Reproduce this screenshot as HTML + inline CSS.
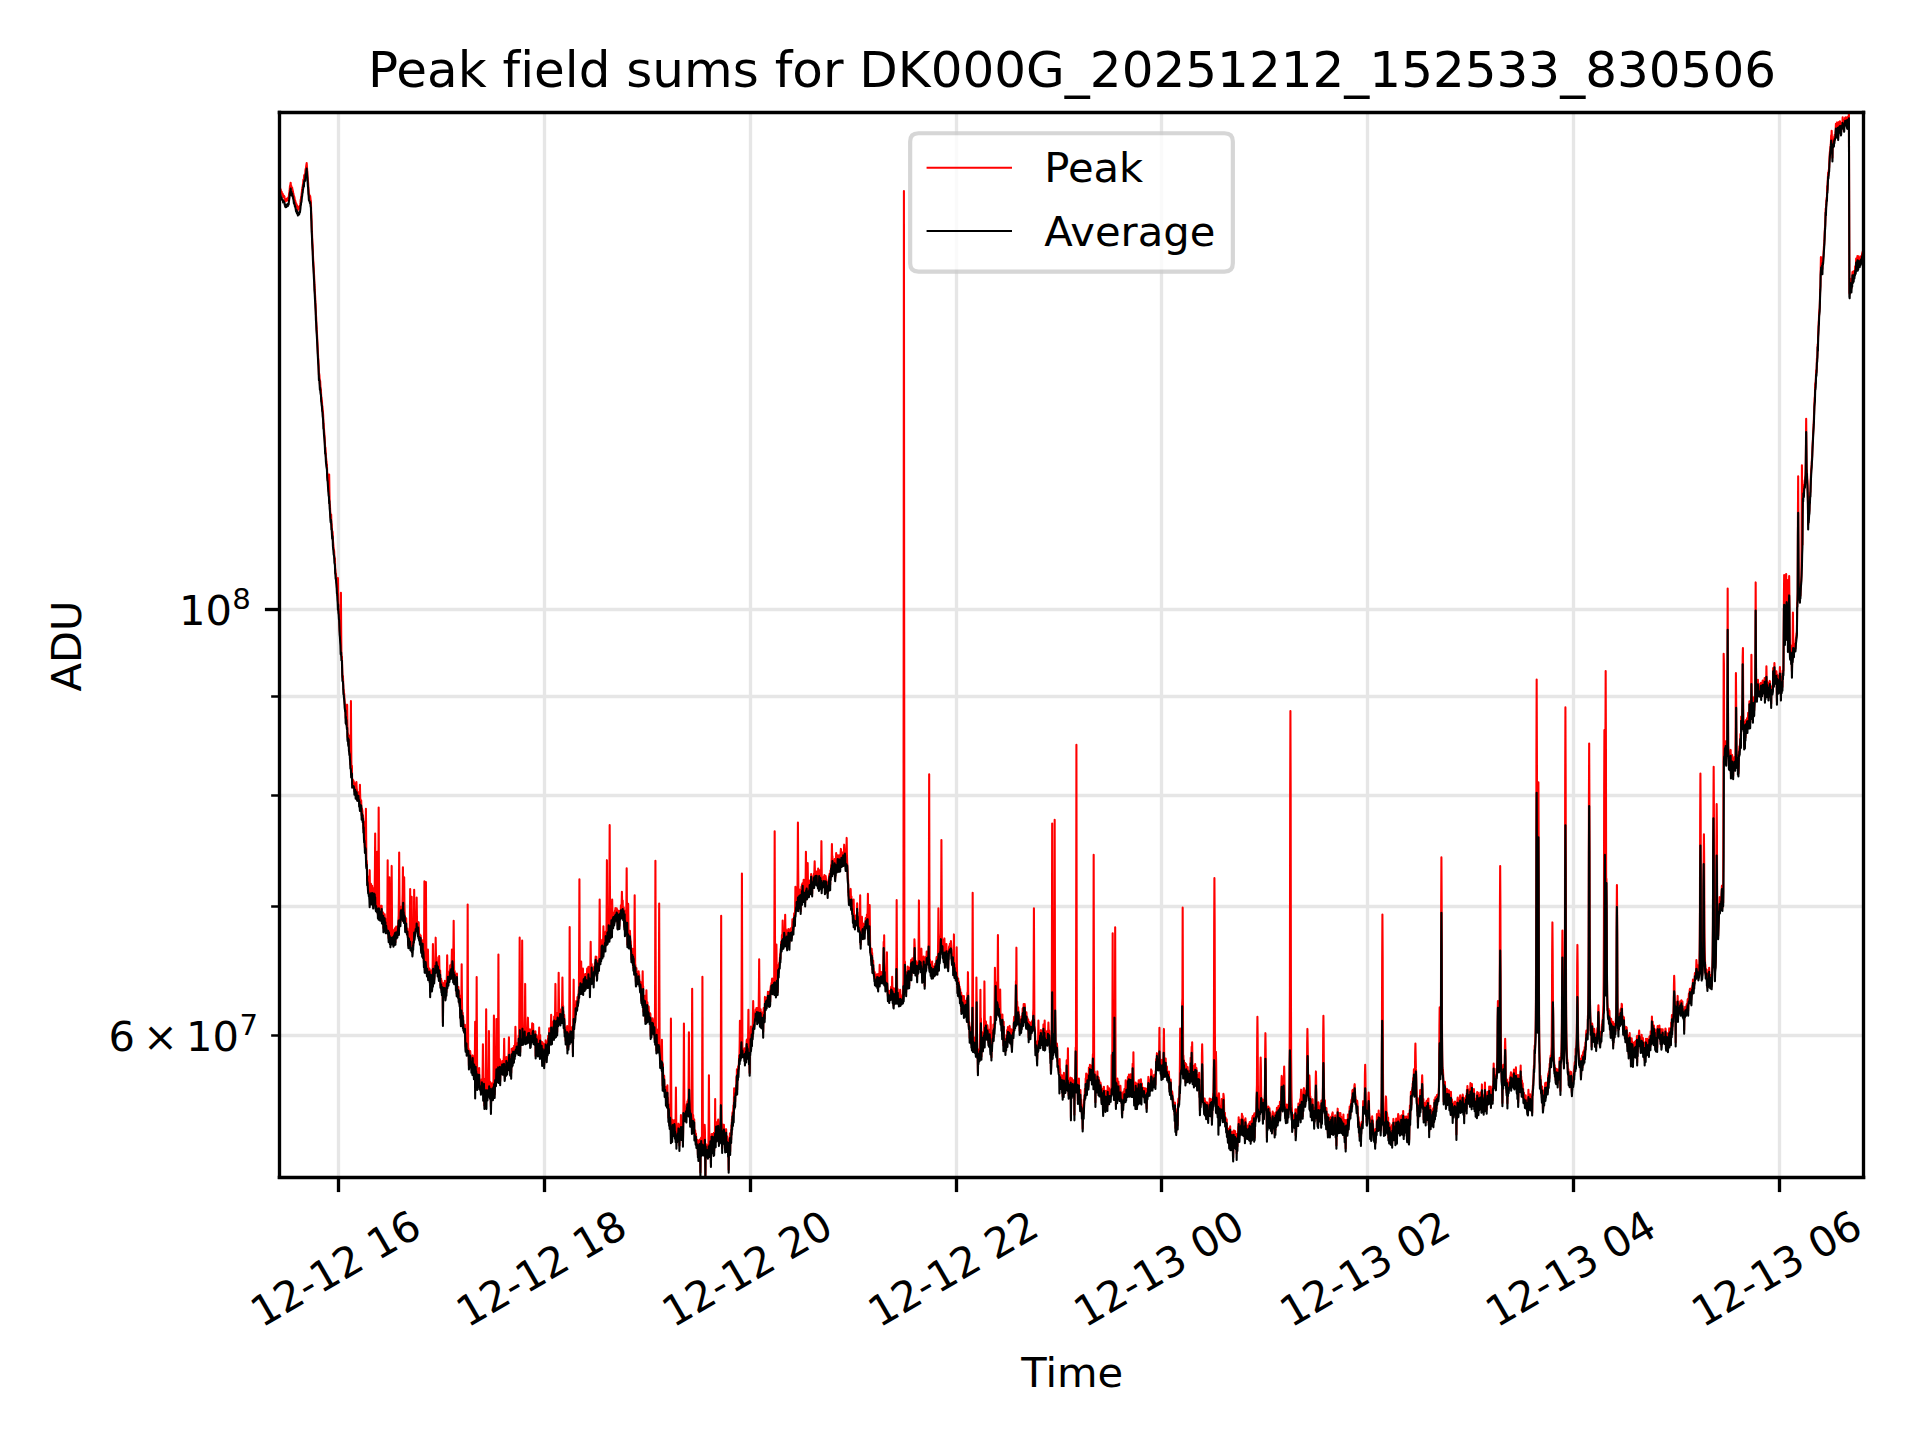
<!DOCTYPE html>
<html lang="en"><head><meta charset="utf-8"><title>Peak field sums</title>
<style>html,body{margin:0;padding:0;background:#fff;}body{width:1920px;height:1440px;overflow:hidden;font-family:'DejaVu Sans','Liberation Sans',sans-serif;}svg{display:block;}svg text{font-variant-ligatures:none;}</style>
</head><body>
<svg  width="1920" height="1440" viewBox="0 0 460.8 345.6" version="1.1">
 
 <defs>
  <style type="text/css">*{stroke-linejoin: round; stroke-linecap: butt}</style>
 </defs>
 <g id="figure_1">
  <g id="patch_1">
   <path d="M 0 345.6 
L 460.8 345.6 
L 460.8 0 
L 0 0 
z
" style="fill: #ffffff"/>
  </g>
  <g id="axes_1">
   <g id="patch_2">
    <path d="M 67.056 282.576 
L 447.264 282.576 
L 447.264 26.976 
L 67.056 26.976 
z
" style="fill: #ffffff"/>
   </g>
   <g id="matplotlib.axis_1">
    <g id="xtick_1">
     <g id="line2d_1">
      <path d="M 81.24 282.576 L 81.24 26.976" clip-path="url(#pd9eb30c69a)" style="fill: none; stroke: #e6e6e6; stroke-width: 0.8; stroke-linecap: square"/>
     </g>
     <g id="line2d_2">
      <defs>
       <path id="m61a1bba731" d="M 0 0 
L 0 3.5 
" style="stroke: #000000; stroke-width: 0.8"/>
      </defs>
      <g>
       <use href="#m61a1bba731" x="81.24" y="282.6" style="stroke: #000000; stroke-width: 0.8"/>
      </g>
     </g>
     <g id="text_1">
      <text style="font-size: 10px; font-family: 'DejaVu Sans', 'Liberation Sans', sans-serif" transform="translate(62.7910 318.7089) rotate(-30)">12-12 16</text>
     </g>
    </g>
    <g id="xtick_2">
     <g id="line2d_3">
      <path d="M 130.68 282.576 L 130.68 26.976" clip-path="url(#pd9eb30c69a)" style="fill: none; stroke: #e6e6e6; stroke-width: 0.8; stroke-linecap: square"/>
     </g>
     <g id="line2d_4">
      <g>
       <use href="#m61a1bba731" x="130.68" y="282.6" style="stroke: #000000; stroke-width: 0.8"/>
      </g>
     </g>
     <g id="text_2">
      <text style="font-size: 10px; font-family: 'DejaVu Sans', 'Liberation Sans', sans-serif" transform="translate(112.1967 318.7089) rotate(-30)">12-12 18</text>
     </g>
    </g>
    <g id="xtick_3">
     <g id="line2d_5">
      <path d="M 180.12 282.576 L 180.12 26.976" clip-path="url(#pd9eb30c69a)" style="fill: none; stroke: #e6e6e6; stroke-width: 0.8; stroke-linecap: square"/>
     </g>
     <g id="line2d_6">
      <g>
       <use href="#m61a1bba731" x="180.12" y="282.6" style="stroke: #000000; stroke-width: 0.8"/>
      </g>
     </g>
     <g id="text_3">
      <text style="font-size: 10px; font-family: 'DejaVu Sans', 'Liberation Sans', sans-serif" transform="translate(161.6025 318.7089) rotate(-30)">12-12 20</text>
     </g>
    </g>
    <g id="xtick_4">
     <g id="line2d_7">
      <path d="M 229.56 282.576 L 229.56 26.976" clip-path="url(#pd9eb30c69a)" style="fill: none; stroke: #e6e6e6; stroke-width: 0.8; stroke-linecap: square"/>
     </g>
     <g id="line2d_8">
      <g>
       <use href="#m61a1bba731" x="229.56" y="282.6" style="stroke: #000000; stroke-width: 0.8"/>
      </g>
     </g>
     <g id="text_4">
      <text style="font-size: 10px; font-family: 'DejaVu Sans', 'Liberation Sans', sans-serif" transform="translate(211.0082 318.7089) rotate(-30)">12-12 22</text>
     </g>
    </g>
    <g id="xtick_5">
     <g id="line2d_9">
      <path d="M 278.76 282.576 L 278.76 26.976" clip-path="url(#pd9eb30c69a)" style="fill: none; stroke: #e6e6e6; stroke-width: 0.8; stroke-linecap: square"/>
     </g>
     <g id="line2d_10">
      <g>
       <use href="#m61a1bba731" x="278.76" y="282.6" style="stroke: #000000; stroke-width: 0.8"/>
      </g>
     </g>
     <g id="text_5">
      <text style="font-size: 10px; font-family: 'DejaVu Sans', 'Liberation Sans', sans-serif" transform="translate(260.4139 318.7089) rotate(-30)">12-13 00</text>
     </g>
    </g>
    <g id="xtick_6">
     <g id="line2d_11">
      <path d="M 328.2 282.576 L 328.2 26.976" clip-path="url(#pd9eb30c69a)" style="fill: none; stroke: #e6e6e6; stroke-width: 0.8; stroke-linecap: square"/>
     </g>
     <g id="line2d_12">
      <g>
       <use href="#m61a1bba731" x="328.2" y="282.6" style="stroke: #000000; stroke-width: 0.8"/>
      </g>
     </g>
     <g id="text_6">
      <text style="font-size: 10px; font-family: 'DejaVu Sans', 'Liberation Sans', sans-serif" transform="translate(309.8196 318.7089) rotate(-30)">12-13 02</text>
     </g>
    </g>
    <g id="xtick_7">
     <g id="line2d_13">
      <path d="M 377.64 282.576 L 377.64 26.976" clip-path="url(#pd9eb30c69a)" style="fill: none; stroke: #e6e6e6; stroke-width: 0.8; stroke-linecap: square"/>
     </g>
     <g id="line2d_14">
      <g>
       <use href="#m61a1bba731" x="377.64" y="282.6" style="stroke: #000000; stroke-width: 0.8"/>
      </g>
     </g>
     <g id="text_7">
      <text style="font-size: 10px; font-family: 'DejaVu Sans', 'Liberation Sans', sans-serif" transform="translate(359.2253 318.7089) rotate(-30)">12-13 04</text>
     </g>
    </g>
    <g id="xtick_8">
     <g id="line2d_15">
      <path d="M 427.08 282.576 L 427.08 26.976" clip-path="url(#pd9eb30c69a)" style="fill: none; stroke: #e6e6e6; stroke-width: 0.8; stroke-linecap: square"/>
     </g>
     <g id="line2d_16">
      <g>
       <use href="#m61a1bba731" x="427.08" y="282.6" style="stroke: #000000; stroke-width: 0.8"/>
      </g>
     </g>
     <g id="text_8">
      <text style="font-size: 10px; font-family: 'DejaVu Sans', 'Liberation Sans', sans-serif" transform="translate(408.6310 318.7089) rotate(-30)">12-13 06</text>
     </g>
    </g>
    <g id="text_9">
     <text style="font-size: 10px; font-family: 'DejaVu Sans', 'Liberation Sans', sans-serif; text-anchor: middle" x="257.3280" y="332.8284" transform="rotate(-0 257.3280 332.8284)">Time</text>
    </g>
   </g>
   <g id="matplotlib.axis_2">
    <g id="ytick_1">
     <g id="line2d_17">
      <path d="M 67.056 146.28 L 447.264 146.28" clip-path="url(#pd9eb30c69a)" style="fill: none; stroke: #e6e6e6; stroke-width: 0.8; stroke-linecap: square"/>
     </g>
     <g id="line2d_18">
      <defs>
       <path id="m8c4eb105f7" d="M 0 0 
L -3.5 0 
" style="stroke: #000000; stroke-width: 0.8"/>
      </defs>
      <g>
       <use href="#m8c4eb105f7" x="67.08" y="146.28" style="stroke: #000000; stroke-width: 0.8"/>
      </g>
     </g>
     <g id="text_10">
      
      <g transform="translate(42.9360 150.9792)">
       <text>
        <tspan x="0" y="-0.976562" style="font-size: 10px; font-family: 'DejaVu Sans', 'Liberation Sans', sans-serif">1</tspan>
        <tspan x="6.362305" y="-0.976562" style="font-size: 10px; font-family: 'DejaVu Sans', 'Liberation Sans', sans-serif">0</tspan>
        <tspan x="12.820312" y="-4.804688" style="font-size: 7px; font-family: 'DejaVu Sans', 'Liberation Sans', sans-serif">8</tspan>
       </text>
      </g>
     </g>
    </g>
    <g id="ytick_2">
     <g id="line2d_19">
      <path d="M 67.056 248.52 L 447.264 248.52" clip-path="url(#pd9eb30c69a)" style="fill: none; stroke: #e6e6e6; stroke-width: 0.8; stroke-linecap: square"/>
     </g>
     <g id="line2d_20">
      <defs>
       <path id="me1d3a21ee4" d="M 0 0 
L -2 0 
" style="stroke: #000000; stroke-width: 0.6"/>
      </defs>
      <g>
       <use href="#me1d3a21ee4" x="67.08" y="248.52" style="stroke: #000000; stroke-width: 0.6"/>
      </g>
     </g>
     <g id="text_11">
      
      <g transform="translate(26.0320 252.2112)">
       <text>
        <tspan x="0" y="-0.064063" style="font-size: 10px; font-family: 'DejaVu Sans', 'Liberation Sans', sans-serif">6</tspan>
        <tspan x="8.310547" y="-0.064063" style="font-size: 10px; font-family: 'DejaVu Sans', 'Liberation Sans', sans-serif">×</tspan>
        <tspan x="18.637695" y="-0.064063" style="font-size: 10px; font-family: 'DejaVu Sans', 'Liberation Sans', sans-serif">1</tspan>
        <tspan x="25" y="-0.064063" style="font-size: 10px; font-family: 'DejaVu Sans', 'Liberation Sans', sans-serif">0</tspan>
        <tspan x="31.458008" y="-3.892188" style="font-size: 7px; font-family: 'DejaVu Sans', 'Liberation Sans', sans-serif">7</tspan>
       </text>
      </g>
     </g>
    </g>
    <g id="ytick_3">
     <g id="line2d_21">
      <path d="M 67.056 217.56 L 447.264 217.56" clip-path="url(#pd9eb30c69a)" style="fill: none; stroke: #e6e6e6; stroke-width: 0.8; stroke-linecap: square"/>
     </g>
     <g id="line2d_22">
      <g>
       <use href="#me1d3a21ee4" x="67.08" y="217.56" style="stroke: #000000; stroke-width: 0.6"/>
      </g>
     </g>
    </g>
    <g id="ytick_4">
     <g id="line2d_23">
      <path d="M 67.056 190.92 L 447.264 190.92" clip-path="url(#pd9eb30c69a)" style="fill: none; stroke: #e6e6e6; stroke-width: 0.8; stroke-linecap: square"/>
     </g>
     <g id="line2d_24">
      <g>
       <use href="#me1d3a21ee4" x="67.08" y="190.92" style="stroke: #000000; stroke-width: 0.6"/>
      </g>
     </g>
    </g>
    <g id="ytick_5">
     <g id="line2d_25">
      <path d="M 67.056 167.16 L 447.264 167.16" clip-path="url(#pd9eb30c69a)" style="fill: none; stroke: #e6e6e6; stroke-width: 0.8; stroke-linecap: square"/>
     </g>
     <g id="line2d_26">
      <g>
       <use href="#me1d3a21ee4" x="67.08" y="167.16" style="stroke: #000000; stroke-width: 0.6"/>
      </g>
     </g>
    </g>
    <g id="text_12">
     <text style="font-size: 10px; font-family: 'DejaVu Sans', 'Liberation Sans', sans-serif; text-anchor: middle" x="19.5443" y="155.0400" transform="rotate(-90 19.5443 155.0400)">ADU</text>
    </g>
   </g>
   <g id="line2d_27">
    <path d="M67.06 45.04L67.12 45.24L67.18 45.3L67.24 45.16L67.3 45.5L67.36 45.48L67.42 45.9L67.48 46.38L67.54 45.99L67.6 46.04L67.66 46.5L67.72 46.58L67.78 46.68L67.84 46.51L67.9 46.89L67.96 47.27L68.02 46.88L68.08 47.21L68.14 46.97L68.2 47.2L68.26 47.14L68.32 47.83L68.38 47.67L68.44 48.19L68.5 48.3L68.56 48.33L68.62 47.81L68.68 48.11L68.74 48.2L68.8 48.19L68.86 47.68L68.92 47.83L68.98 47.61L69.04 47.67L69.1 48.04L69.16 47.44L69.22 47.59L69.28 47.72L69.34 46.93L69.4 46.5L69.46 46.16L69.52 45.65L69.58 44.78L69.64 44.48L69.7 44.34L69.76 43.85L69.82 44.71L69.88 44.71L69.94 44.68L70 45.39L70.06 45.37L70.12 45.05L70.18 45.56L70.24 45.85L70.3 45.84L70.36 46.35L70.42 46.49L70.48 46.93L70.54 47.34L70.6 47.13L70.66 47.53L70.72 47.76L70.78 48.2L70.84 48.12L70.9 48.44L70.96 48.53L71.02 49.19L71.08 49.37L71.14 48.96L71.2 49.28L71.26 49.83L71.32 49.33L71.38 49.93L71.44 50.05L71.5 50.38L71.56 50.17L71.62 49.75L71.68 49.77L71.74 49.64L71.8 50.08L71.86 49.5L71.92 49.53L71.98 49.51L72.04 49.19L72.1 48.63L72.16 47.9L72.22 47.83L72.28 47.21L72.34 47.05L72.4 46.49L72.46 45.96L72.52 45.6L72.58 44.93L72.64 44.91L72.7 44.23L72.76 43.93L72.82 43.09L72.88 43.2L72.94 43.44L73 42.1L73.06 42.2L73.12 41.87L73.18 41.88L73.24 42.06L73.3 40.92L73.36 40.53L73.42 40.39L73.48 39.95L73.54 39.53L73.6 39.14L73.66 39.99L73.72 40.88L73.78 41.25L73.84 42.42L73.9 43.34L73.96 43.95L74.02 45.11L74.08 45.74L74.14 46.73L74.2 46.61L74.26 46.94L74.32 46.95L74.38 47.42L74.44 47.06L74.5 47.59L74.56 48.2L74.62 48.44L74.68 50.87L74.74 51.81L74.8 54.08L74.86 55.2L74.92 57.03L74.98 58.16L75.04 58.97L75.1 60.97L75.16 62.28L75.22 63.02L75.28 64.15L75.34 65.43L75.4 66.4L75.46 68.21L75.52 68.78L75.58 70.25L75.64 71.19L75.7 72.51L75.76 73.38L75.82 75.42L75.88 76.2L75.94 77.84L76 78.7L76.06 79.67L76.12 80.97L76.18 82.11L76.24 83.44L76.3 84.61L76.36 85.84L76.42 86.42L76.48 88L76.54 89.94L76.6 89.65L76.66 90.14L76.72 91.19L76.78 92.23L76.84 91.43L76.9 92.77L76.96 93.37L77.02 93.53L77.08 95.08L77.14 95.32L77.2 95.9L77.26 96.22L77.32 97.38L77.38 97.52L77.44 98.46L77.5 98.81L77.56 99.66L77.62 101.59L77.68 101.6L77.74 102.76L77.8 103.58L77.86 104.24L77.92 104.98L77.98 106.35L78.04 107.77L78.1 107.42L78.16 108.35L78.22 109.6L78.28 110.15L78.34 110.76L78.4 111.17L78.46 111.51L78.52 113.3L78.58 113.87L78.64 114.34L78.7 115.4L78.76 116.08L78.82 117L78.88 117.92L78.94 116.5L79 113.91L79.06 118L79.12 120.92L79.18 121.16L79.24 122.35L79.3 123.67L79.36 124.22L79.42 123.59L79.48 123.51L79.54 125.93L79.6 125.78L79.66 127.02L79.72 128.2L79.78 127.49L79.84 127.96L79.9 129.64L79.96 130.31L80.02 131L80.08 131.89L80.14 131.91L80.2 132.4L80.26 133.87L80.32 134.08L80.38 133.97L80.44 136.32L80.5 136.81L80.56 137.76L80.62 137.61L80.68 138.68L80.74 139.26L80.8 139.64L80.86 141.09L80.92 141.34L80.98 142.82L81.04 141.47L81.1 138.71L81.16 142.91L81.22 145.89L81.28 146.49L81.34 146.96L81.4 147.79L81.46 149.39L81.52 151.35L81.58 151.89L81.64 153.14L81.7 153.53L81.76 149.45L81.82 142.26L81.88 151.26L81.94 157.42L82 157.5L82.06 157.59L82.12 159.92L82.18 162.1L82.24 162.55L82.3 162.26L82.36 163.6L82.42 165.56L82.48 165.52L82.54 166.3L82.6 166.46L82.66 167.63L82.72 168.62L82.78 169.09L82.84 169.13L82.9 169.43L82.96 172.33L83.02 170.92L83.08 173.01L83.14 171.58L83.2 172.96L83.26 171.98L83.32 169.12L83.38 173.23L83.44 176.87L83.5 175.98L83.56 177.82L83.62 178.04L83.68 176.47L83.74 178.84L83.8 179.49L83.86 179.53L83.92 179.93L83.98 181.09L84.04 181.39L84.1 183.47L84.16 176.66L84.22 168.28L84.28 177.86L84.34 184.45L84.4 184.56L84.46 183.76L84.52 188.22L84.58 186.96L84.64 187.73L84.7 187.77L84.76 187.2L84.82 187.88L84.88 187.49L84.94 188.09L85 188.06L85.06 189.92L85.12 188.02L85.18 188.68L85.24 188.06L85.3 188.5L85.36 190.72L85.42 190.2L85.48 189.18L85.54 187.69L85.6 189.14L85.66 189.6L85.72 191.35L85.78 190.46L85.84 190.19L85.9 190.77L85.96 191.51L86.02 190.14L86.08 191.33L86.14 191.17L86.2 192.32L86.26 191.61L86.32 190.82L86.38 188.36L86.44 191.16L86.5 192.05L86.56 193.09L86.62 193.3L86.68 192.04L86.74 193.95L86.8 195.68L86.86 193.99L86.92 194.41L86.98 194.71L87.04 196.64L87.1 195.65L87.16 196.44L87.22 198.86L87.28 197.15L87.34 199.64L87.4 200.93L87.46 201.07L87.52 201.81L87.58 203.47L87.64 202.32L87.7 202.66L87.76 199.66L87.82 194.1L87.88 201.2L87.94 206.99L88 206.5L88.06 207.2L88.12 211.28L88.18 210.27L88.24 210.83L88.3 212.66L88.36 213.73L88.42 213.29L88.48 213.51L88.54 213.55L88.6 214.27L88.66 212.28L88.72 208.84L88.78 212.84L88.84 215.67L88.9 214L88.96 214.76L89.02 212.09L89.08 213.81L89.14 216L89.2 215.89L89.26 215.12L89.32 212.59L89.38 214.01L89.44 214.6L89.5 215.2L89.56 217.39L89.62 215.17L89.68 213.83L89.74 213.12L89.8 214.78L89.86 214.57L89.92 213.73L89.98 208.61L90.04 200.06L90.1 209.33L90.16 217.48L90.22 217.62L90.28 216.66L90.34 217.87L90.4 217.48L90.46 212.17L90.52 204.45L90.58 212.71L90.64 217.36L90.7 219.51L90.76 218.79L90.82 207.9L90.88 193.82L90.94 207.97L91 218.19L91.06 219.21L91.12 219.19L91.18 218.79L91.24 220.23L91.3 218.98L91.36 218.02L91.42 217.41L91.48 220.29L91.54 219.58L91.6 217.39L91.66 220.4L91.72 220.17L91.78 220.9L91.84 219.4L91.9 219.78L91.96 218.99L92.02 222.7L92.08 220.37L92.14 222.32L92.2 219.93L92.26 219.65L92.32 219.44L92.38 220.71L92.44 222.22L92.5 220.57L92.56 223.03L92.62 222.56L92.68 221.5L92.74 222.04L92.8 221.94L92.86 222.73L92.92 222.76L92.98 216.02L93.04 206.47L93.1 216.4L93.16 222.74L93.22 224.33L93.28 225.19L93.34 222.62L93.4 218.63L93.46 210.53L93.52 218.74L93.58 225.96L93.64 223.94L93.7 226.47L93.76 224.28L93.82 224.9L93.88 224.09L93.94 217.63L94 207.82L94.06 217.7L94.12 225.78L94.18 224.85L94.24 223.8L94.3 225.1L94.36 224.33L94.42 226.5L94.48 223.81L94.54 224.58L94.6 223.16L94.66 225.89L94.72 223.43L94.78 222.81L94.84 224.75L94.9 226.12L94.96 222.87L95.02 223.17L95.08 222.37L95.14 222.55L95.2 223.64L95.26 223.18L95.32 222.41L95.38 224.14L95.44 222.83L95.5 223.19L95.56 221.88L95.62 220.75L95.68 219.75L95.74 214.47L95.8 204.62L95.86 213.75L95.92 220.71L95.98 220.5L96.04 218.89L96.1 221.31L96.16 217.93L96.22 217.62L96.28 217.71L96.34 217.84L96.4 219.46L96.46 219.5L96.52 217.92L96.58 216.79L96.64 214.4L96.7 208.16L96.76 214.28L96.82 219.46L96.88 217.87L96.94 215.68L97 210.53L97.06 216.4L97.12 219.11L97.18 220.11L97.24 222.3L97.3 222.34L97.36 221.68L97.42 221.1L97.48 220.4L97.54 222.56L97.6 223.19L97.66 223.56L97.72 223.44L97.78 222.87L97.84 223.56L97.9 224.52L97.96 224.68L98.02 226.91L98.08 226.2L98.14 224.16L98.2 225.15L98.26 225.01L98.32 225.07L98.38 220.61L98.44 213.39L98.5 221.06L98.56 225.04L98.62 227.03L98.68 227.07L98.74 222.21L98.8 215.25L98.86 222.69L98.92 227.62L98.98 227.71L99.04 227.3L99.1 226.33L99.16 227.02L99.22 225.4L99.28 225.35L99.34 220.76L99.4 213.56L99.46 219.8L99.52 224.15L99.58 223.33L99.64 223.2L99.7 223.28L99.76 221.64L99.82 222.67L99.88 221.57L99.94 219.68L100 215.42L100.06 219.65L100.12 222.92L100.18 221.92L100.24 222.44L100.3 223.07L100.36 221.9L100.42 222.89L100.48 221.32L100.54 223.37L100.6 224.83L100.66 224.15L100.72 224.38L100.78 225.47L100.84 225.74L100.9 225.6L100.96 224.53L101.02 226.94L101.08 227.2L101.14 227.52L101.2 227.16L101.26 225.89L101.32 228.04L101.38 228.12L101.44 225.66L101.5 228.36L101.56 226.75L101.62 227.03L101.68 228.89L101.74 231.04L101.8 222.01L101.86 211.54L101.92 222.49L101.98 232.66L102.04 230.35L102.1 230.73L102.16 222.8L102.22 211.71L102.28 223.16L102.34 232.11L102.4 232.26L102.46 232.96L102.52 230.77L102.58 231.37L102.64 230.89L102.7 227.91L102.76 231.25L102.82 233.49L102.88 233.39L102.94 233.64L103 232.85L103.06 232.46L103.12 235.03L103.18 234.38L103.24 237.9L103.3 232.84L103.36 234.29L103.42 234.71L103.48 234.1L103.54 232.96L103.6 235.73L103.66 237.09L103.72 236.73L103.78 234.98L103.84 231.95L103.9 226.56L103.96 231.23L104.02 234.5L104.08 234.84L104.14 234.55L104.2 235.05L104.26 234.42L104.32 232.72L104.38 232.73L104.44 232.45L104.5 229.09L104.56 225.04L104.62 228.37L104.68 232.53L104.74 230.09L104.8 229.74L104.86 231.27L104.92 232.39L104.98 231.55L105.04 233.23L105.1 230.88L105.16 232.46L105.22 232.78L105.28 233.97L105.34 231.81L105.4 229.43L105.46 232.37L105.52 233.89L105.58 234L105.64 232.93L105.7 236.38L105.76 235.5L105.82 235.66L105.88 234.91L105.94 237.53L106 235.36L106.06 237.87L106.12 236.21L106.18 235.91L106.24 237.38L106.3 245.47L106.36 238.33L106.42 237.63L106.48 235.99L106.54 236.77L106.6 236.89L106.66 237.16L106.72 236.18L106.78 235.42L106.84 237.84L106.9 239.34L106.96 238.95L107.02 236.64L107.08 236.45L107.14 238.12L107.2 235.47L107.26 233.52L107.32 229.26L107.38 233.1L107.44 234.91L107.5 233.13L107.56 233.57L107.62 235.43L107.68 233.95L107.74 234.62L107.8 234.41L107.86 233.62L107.92 233.44L107.98 234.45L108.04 231.67L108.1 232.05L108.16 231.73L108.22 233.85L108.28 232.88L108.34 231.4L108.4 230.71L108.46 227.91L108.52 230.29L108.58 230.03L108.64 230.52L108.7 231.04L108.76 234.89L108.82 227.48L108.88 220.99L108.94 227.96L109 235.4L109.06 233.17L109.12 233.07L109.18 233.78L109.24 234.48L109.3 234.68L109.36 233.83L109.42 236.19L109.48 236.47L109.54 235.67L109.6 238.47L109.66 233.65L109.72 236.7L109.78 236.87L109.84 237.98L109.9 238.03L109.96 236.96L110.02 236.9L110.08 239.69L110.14 237.87L110.2 239.97L110.26 240.16L110.32 240.89L110.38 238.9L110.44 243.29L110.5 242.74L110.56 244.34L110.62 244.66L110.68 242.85L110.74 238.41L110.8 231.45L110.86 239.01L110.92 243.75L110.98 245.03L111.04 243.09L111.1 245.97L111.16 244L111.22 246.73L111.28 246.57L111.34 246.33L111.4 247.2L111.46 246.93L111.52 246.94L111.58 245.94L111.64 248.58L111.7 250.88L111.76 251.21L111.82 251.32L111.88 250.95L111.94 249.81L112 251.7L112.06 250.83L112.12 251.21L112.18 236.47L112.24 217.11L112.3 236.89L112.36 251.76L112.42 251.6L112.48 251.92L112.54 255.74L112.6 252.51L112.66 252.76L112.72 253.95L112.78 254.24L112.84 252.25L112.9 252.99L112.96 255.03L113.02 254.79L113.08 254.35L113.14 256.41L113.2 254.24L113.26 255.08L113.32 253.81L113.38 257.03L113.44 253.3L113.5 254.07L113.56 254.7L113.62 256.72L113.68 257.03L113.74 258.16L113.8 254.13L113.86 256.93L113.92 256.04L113.98 252.04L114.04 245.25L114.1 252.42L114.16 254.82L114.22 257.72L114.28 256.37L114.34 247.83L114.4 234.49L114.46 248.13L114.52 260.46L114.58 258.69L114.64 256.79L114.7 258.35L114.76 257.8L114.82 257.64L114.88 259.73L114.94 258.38L115 256.31L115.06 260.75L115.12 258.94L115.18 260.3L115.24 260.26L115.3 261.04L115.36 259.88L115.42 261.93L115.48 260.99L115.54 260.45L115.6 261.18L115.66 259.04L115.72 260.87L115.78 259.88L115.84 256.65L115.9 250.65L115.96 256.83L116.02 261.62L116.08 258.84L116.14 259.15L116.2 261.14L116.26 265.32L116.32 260.91L116.38 261.79L116.44 260.12L116.5 262.2L116.56 260.56L116.62 253.34L116.68 242.21L116.74 253.46L116.8 260.65L116.86 261.66L116.92 261.22L116.98 263.33L117.04 261L117.1 261.3L117.16 262.38L117.22 261.14L117.28 256L117.34 247.44L117.4 256.08L117.46 260.86L117.52 262.09L117.58 261.75L117.64 262.5L117.7 259.77L117.76 261.85L117.82 265.64L117.88 263.68L117.94 262.48L118 261.31L118.06 262.96L118.12 261.5L118.18 259.98L118.24 260.28L118.3 263.32L118.36 261.51L118.42 261.65L118.48 253.42L118.54 243.73L118.6 252.9L118.66 259.21L118.72 262.65L118.78 259.5L118.84 257.9L118.9 258.03L118.96 259.13L119.02 259.41L119.08 252.43L119.14 244.57L119.2 252.07L119.26 257.05L119.32 257.41L119.38 258.97L119.44 257.69L119.5 258.02L119.56 244.67L119.62 229.09L119.68 244.44L119.74 257.03L119.8 256.96L119.86 256.38L119.92 258.31L119.98 254.25L120.04 259.51L120.1 256.77L120.16 256.71L120.22 255.77L120.28 255.96L120.34 255.53L120.4 255.86L120.46 256L120.52 254.66L120.58 255.92L120.64 257.29L120.7 254.89L120.76 255.01L120.82 256.64L120.88 254.22L120.94 253.22L121 249.3L121.06 253.14L121.12 258.05L121.18 258.32L121.24 254.95L121.3 256.67L121.36 255.53L121.42 254.98L121.48 257.33L121.54 253.71L121.6 256.72L121.66 254.85L121.72 257.09L121.78 255.54L121.84 254.05L121.9 255.54L121.96 256.06L122.02 253.32L122.08 252.61L122.14 248.96L122.2 252.42L122.26 256.01L122.32 255.9L122.38 254.99L122.44 256.82L122.5 255.91L122.56 253.96L122.62 253.58L122.68 257.49L122.74 255.61L122.8 251.7L122.86 255.25L122.92 252.35L122.98 251.91L123.04 254.98L123.1 253.09L123.16 251.49L123.22 252.63L123.28 253.91L123.34 254.18L123.4 250.99L123.46 252.81L123.52 253.1L123.58 251.47L123.64 249.97L123.7 246.43L123.76 249.63L123.82 250.94L123.88 251.21L123.94 251.43L124 250.49L124.06 250.55L124.12 251.79L124.18 250.42L124.24 250.7L124.3 251.16L124.36 250.63L124.42 252.06L124.48 248.58L124.54 249.88L124.6 248.66L124.66 238.49L124.72 225.04L124.78 238.38L124.84 252.53L124.9 249.4L124.96 249.59L125.02 249.47L125.08 248.32L125.14 248.99L125.2 248.92L125.26 238.69L125.32 225.71L125.38 238.69L125.44 249.25L125.5 247.23L125.56 249.9L125.62 248.05L125.68 247.19L125.74 248.96L125.8 247.27L125.86 247.58L125.92 246.66L125.98 243.31L126.04 236.14L126.1 243.25L126.16 248.11L126.22 249.94L126.28 248.21L126.34 248.06L126.4 248.84L126.46 249.37L126.52 247.8L126.58 248.16L126.64 246.78L126.7 244.24L126.76 246.72L126.82 248.82L126.88 247.65L126.94 248.83L127 247.2L127.06 248.53L127.12 248.67L127.18 247.03L127.24 250.77L127.3 249.03L127.36 250.35L127.42 249.44L127.48 247.37L127.54 248.09L127.6 249.49L127.66 247.64L127.72 245.59L127.78 247.79L127.84 246.53L127.9 248.91L127.96 245.76L128.02 248.93L128.08 248.02L128.14 248.62L128.2 247.85L128.26 249.7L128.32 247.93L128.38 247.74L128.44 248.63L128.5 247.51L128.56 253.42L128.62 251.73L128.68 248.62L128.74 250.9L128.8 248.45L128.86 250.61L128.92 250.06L128.98 250.21L129.04 251.38L129.1 252.57L129.16 250.7L129.22 250.49L129.28 248.9L129.34 249.25L129.4 246.6L129.46 249.4L129.52 250.71L129.58 253.04L129.64 248.42L129.7 250.94L129.76 252.48L129.82 250.96L129.88 250.59L129.94 251.23L130 250.02L130.06 251.22L130.12 255.01L130.18 253.37L130.24 250.19L130.3 251.32L130.36 250.87L130.42 253.83L130.48 251.04L130.54 250.56L130.6 255.52L130.66 253.73L130.72 252.61L130.78 251.46L130.84 250.89L130.9 252.11L130.96 249.65L131.02 252.79L131.08 251.43L131.14 252.17L131.2 253.65L131.26 253.06L131.32 250.11L131.38 251.46L131.44 252.11L131.5 250.25L131.56 248.57L131.62 249.68L131.68 248.56L131.74 252.13L131.8 246.81L131.86 247.95L131.92 249.05L131.98 249.21L132.04 249.39L132.1 249.43L132.16 248.34L132.22 246.71L132.28 243.56L132.34 246.29L132.4 247.23L132.46 248.84L132.52 246.83L132.58 245.79L132.64 246.27L132.7 247.94L132.76 246.59L132.82 245.12L132.88 247.74L132.94 248.53L133 243.97L133.06 246.06L133.12 248L133.18 246.32L133.24 241.48L133.3 236.14L133.36 241.32L133.42 248.06L133.48 244.34L133.54 245.67L133.6 243.93L133.66 243.72L133.72 247.74L133.78 244.03L133.84 243.05L133.9 243.26L133.96 245.34L134.02 239.71L134.08 233.47L134.14 239.55L134.2 243.56L134.26 243.11L134.32 243.31L134.38 244.85L134.44 242.32L134.5 245.11L134.56 242.35L134.62 242.55L134.68 242.89L134.74 242.83L134.8 243.4L134.86 242.44L134.92 239.77L134.98 234.62L135.04 239.98L135.1 242.84L135.16 241.45L135.22 243.86L135.28 245.37L135.34 245.19L135.4 243.56L135.46 244.76L135.52 247.84L135.58 246.46L135.64 246.59L135.7 247.62L135.76 249.75L135.82 248.98L135.88 247.15L135.94 247.45L136 247.96L136.06 247.05L136.12 246.24L136.18 251.59L136.24 246.5L136.3 247.99L136.36 248.11L136.42 251.21L136.48 247.04L136.54 247.74L136.6 247.82L136.66 237.1L136.72 222.51L136.78 237.18L136.84 247.6L136.9 246.54L136.96 246.64L137.02 249.33L137.08 248.66L137.14 246.82L137.2 246.65L137.26 248.05L137.32 248.11L137.38 246.44L137.44 246.6L137.5 252.71L137.56 245.48L137.62 241.81L137.68 235.12L137.74 241.38L137.8 246.11L137.86 244.53L137.92 243.46L137.98 244.85L138.04 243.24L138.1 243.72L138.16 241.16L138.22 241.92L138.28 240.23L138.34 241.47L138.4 241.59L138.46 241.67L138.52 241.61L138.58 239.3L138.64 240.48L138.7 240.63L138.76 240.2L138.82 239.78L138.88 238.06L138.94 237.25L139 226.11L139.06 211.03L139.12 225.84L139.18 236.86L139.24 236.86L139.3 235.32L139.36 236.14L139.42 234.49L139.48 230.78L139.54 234.22L139.6 236.64L139.66 235.82L139.72 235.55L139.78 236.66L139.84 234.84L139.9 232.43L139.96 234.68L140.02 235.74L140.08 234.28L140.14 234.44L140.2 234.21L140.26 234.49L140.32 236.72L140.38 235.74L140.44 233.8L140.5 235.9L140.56 236.59L140.62 234.71L140.68 233.7L140.74 234.81L140.8 235.11L140.86 234.17L140.92 232.43L140.98 234.07L141.04 236.3L141.1 235.89L141.16 235.62L141.22 232.05L141.28 234.24L141.34 235.1L141.4 234.1L141.46 234.8L141.52 234.04L141.58 237.29L141.64 235.71L141.7 230.9L141.76 226.01L141.82 230.82L141.88 235.28L141.94 234.62L142 231.36L142.06 233.03L142.12 233.73L142.18 232.7L142.24 233.47L142.3 234.12L142.36 233.5L142.42 232.56L142.48 235.53L142.54 233.27L142.6 231.99L142.66 233.29L142.72 233.13L142.78 231.11L142.84 231.98L142.9 230.56L142.96 229.6L143.02 230.86L143.08 231.37L143.14 229.62L143.2 231.22L143.26 234.62L143.32 233.73L143.38 230.59L143.44 232.63L143.5 230.72L143.56 231.49L143.62 232.22L143.68 231.15L143.74 231.11L143.8 230.21L143.86 224.23L143.92 215.89L143.98 223.66L144.04 229.74L144.1 230.03L144.16 229.42L144.22 229.67L144.28 230.1L144.34 227.74L144.4 226.01L144.46 226.45L144.52 225.57L144.58 229.31L144.64 226.3L144.7 228.57L144.76 225.3L144.82 222.3L144.88 225.02L144.94 226.43L145 225.78L145.06 226.23L145.12 226.4L145.18 225.62L145.24 225.71L145.3 227.13L145.36 223.55L145.42 225.87L145.48 224.37L145.54 225.54L145.6 217.09L145.66 206.44L145.72 216.81L145.78 222.99L145.84 224.88L145.9 223.97L145.96 224.76L146.02 223.94L146.08 221.39L146.14 222.93L146.2 223.77L146.26 212.46L146.32 198.04L146.38 212.1L146.44 221.46L146.5 224.2L146.56 224.48L146.62 222.23L146.68 221.49L146.74 220.26L146.8 222.44L146.86 219.28L146.92 215.89L146.98 218.8L147.04 221.01L147.1 219L147.16 221.77L147.22 219L147.28 220.14L147.34 220.09L147.4 221.05L147.46 220.95L147.52 220.67L147.58 218.56L147.64 219.08L147.7 217.91L147.76 219L147.82 218.74L147.88 218.57L147.94 219.38L148 218L148.06 218.77L148.12 218.3L148.18 221.34L148.24 219.77L148.3 222.28L148.36 218.82L148.42 219.2L148.48 219.83L148.54 218.59L148.6 219.19L148.66 222.25L148.72 219.5L148.78 218.75L148.84 218.59L148.9 219.84L148.96 219.81L149.02 217.28L149.08 217.51L149.14 219.17L149.2 216.63L149.26 214.03L149.32 217.05L149.38 218.95L149.44 216.13L149.5 218.92L149.56 219.7L149.62 218.53L149.68 217.73L149.74 219.36L149.8 221.26L149.86 222.47L149.92 218.52L149.98 223.5L150.04 219.78L150.1 221.99L150.16 222.82L150.22 222.77L150.28 221.72L150.34 216.41L150.4 208.4L150.46 216.89L150.52 220.34L150.58 226.73L150.64 224.22L150.7 221.05L150.76 216.9L150.82 221.59L150.88 226.43L150.94 227L151 225.29L151.06 224.46L151.12 225.36L151.18 223.39L151.24 224.76L151.3 226.48L151.36 225.9L151.42 227.2L151.48 227.71L151.54 230.2L151.6 229.73L151.66 228.73L151.72 229.2L151.78 227.72L151.84 228.69L151.9 230.88L151.96 228.31L152.02 232.27L152.08 229.37L152.14 230.74L152.2 233.14L152.26 224.27L152.32 214.88L152.38 224.87L152.44 231.32L152.5 231.58L152.56 234.31L152.62 235.57L152.68 235.36L152.74 232.32L152.8 233.63L152.86 233.45L152.92 234.39L152.98 234.12L153.04 234.24L153.1 234.47L153.16 233.59L153.22 234.41L153.28 233.1L153.34 235.32L153.4 233.91L153.46 235.82L153.52 235.51L153.58 236.62L153.64 237.3L153.7 235.65L153.76 235.99L153.82 236.24L153.88 238.62L153.94 240.16L154 239.28L154.06 238.33L154.12 240.2L154.18 236.54L154.24 233.1L154.3 237.01L154.36 236.71L154.42 242.8L154.48 241.12L154.54 239.12L154.6 240.74L154.66 240.25L154.72 240.23L154.78 239L154.84 240.17L154.9 245.01L154.96 241.92L155.02 242.74L155.08 240.25L155.14 237.66L155.2 240.57L155.26 242.25L155.32 240.49L155.38 240.61L155.44 244.16L155.5 242.18L155.56 243.88L155.62 243.15L155.68 241.55L155.74 243.06L155.8 243.02L155.86 243.45L155.92 244.76L155.98 244.64L156.04 243.19L156.1 243.49L156.16 248.66L156.22 244.84L156.28 245.79L156.34 248.35L156.4 245.5L156.46 245.39L156.52 245.07L156.58 244.79L156.64 244.4L156.7 244.82L156.76 245.23L156.82 245.11L156.88 247.31L156.94 246.41L157 246.45L157.06 245.39L157.12 249.33L157.18 248.3L157.24 229.47L157.3 206.61L157.36 229.87L157.42 247.73L157.48 249.62L157.54 252.09L157.6 247.01L157.66 250.6L157.72 251.56L157.78 249.54L157.84 250.15L157.9 250.91L157.96 250.44L158.02 251.49L158.08 250L158.14 235.97L158.2 216.83L158.26 236.5L158.32 252.46L158.38 252.3L158.44 254.9L158.5 254.79L158.56 254.71L158.62 253.87L158.68 251.14L158.74 254.48L158.8 252.79L158.86 249.54L158.92 253.75L158.98 256.99L159.04 260.51L159.1 255.38L159.16 258.88L159.22 258.96L159.28 258.08L159.34 261.27L159.4 258.18L159.46 260.55L159.52 262.02L159.58 260.84L159.64 260.9L159.7 262.05L159.76 260.89L159.82 263.77L159.88 261.01L159.94 264.29L160 261.81L160.06 265.15L160.12 264.28L160.18 260.45L160.24 265.1L160.3 263.39L160.36 264.93L160.42 268.26L160.48 265.11L160.54 265.67L160.6 269.58L160.66 267.95L160.72 269.49L160.78 268.67L160.84 267.69L160.9 268.71L160.96 258.26L161.02 244.48L161.08 258.86L161.14 269.56L161.2 269.94L161.26 269.46L161.32 271.71L161.38 270.56L161.44 268.78L161.5 270.2L161.56 271.52L161.62 270.4L161.68 271L161.74 269.61L161.8 270.53L161.86 268.89L161.92 269.28L161.98 272.49L162.04 270.33L162.1 272.09L162.16 267.11L162.22 261.02L162.28 267.3L162.34 274.16L162.4 272.98L162.46 271.49L162.52 273.41L162.58 272.37L162.64 271.45L162.7 272.72L162.76 272.37L162.82 269.68L162.88 271.64L162.94 272.31L163 271.69L163.06 274.91L163.12 270.8L163.18 271.74L163.24 270.77L163.3 269.87L163.36 270.1L163.42 267.6L163.48 269.76L163.54 272.39L163.6 269.63L163.66 269.04L163.72 271.85L163.78 269.54L163.84 269.39L163.9 274.28L163.96 270.4L164.02 266.11L164.08 258.92L164.14 245.66L164.2 258.44L164.26 267.38L164.32 267.17L164.38 267.86L164.44 266.06L164.5 267.06L164.56 267.44L164.62 265.53L164.68 266.85L164.74 267.7L164.8 265.03L164.86 264.89L164.92 265.56L164.98 264.29L165.04 265.01L165.1 266.36L165.16 263.84L165.22 264.93L165.28 257.81L165.34 247.75L165.4 258.17L165.46 263.69L165.52 265.02L165.58 265.82L165.64 269.62L165.7 266.58L165.76 266.49L165.82 266.22L165.88 267.55L165.94 268.7L166 268.73L166.06 254.67L166.12 237.29L166.18 255.27L166.24 269.96L166.3 270.45L166.36 267.61L166.42 270.19L166.48 270.7L166.54 270.6L166.6 268.65L166.66 271.51L166.72 271.72L166.78 271.78L166.84 271.29L166.9 272.67L166.96 273.78L167.02 272.06L167.08 272.86L167.14 274.62L167.2 274.83L167.26 274.18L167.32 273.98L167.38 273.61L167.44 274.01L167.5 277.18L167.56 273.98L167.62 277.38L167.68 276.53L167.74 275.13L167.8 276.88L167.86 273.73L167.92 273.52L167.98 274.19L168.04 275.54L168.1 281.38L168.16 275.45L168.22 275.69L168.28 272.99L168.34 276.75L168.4 273.17L168.46 274.68L168.52 257.5L168.58 234.45L168.64 257.44L168.7 273.63L168.76 275.44L168.82 275.75L168.88 275.36L168.94 274.38L169 274.66L169.06 273.34L169.12 269.96L169.18 271.33L169.24 276.09L169.3 282.47L169.36 274.53L169.42 275.25L169.48 276.94L169.54 275.79L169.6 276.89L169.66 275.31L169.72 276.63L169.78 276.93L169.84 274.82L169.9 277.19L169.96 275.65L170.02 275.79L170.08 267.96L170.14 258.08L170.2 268.14L170.26 273.75L170.32 276.63L170.38 275.82L170.44 276.42L170.5 272.9L170.56 275.5L170.62 279.27L170.68 274.75L170.74 275.45L170.8 272.18L170.86 275.74L170.92 273.95L170.98 276.01L171.04 272.18L171.1 274.86L171.16 273.88L171.22 275.01L171.28 276.72L171.34 271.85L171.4 276.21L171.46 272.14L171.52 271.81L171.58 272.46L171.64 263.78L171.7 273.99L171.76 271.73L171.82 270.3L171.88 269.27L171.94 272.58L172 273.15L172.06 272.11L172.12 272.81L172.18 270.19L172.24 270.94L172.3 269.22L172.36 268.7L172.42 271.56L172.48 270.08L172.54 274.32L172.6 270.88L172.66 270.19L172.72 270.84L172.78 273.04L172.84 271.46L172.9 269.74L172.96 268.2L173.02 248.43L173.08 219.77L173.14 248.53L173.2 272.11L173.26 271.79L173.32 275.55L173.38 270.97L173.44 269.88L173.5 269.96L173.56 271.38L173.62 273.67L173.68 272.75L173.74 269.97L173.8 273.16L173.86 273.76L173.92 273.15L173.98 273.45L174.04 275.88L174.1 271.34L174.16 274.88L174.22 271.83L174.28 271L174.34 275.56L174.4 273.62L174.46 274.04L174.52 272.72L174.58 273.03L174.64 273.75L174.7 275.3L174.76 276.28L174.82 273.64L174.88 280.71L174.94 274.53L175 274.39L175.06 275.75L175.12 274.61L175.18 272.02L175.24 276.38L175.3 272.46L175.36 272.78L175.42 272.45L175.48 273.53L175.54 270.09L175.6 271.78L175.66 268.65L175.72 270.36L175.78 267.15L175.84 266.87L175.9 268.54L175.96 266.78L176.02 265.3L176.08 267.09L176.14 263.9L176.2 261.19L176.26 263.06L176.32 262.17L176.38 264.62L176.44 264.34L176.5 261.56L176.56 261.26L176.62 261.76L176.68 261.17L176.74 258.46L176.8 261.12L176.86 256.64L176.92 261.52L176.98 258.09L177.04 258.28L177.1 257.99L177.16 255.92L177.22 256.72L177.28 256.35L177.34 254.97L177.4 253.29L177.46 253.39L177.52 250.59L177.58 244.99L177.64 249.45L177.7 253.8L177.76 253.14L177.82 252.66L177.88 250.56L177.94 249.05L178 232.5L178.06 209.64L178.12 232.83L178.18 251.21L178.24 252.25L178.3 252.13L178.36 252.34L178.42 252.47L178.48 252.75L178.54 252.63L178.6 252.69L178.66 253.64L178.72 251.6L178.78 254.75L178.84 252.33L178.9 253.36L178.96 251.7L179.02 251.78L179.08 253.87L179.14 251.22L179.2 249.73L179.26 249.47L179.32 250.21L179.38 253.01L179.44 251.04L179.5 251.9L179.56 247.44L179.62 242.35L179.68 248.16L179.74 254.48L179.8 251.97L179.86 254.01L179.92 257.53L179.98 251.47L180.04 251.91L180.1 251.62L180.16 248.35L180.22 246.36L180.28 246.83L180.34 248.83L180.4 246.94L180.46 250.33L180.52 247.87L180.58 248.08L180.64 248.77L180.7 244.22L180.76 240.26L180.82 243.62L180.88 245.81L180.94 245.42L181 245.33L181.06 246.21L181.12 244.86L181.18 243.61L181.24 243.17L181.3 243.17L181.36 242.29L181.42 242.35L181.48 243L181.54 241.92L181.6 242.64L181.66 242.19L181.72 244.04L181.78 243.72L181.84 242.96L181.9 241.87L181.96 244.38L182.02 242.62L182.08 241.95L182.14 237.24L182.2 230.23L182.26 237.54L182.32 242.46L182.38 245.24L182.44 242.21L182.5 243.88L182.56 242.23L182.62 245.79L182.68 243.65L182.74 242.91L182.8 244.98L182.86 245.55L182.92 243.63L182.98 244.63L183.04 243.58L183.1 245.23L183.16 247.69L183.22 244.04L183.28 241.95L183.34 243.2L183.4 242.32L183.46 243.24L183.52 244.46L183.58 239.26L183.64 241.7L183.7 241.19L183.76 241.71L183.82 239.82L183.88 240.51L183.94 239.44L184 240.3L184.06 240.49L184.12 239.86L184.18 239.65L184.24 239.76L184.3 238.05L184.36 240.01L184.42 240.24L184.48 239.43L184.54 239.88L184.6 240.31L184.66 238.06L184.72 238.11L184.78 240.31L184.84 240.4L184.9 237.56L184.96 237.02L185.02 236.55L185.08 237.38L185.14 235.91L185.2 237.53L185.26 235.12L185.32 234.85L185.38 237.32L185.44 235.14L185.5 236.4L185.56 236.98L185.62 236.71L185.68 235.18L185.74 235.11L185.8 235.06L185.86 219.88L185.92 199.52L185.98 220.04L186.04 235.52L186.1 237.06L186.16 237.17L186.22 237.98L186.28 232.4L186.34 226.69L186.4 232.16L186.46 234.57L186.52 236.13L186.58 235.23L186.64 238.15L186.7 234.95L186.76 231.64L186.82 233.3L186.88 233.45L186.94 231.98L187 231.1L187.06 231.1L187.12 230.92L187.18 230.02L187.24 229L187.3 230.13L187.36 227.75L187.42 227.51L187.48 226.05L187.54 226.2L187.6 227.25L187.66 224.48L187.72 225.68L187.78 224.26L187.84 220.95L187.9 223.88L187.96 223.65L188.02 226.68L188.08 226.62L188.14 225.47L188.2 223.1L188.26 223.14L188.32 224.49L188.38 222.52L188.44 219.53L188.5 222.82L188.56 223.9L188.62 224.96L188.68 225.21L188.74 225.66L188.8 223.25L188.86 226.64L188.92 226.76L188.98 224.83L189.04 224.6L189.1 226.44L189.16 225.02L189.22 222.95L189.28 225L189.34 225.12L189.4 224.73L189.46 226.2L189.52 224.89L189.58 223.77L189.64 224.42L189.7 223.14L189.76 222.84L189.82 224.42L189.88 223.15L189.94 222.7L190 225.11L190.06 223.98L190.12 222.2L190.18 220.61L190.24 221.72L190.3 222.74L190.36 221.46L190.42 223.06L190.48 220.51L190.54 220.4L190.6 219.21L190.66 220.17L190.72 220.76L190.78 220.85L190.84 217.04L190.9 212.85L190.96 216.32L191.02 217.57L191.08 216.9L191.14 217.7L191.2 215.57L191.26 215.86L191.32 216.41L191.38 215.24L191.44 208.12L191.5 197.39L191.56 207.88L191.62 214.39L191.68 216.81L191.74 216.31L191.8 215.3L191.86 213.49L191.92 216L191.98 216.84L192.04 213.72L192.1 214.34L192.16 218.69L192.22 214.05L192.28 216.71L192.34 212.85L192.4 214.91L192.46 212.26L192.52 216.27L192.58 213.55L192.64 211.92L192.7 212.78L192.76 213.58L192.82 212.94L192.88 211.16L192.94 212.83L193 213.86L193.06 215.37L193.12 213.44L193.18 214.39L193.24 216.57L193.3 213.6L193.36 209.87L193.42 204.41L193.48 209.91L193.54 215.08L193.6 212.29L193.66 213.5L193.72 213.69L193.78 211.16L193.84 207.11L193.9 211.2L193.96 214.28L194.02 214.36L194.08 213.07L194.14 214.39L194.2 212.5L194.26 213.59L194.32 211.32L194.38 213.74L194.44 213.1L194.5 212.08L194.56 213.64L194.62 213.06L194.68 209.76L194.74 212.02L194.8 210.27L194.86 212.85L194.92 214.45L194.98 210.9L195.04 211.54L195.1 210.74L195.16 211.55L195.22 211.81L195.28 212.13L195.34 209.66L195.4 211.94L195.46 208.61L195.52 206.71L195.58 208.94L195.64 210.75L195.7 209.43L195.76 209.63L195.82 209.54L195.88 209.85L195.94 211.72L196 209.17L196.06 211L196.12 211.45L196.18 211.27L196.24 211.53L196.3 212.55L196.36 208.45L196.42 211.46L196.48 211.78L196.54 210.44L196.6 208.8L196.66 210.6L196.72 211.09L196.78 211.3L196.84 210.63L196.9 210.09L196.96 211.02L197.02 211.16L197.08 207.72L197.14 201.88L197.2 207.88L197.26 212.62L197.32 211.87L197.38 211.66L197.44 211.06L197.5 210.91L197.56 211.58L197.62 212.1L197.68 211.68L197.74 210.35L197.8 211.55L197.86 210L197.92 211.95L197.98 213.4L198.04 212.43L198.1 211.55L198.16 210.23L198.22 210.85L198.28 211.05L198.34 213.4L198.4 211.83L198.46 212.63L198.52 212.28L198.58 212.83L198.64 214.35L198.7 212.5L198.76 212.35L198.82 211.44L198.88 212.77L198.94 210.57L199 210.11L199.06 209.98L199.12 209.65L199.18 211.22L199.24 212.32L199.3 208.92L199.36 210.5L199.42 209.09L199.48 207.57L199.54 207.92L199.6 205.98L199.66 202.56L199.72 205.7L199.78 205.51L199.84 208.23L199.9 208.26L199.96 207.11L200.02 208.02L200.08 208.7L200.14 208.37L200.2 208.62L200.26 208.64L200.32 206.15L200.38 209.96L200.44 210.77L200.5 208.72L200.56 209.5L200.62 206.85L200.68 204.75L200.74 206.58L200.8 206.34L200.86 208.71L200.92 206.42L200.98 207.3L201.04 205.26L201.1 206.73L201.16 206.72L201.22 206.17L201.28 205.34L201.34 208.3L201.4 205.48L201.46 205.49L201.52 205.27L201.58 206.98L201.64 208.21L201.7 206.67L201.76 204.48L201.82 203.74L201.88 205.28L201.94 204.51L202 206.74L202.06 207.1L202.12 205.23L202.18 206.48L202.24 206.54L202.3 206.79L202.36 204.53L202.42 207.11L202.48 204.62L202.54 204.39L202.6 202.72L202.66 203.87L202.72 203.8L202.78 204.09L202.84 205.1L202.9 207.1L202.96 207.3L203.02 206.72L203.08 208.2L203.14 204.62L203.2 201.1L203.26 205.14L203.32 206.96L203.38 207.84L203.44 209.68L203.5 210.89L203.56 211.31L203.62 214.17L203.68 214.18L203.74 216.56L203.8 215.65L203.86 215.36L203.92 215.53L203.98 215.52L204.04 213.93L204.1 215.05L204.16 213.34L204.22 215.24L204.28 217.06L204.34 215.14L204.4 217.1L204.46 217.12L204.52 217.99L204.58 217.65L204.64 217.72L204.7 220L204.76 220.13L204.82 218.12L204.88 215.89L204.94 218.8L205 219.84L205.06 221.36L205.12 220.11L205.18 221.86L205.24 221.08L205.3 219.75L205.36 220.38L205.42 220.3L205.48 220.89L205.54 220.5L205.6 220.22L205.66 220.73L205.72 216.79L205.78 221.22L205.84 219L205.9 221.65L205.96 222.77L206.02 221.06L206.08 221.3L206.14 221.58L206.2 222.35L206.26 221.98L206.32 222.4L206.38 219.97L206.44 214.86L206.5 220.39L206.56 226.66L206.62 223.35L206.68 222.77L206.74 223.18L206.8 223.56L206.86 220.05L206.92 223.39L206.98 222.63L207.04 222.32L207.1 224.46L207.16 221.65L207.22 222.08L207.28 223.87L207.34 223.32L207.4 222.92L207.46 221.9L207.52 223.97L207.58 222.42L207.64 221.96L207.7 221.68L207.76 220.35L207.82 220.37L207.88 221.39L207.94 221.22L208 220.81L208.06 219.48L208.12 219.87L208.18 220.31L208.24 218.35L208.3 214.52L208.36 219.43L208.42 225.39L208.48 224.3L208.54 223.55L208.6 223.68L208.66 221.62L208.72 217.22L208.78 222.73L208.84 228L208.9 227.49L208.96 228.01L209.02 228.77L209.08 229.71L209.14 230.6L209.2 227.73L209.26 229.66L209.32 228.74L209.38 232.66L209.44 232.73L209.5 231.42L209.56 230.5L209.62 232.3L209.68 232.47L209.74 233.3L209.8 233.67L209.86 234.83L209.92 233.29L209.98 234.3L210.04 234.37L210.1 234.68L210.16 234.54L210.22 234.57L210.28 235.38L210.34 233.95L210.4 235.64L210.46 234.74L210.52 233.8L210.58 236.37L210.64 234.04L210.7 235.53L210.76 236.62L210.82 233.77L210.88 234.39L210.94 235.11L211 233.75L211.06 233.96L211.12 231.56L211.18 233.68L211.24 234.46L211.3 234.08L211.36 234.45L211.42 233.56L211.48 233.27L211.54 234.64L211.6 234.76L211.66 234.17L211.72 233.63L211.78 235.16L211.84 235.1L211.9 233.67L211.96 233.16L212.02 230.73L212.08 226.06L212.14 230.63L212.2 224.47L212.26 230.76L212.32 232.56L212.38 234.25L212.44 234.63L212.5 236.77L212.56 235.56L212.62 234.92L212.68 235.2L212.74 236.49L212.8 233.1L212.86 228.53L212.92 233.43L212.98 236.64L213.04 238.01L213.1 239.09L213.16 238.18L213.22 237.87L213.28 239L213.34 237.82L213.4 240.12L213.46 239.18L213.52 237.84L213.58 238.68L213.64 238.81L213.7 239.28L213.76 238.95L213.82 237.59L213.88 236.84L213.94 237.89L214 236.79L214.06 237.29L214.12 234.43L214.18 237.08L214.24 239.96L214.3 240.23L214.36 239.1L214.42 240.46L214.48 241.28L214.54 237.21L214.6 240.07L214.66 238.31L214.72 239.02L214.78 240.16L214.84 237.5L214.9 237.9L214.96 237.98L215.02 237.78L215.08 235.82L215.14 229.15L215.2 216.04L215.26 229.24L215.32 238.9L215.38 239.89L215.44 237.37L215.5 238.65L215.56 239.04L215.62 238.9L215.68 238.72L215.74 240.15L215.8 239.39L215.86 239.27L215.92 239.62L215.98 238.94L216.04 237.56L216.1 238.83L216.16 239.79L216.22 239.22L216.28 239.35L216.34 239.53L216.4 240.31L216.46 240.11L216.52 239.38L216.58 239.47L216.64 238.74L216.7 239.79L216.76 237.42L216.82 235.22L216.88 151.94L216.94 45.84L217 151.56L217.06 237.16L217.12 234.11L217.18 230.79L217.24 233.38L217.3 234.1L217.36 236.88L217.42 236L217.48 238.11L217.54 234.74L217.6 233.24L217.66 235.1L217.72 234.88L217.78 234.5L217.84 231.95L217.9 235.26L217.96 235.3L218.02 232.15L218.08 235.46L218.14 233.53L218.2 236.55L218.26 233.61L218.32 233.03L218.38 234.06L218.44 233.22L218.5 232.18L218.56 233.37L218.62 231.27L218.68 230.38L218.74 234.09L218.8 231.89L218.86 231.54L218.92 231.89L218.98 230.01L219.04 230.37L219.1 231.12L219.16 230.92L219.22 231.62L219.28 232.73L219.34 230.67L219.4 229.12L219.46 225.42L219.52 226.77L219.58 229.01L219.64 230.97L219.7 232.87L219.76 231.96L219.82 232.51L219.88 230.69L219.94 232.4L220 231.66L220.06 233.45L220.12 234.33L220.18 231.22L220.24 232.63L220.3 232.07L220.36 231.19L220.42 232.29L220.48 224.84L220.54 216.1L220.6 224.45L220.66 228.75L220.72 229.3L220.78 229.93L220.84 231.9L220.9 230.97L220.96 229.33L221.02 232.46L221.08 229.72L221.14 227.68L221.2 230.38L221.26 231.83L221.32 234.63L221.38 233.01L221.44 231.65L221.5 235.01L221.56 233.28L221.62 233.18L221.68 229.56L221.74 234.07L221.8 233.87L221.86 233.04L221.92 236.61L221.98 233.89L222.04 232.06L222.1 232.1L222.16 229.78L222.22 229.64L222.28 232.3L222.34 230.8L222.4 228.35L222.46 230.48L222.52 229.84L222.58 229.23L222.64 230.88L222.7 230.08L222.76 228.86L222.82 228.12L222.88 226.21L222.94 211L223 185.83L223.06 211.38L223.12 232.4L223.18 230.22L223.24 231.26L223.3 232.41L223.36 232.46L223.42 231.24L223.48 231.45L223.54 233.39L223.6 234.18L223.66 232L223.72 230.76L223.78 233.62L223.84 232.9L223.9 233.7L223.96 231.9L224.02 232.67L224.08 232.64L224.14 232.16L224.2 233.5L224.26 233.18L224.32 232.43L224.38 232.59L224.44 231.31L224.5 232.52L224.56 232.73L224.62 232.19L224.68 232.67L224.74 230.24L224.8 229.67L224.86 231.47L224.92 231.03L224.98 233.16L225.04 231.14L225.1 229.34L225.16 225.11L225.22 218L225.28 224.64L225.34 232.3L225.4 229.11L225.46 229.43L225.52 230.09L225.58 228.96L225.64 227.12L225.7 227.78L225.76 225.22L225.82 223.94L225.88 215.35L225.94 201.63L226 215.36L226.06 226.31L226.12 226.51L226.18 225.48L226.24 229.12L226.3 228.54L226.36 228.58L226.42 229.03L226.48 230.26L226.54 229.09L226.6 227.62L226.66 225.22L226.72 227.66L226.78 231.62L226.84 227.77L226.9 228.96L226.96 229.56L227.02 229.92L227.08 230.02L227.14 226.58L227.2 229.38L227.26 228.21L227.32 231.58L227.38 229.38L227.44 228.88L227.5 229.93L227.56 232.36L227.62 229.6L227.68 229.34L227.74 227.8L227.8 227.11L227.86 227.18L227.92 227.43L227.98 226.52L228.04 227.47L228.1 227.46L228.16 226.57L228.22 225.87L228.28 226.77L228.34 227.84L228.4 229.09L228.46 230.57L228.52 230.81L228.58 229.3L228.64 230.33L228.7 229.06L228.76 231.35L228.82 231.94L228.88 231.16L228.94 224.26L229 232.36L229.06 233.77L229.12 231.6L229.18 233.06L229.24 233.08L229.3 232.8L229.36 234.42L229.42 232.36L229.48 233.87L229.54 231.35L229.6 227.34L229.66 231.92L229.72 234.15L229.78 237.02L229.84 235.1L229.9 238.26L229.96 234.78L230.02 237.15L230.08 235.49L230.14 235.85L230.2 236.82L230.26 238.85L230.32 236.81L230.38 239.8L230.44 237.3L230.5 238.83L230.56 240.26L230.62 240.39L230.68 238.2L230.74 242.7L230.8 241.51L230.86 240.74L230.92 240.67L230.98 238.98L231.04 240.17L231.1 241.74L231.16 240.3L231.22 239.38L231.28 241.13L231.34 239.06L231.4 240.61L231.46 241.2L231.52 242.02L231.58 241.52L231.64 241.05L231.7 240.79L231.76 240.17L231.82 240.28L231.88 242.44L231.94 242.89L232 243.25L232.06 244.11L232.12 240.87L232.18 238.24L232.24 239.81L232.3 233.32L232.36 237.47L232.42 242.44L232.48 245.61L232.54 246.37L232.6 245.3L232.66 246.02L232.72 249.11L232.78 247.45L232.84 247.07L232.9 248.41L232.96 247.97L233.02 246.64L233.08 247.64L233.14 250.69L233.2 247.84L233.26 249.82L233.32 245.16L233.38 233.59L233.44 214.25L233.5 233.86L233.56 248.67L233.62 248.65L233.68 249.32L233.74 250.16L233.8 249.95L233.86 249.94L233.92 251.48L233.98 249.1L234.04 249.44L234.1 251.63L234.16 252.08L234.22 252.25L234.28 244.22L234.34 234.6L234.4 239.74L234.46 246.8L234.52 251.12L234.58 252.39L234.64 252.64L234.7 257.37L234.76 251.94L234.82 254.4L234.88 252.01L234.94 251.92L235 254L235.06 254.04L235.12 253.43L235.18 251.5L235.24 246.02L235.3 237.56L235.36 245.74L235.42 244.41L235.48 248.53L235.54 253.54L235.6 248.9L235.66 247.69L235.72 248.76L235.78 250.03L235.84 249.49L235.9 251.54L235.96 249.42L236.02 248.24L236.08 249.41L236.14 247.82L236.2 243.11L236.26 235.54L236.32 242.15L236.38 248.03L236.44 245.39L236.5 245.48L236.56 246.4L236.62 245.16L236.68 246.33L236.74 246.5L236.8 248.69L236.86 246.67L236.92 246.6L236.98 246.06L237.04 246.74L237.1 248.39L237.16 248.26L237.22 250.18L237.28 247.12L237.34 250.01L237.4 249.74L237.46 249.71L237.52 247.12L237.58 248.74L237.64 251.15L237.7 247.82L237.76 244.05L237.82 248.3L237.88 250.93L237.94 253.73L238 248.42L238.06 250.74L238.12 250.34L238.18 247.88L238.24 248.4L238.3 248.68L238.36 248.43L238.42 245.88L238.48 249.01L238.54 246.52L238.6 246.21L238.66 246.69L238.72 239.85L238.78 232.24L238.84 238.98L238.9 239.77L238.96 235.74L239.02 239.45L239.08 244.07L239.14 239.92L239.2 241.14L239.26 240.51L239.32 239.93L239.38 239.98L239.44 233.11L239.5 224.41L239.56 233.89L239.62 241.32L239.68 242.47L239.74 241.28L239.8 243.3L239.86 242.88L239.92 242.73L239.98 240.95L240.04 237.47L240.1 241.67L240.16 245.13L240.22 244.44L240.28 244.66L240.34 245.89L240.4 244.18L240.46 244.96L240.52 248.54L240.58 243.48L240.64 246.5L240.7 247.96L240.76 245.94L240.82 250.92L240.88 245.25L240.94 250.63L241 250.73L241.06 250.76L241.12 249.73L241.18 250.62L241.24 249.58L241.3 252.41L241.36 249.28L241.42 249.82L241.48 251.51L241.54 248.41L241.6 248.86L241.66 249.77L241.72 247.21L241.78 250.22L241.84 249.09L241.9 246.48L241.96 247.96L242.02 246.88L242.08 246.98L242.14 247.6L242.2 246.72L242.26 248.87L242.32 246.22L242.38 249.55L242.44 248.31L242.5 249.16L242.56 247.74L242.62 247.88L242.68 247.02L242.74 249.82L242.8 250.46L242.86 251.5L242.92 249.66L242.98 247.55L243.04 247.21L243.1 247.51L243.16 247.05L243.22 247.75L243.28 246.1L243.34 244.74L243.4 244.05L243.46 246.3L243.52 244.57L243.58 244.28L243.64 245.53L243.7 243.96L243.76 240.36L243.82 235.43L243.88 237.09L243.94 227.44L244 236.99L244.06 243.41L244.12 240.37L244.18 244.3L244.24 244.1L244.3 243.97L244.36 241.75L244.42 244.38L244.48 242.71L244.54 244.36L244.6 245.2L244.66 244.54L244.72 247.35L244.78 245.48L244.84 245.81L244.9 245.76L244.96 245.21L245.02 246.78L245.08 246.94L245.14 243.95L245.2 245.74L245.26 245.54L245.32 245.58L245.38 244.66L245.44 242.09L245.5 241.95L245.56 245.02L245.62 242.92L245.68 240.99L245.74 242.56L245.8 242.06L245.86 241.19L245.92 240.98L245.98 241.53L246.04 244.72L246.1 244.55L246.16 244.3L246.22 244.69L246.28 245.1L246.34 242.97L246.4 244.57L246.46 244.28L246.52 244.11L246.58 245.5L246.64 246.03L246.7 246.03L246.76 244.63L246.82 245.59L246.88 249.02L246.94 245.49L247 245.26L247.06 247.7L247.12 247.05L247.18 248.05L247.24 245.83L247.3 248.49L247.36 246.39L247.42 245.39L247.48 245.81L247.54 246.54L247.6 246.55L247.66 246.91L247.72 245.07L247.78 246.82L247.84 244.81L247.9 246.16L247.96 243.05L248.02 242.19L248.08 232.91L248.14 218L248.2 233.92L248.26 246.23L248.32 246.41L248.38 246.95L248.44 249.2L248.5 251.48L248.56 249.89L248.62 252.47L248.68 249.92L248.74 250.52L248.8 251.64L248.86 253.54L248.92 254.19L248.98 251.37L249.04 250.1L249.1 251.56L249.16 248.56L249.22 244.91L249.28 248.13L249.34 249.2L249.4 249.21L249.46 248.08L249.52 249.04L249.58 248.93L249.64 247.88L249.7 250.55L249.76 248.66L249.82 247.22L249.88 250.18L249.94 247.7L250 249.27L250.06 247.82L250.12 247.48L250.18 248.66L250.24 247.89L250.3 248.6L250.36 251.33L250.42 245.87L250.48 248.16L250.54 249.3L250.6 247.41L250.66 247.25L250.72 244.91L250.78 247.31L250.84 250.53L250.9 248.28L250.96 248.14L251.02 249.35L251.08 247.51L251.14 249.93L251.2 249.3L251.26 248.34L251.32 248.46L251.38 249.87L251.44 249.13L251.5 247.4L251.56 247.41L251.62 245.42L251.68 247.37L251.74 247.79L251.8 247.34L251.86 248.97L251.92 250.27L251.98 251.9L252.04 251.35L252.1 254L252.16 252.14L252.22 256.99L252.28 255.84L252.34 252.89L252.4 251.38L252.46 228.12L252.52 197.64L252.58 227.32L252.64 253.26L252.7 248.57L252.76 251.91L252.82 249.72L252.88 250.94L252.94 247.35L253 250.58L253.06 226.65L253.12 196.73L253.18 226.89L253.24 241.77L253.3 246.81L253.36 251.49L253.42 252.24L253.48 252.59L253.54 253.11L253.6 251.48L253.66 250.47L253.72 251.17L253.78 254.67L253.84 254.56L253.9 255.09L253.96 255.09L254.02 256.35L254.08 256.84L254.14 256.17L254.2 257.02L254.26 256.9L254.32 254.19L254.38 257.33L254.44 256.58L254.5 258.29L254.56 260.44L254.62 260.11L254.68 258.66L254.74 259.74L254.8 259.16L254.86 258.08L254.92 261.16L254.98 260.56L255.04 263.08L255.1 258.48L255.16 259.56L255.22 261.35L255.28 262.64L255.34 257.49L255.4 258.7L255.46 260.52L255.52 259.41L255.58 259.85L255.64 260.39L255.7 261.33L255.76 260.53L255.82 259.68L255.88 259.88L255.94 257.7L256 254.5L256.06 257.08L256.12 260.9L256.18 260.04L256.24 256.64L256.3 251.59L256.36 256.64L256.42 260.28L256.48 262.93L256.54 260.37L256.6 261.42L256.66 261.73L256.72 261.62L256.78 258.8L256.84 259.84L256.9 260.21L256.96 258.64L257.02 268.21L257.08 261.26L257.14 259.1L257.2 262.82L257.26 258.8L257.32 259.49L257.38 259.86L257.44 259.12L257.5 260.63L257.56 259.9L257.62 262.42L257.68 261.18L257.74 260.18L257.8 260L257.86 267.55L257.92 259.69L257.98 258.99L258.04 261.37L258.1 255.78L258.16 251.39L258.22 256.18L258.28 223.86L258.34 178.74L258.4 223.86L258.46 260.87L258.52 261.21L258.58 259.36L258.64 261.27L258.7 264.23L258.76 260.09L258.82 261.05L258.88 260.36L258.94 258.85L259 263.39L259.06 261.97L259.12 262.53L259.18 264.53L259.24 265.68L259.3 261.6L259.36 265.01L259.42 264.62L259.48 263.86L259.54 264.86L259.6 265.19L259.66 267.43L259.72 266.96L259.78 266.91L259.84 270.88L259.9 268L259.96 266.66L260.02 266.29L260.08 267.21L260.14 265.41L260.2 264.04L260.26 262.86L260.32 262.86L260.38 261.31L260.44 263.16L260.5 262.83L260.56 258.87L260.62 260.28L260.68 257.67L260.74 259.55L260.8 259.24L260.86 261.6L260.92 258.18L260.98 258.39L261.04 257.88L261.1 259.65L261.16 260.37L261.22 260.8L261.28 259.04L261.34 256.21L261.4 257.51L261.46 256.39L261.52 257.85L261.58 255.57L261.64 257.33L261.7 258.17L261.76 257.13L261.82 258.14L261.88 256.27L261.94 255.79L262 257.2L262.06 259.47L262.12 258.86L262.18 257.8L262.24 254.94L262.3 252.96L262.36 255.76L262.42 234.75L262.48 205.17L262.54 234.91L262.6 257.88L262.66 257.43L262.72 257.16L262.78 258.97L262.84 258.77L262.9 264.54L262.96 258.07L263.02 260.25L263.08 258.76L263.14 258.73L263.2 261.17L263.26 261.59L263.32 259.17L263.38 257.14L263.44 259.13L263.5 260.61L263.56 259.7L263.62 261.5L263.68 258.62L263.74 260.61L263.8 259.2L263.86 261.47L263.92 259.67L263.98 262.04L264.04 260.61L264.1 259.78L264.16 260.14L264.22 260.52L264.28 260.7L264.34 263.59L264.4 264.01L264.46 261.89L264.52 261.33L264.58 262.87L264.64 262.16L264.7 265.15L264.76 266.59L264.82 264.13L264.88 263.13L264.94 260.85L265 262.84L265.06 261.81L265.12 264.03L265.18 262.92L265.24 262.71L265.3 265.84L265.36 265.84L265.42 261.78L265.48 262.39L265.54 263.16L265.6 262.22L265.66 263.28L265.72 264.2L265.78 265.46L265.84 260.68L265.9 263.49L265.96 263.35L266.02 262.95L266.08 262.38L266.14 262.29L266.2 261.18L266.26 261.75L266.32 262.15L266.38 261.89L266.44 262.75L266.5 262.07L266.56 263.15L266.62 262.2L266.68 262.14L266.74 261.37L266.8 253.2L266.86 260.92L266.92 260.35L266.98 245.02L267.04 223.97L267.1 244.82L267.16 256.41L267.22 260.86L267.28 258.63L267.34 263.06L267.4 253.1L267.46 243.45L267.52 252.89L267.58 243.82L267.64 222.55L267.7 243.61L267.76 259.11L267.82 265.51L267.88 261.5L267.94 259.39L268 260.7L268.06 260.9L268.12 263.53L268.18 258.86L268.24 260.97L268.3 261.71L268.36 261.26L268.42 259.58L268.48 261.64L268.54 261.26L268.6 262.38L268.66 263.61L268.72 263.4L268.78 262.96L268.84 262.74L268.9 260.61L268.96 262L269.02 263.78L269.08 263.13L269.14 263.9L269.2 262.31L269.26 266.21L269.32 267.3L269.38 264.14L269.44 264.43L269.5 262.92L269.56 265.4L269.62 261.96L269.68 262.69L269.74 263.28L269.8 263.15L269.86 261.36L269.92 263.18L269.98 262.04L270.04 263.36L270.1 261.36L270.16 259.26L270.22 261.08L270.28 263.16L270.34 260.91L270.4 262.59L270.46 261.08L270.52 261.87L270.58 260.86L270.64 261.98L270.7 258.49L270.76 261.24L270.82 258.35L270.88 262.17L270.94 257.89L271 259.38L271.06 258.38L271.12 262.54L271.18 258.83L271.24 260.59L271.3 259.58L271.36 257.83L271.42 260.31L271.48 261.19L271.54 260.85L271.6 262.62L271.66 260.86L271.72 261.37L271.78 258.72L271.84 255.29L271.9 258.53L271.96 258.02L272.02 252.57L272.08 258.29L272.14 261.47L272.2 264.42L272.26 261.4L272.32 261.89L272.38 262.69L272.44 260.95L272.5 265.26L272.56 259.79L272.62 263.12L272.68 262.78L272.74 260.93L272.8 261.66L272.86 264.79L272.92 264.34L272.98 261.15L273.04 260.07L273.1 263.04L273.16 264.16L273.22 261.68L273.28 259.27L273.34 264.29L273.4 260.77L273.46 262.69L273.52 261.35L273.58 261.39L273.64 261.06L273.7 259.09L273.76 261.02L273.82 259.05L273.88 260.22L273.94 263.28L274 261.16L274.06 260.03L274.12 261.92L274.18 260.97L274.24 261.93L274.3 261.45L274.36 261.09L274.42 261.12L274.48 262.46L274.54 261.15L274.6 261.84L274.66 261.73L274.72 263.72L274.78 262.71L274.84 261.2L274.9 262.31L274.96 261.6L275.02 263.36L275.08 262.37L275.14 264.25L275.2 266.01L275.26 261.27L275.32 261.58L275.38 262.35L275.44 262.47L275.5 261.15L275.56 259.89L275.62 258.46L275.68 260.91L275.74 261.96L275.8 262.08L275.86 259.43L275.92 261.92L275.98 259.87L276.04 260.96L276.1 260.91L276.16 258.99L276.22 259.47L276.28 256.66L276.34 258.61L276.4 256.97L276.46 260.37L276.52 259.65L276.58 260.17L276.64 259.91L276.7 258.46L276.76 259.34L276.82 259.02L276.88 259.84L276.94 259.25L277 257.93L277.06 259.17L277.12 258.84L277.18 258.14L277.24 259.96L277.3 260.35L277.36 257.08L277.42 257.07L277.48 254.16L277.54 256.03L277.6 254.71L277.66 252.76L277.72 254.53L277.78 255.02L277.84 253.79L277.9 254.05L277.96 253.82L278.02 255.85L278.08 253.52L278.14 254.81L278.2 251.79L278.26 246.67L278.32 252.07L278.38 255.63L278.44 254.67L278.5 255.99L278.56 256.56L278.62 255.4L278.68 256.8L278.74 258.15L278.8 258.08L278.86 254.36L278.92 255.57L278.98 254.99L279.04 257.98L279.1 257.46L279.16 257.67L279.22 254.67L279.28 251.25L279.34 246.94L279.4 252.69L279.46 255.9L279.52 255.99L279.58 256.98L279.64 256.2L279.7 255.46L279.76 254.05L279.82 256.66L279.88 256.7L279.94 256.31L280 256.46L280.06 255.94L280.12 258.2L280.18 257.59L280.24 258.3L280.3 257.23L280.36 257.65L280.42 259.02L280.48 257.67L280.54 257.16L280.6 259.21L280.66 261.26L280.72 260.13L280.78 261.95L280.84 259.66L280.9 259.59L280.96 259.1L281.02 260.22L281.08 262.75L281.14 261.71L281.2 262.48L281.26 262.86L281.32 261.96L281.38 262.53L281.44 263.44L281.5 264.5L281.56 263.74L281.62 265.64L281.68 265.46L281.74 264.91L281.8 266.19L281.86 265.16L281.92 267.58L281.98 264.63L282.04 266.97L282.1 270.71L282.16 266.62L282.22 266.88L282.28 271.77L282.34 270.09L282.4 267.18L282.46 268.35L282.52 266.89L282.58 266.1L282.64 270.09L282.7 265.97L282.76 264.5L282.82 263.67L282.88 265.02L282.94 263.56L283 264.01L283.06 262.66L283.12 259.84L283.18 255.26L283.24 246.87L283.3 253.66L283.36 256.89L283.42 256.6L283.48 255.81L283.54 256.56L283.6 254.84L283.66 249.5L283.72 240.84L283.78 239.6L283.84 217.84L283.9 239.6L283.96 257.31L284.02 253.35L284.08 255.99L284.14 254.49L284.2 255.82L284.26 257.41L284.32 256.28L284.38 256.97L284.44 255.14L284.5 259.69L284.56 257.94L284.62 258.4L284.68 255.36L284.74 256.29L284.8 258.91L284.86 257.67L284.92 257.52L284.98 258.35L285.04 256.11L285.1 258.52L285.16 257.76L285.22 257.97L285.28 257.1L285.34 258.02L285.4 257.02L285.46 258.86L285.52 258.7L285.58 258.09L285.64 258.18L285.7 258.19L285.76 253.88L285.82 258.48L285.88 257.18L285.94 254.84L286 251.25L286.06 254.58L286.12 250.14L286.18 254.56L286.24 259.15L286.3 256.31L286.36 256.12L286.42 258.73L286.48 256.16L286.54 259.35L286.6 256.59L286.66 255.71L286.72 258.42L286.78 259.79L286.84 255.38L286.9 259.87L286.96 257.63L287.02 259.66L287.08 257.27L287.14 256.3L287.2 258.46L287.26 259.39L287.32 260.76L287.38 260.71L287.44 258.88L287.5 258.01L287.56 258.19L287.62 258.69L287.68 258.63L287.74 260.68L287.8 257.48L287.86 262.61L287.92 262.76L287.98 266.57L288.04 264.96L288.1 263.34L288.16 265.08L288.22 262.84L288.28 262.83L288.34 261.77L288.4 260.13L288.46 253.48L288.52 250.65L288.58 253.66L288.64 260.25L288.7 263.31L288.76 263.49L288.82 263.81L288.88 263.95L288.94 265.27L289 266.61L289.06 264.11L289.12 263.63L289.18 266.44L289.24 264.25L289.3 267.03L289.36 264.98L289.42 266.47L289.48 267.8L289.54 266.38L289.6 266L289.66 264.53L289.72 264.69L289.78 266.11L289.84 267.57L289.9 267.32L289.96 267.81L290.02 266.09L290.08 265.97L290.14 267.06L290.2 265.11L290.26 265.65L290.32 263.66L290.38 266.7L290.44 264.44L290.5 265.93L290.56 263.78L290.62 267.24L290.68 264.42L290.74 266.97L290.8 263.88L290.86 268.97L290.92 267.4L290.98 264.29L291.04 264.86L291.1 264.71L291.16 262.46L291.22 262.6L291.28 258.46L291.34 247.5L291.4 221.82L291.46 210.76L291.52 221.74L291.58 248.18L291.64 258.28L291.7 261.31L291.76 255.09L291.82 252.41L291.88 255.01L291.94 261.24L292 263.29L292.06 264.7L292.12 264.88L292.18 265.64L292.24 266.05L292.3 265.06L292.36 264.85L292.42 264.72L292.48 263.18L292.54 262.37L292.6 263.47L292.66 266.07L292.72 265.42L292.78 267.18L292.84 267.19L292.9 267.92L292.96 265.57L293.02 266.62L293.08 265.54L293.14 266.32L293.2 263.76L293.26 267.32L293.32 267.34L293.38 267.11L293.44 265.85L293.5 267.66L293.56 266.03L293.62 262.52L293.68 262.94L293.74 263.79L293.8 267.15L293.86 267.05L293.92 267.63L293.98 267.06L294.04 269.58L294.1 268.12L294.16 268.29L294.22 268.76L294.28 271.04L294.34 269.94L294.4 268.64L294.46 272.1L294.52 270.57L294.58 271.27L294.64 272.31L294.7 272.8L294.76 273.54L294.82 271.42L294.88 272.01L294.94 270.89L295 274.48L295.06 273.27L295.12 274.86L295.18 272.36L295.24 270.33L295.3 275.37L295.36 273.08L295.42 273.67L295.48 272.7L295.54 273.68L295.6 273.8L295.66 271.61L295.72 274.74L295.78 272.32L295.84 272.78L295.9 275.95L295.96 277.86L296.02 273.25L296.08 271.31L296.14 274.12L296.2 274.74L296.26 273.29L296.32 271.39L296.38 272.81L296.44 271.48L296.5 273.64L296.56 274.81L296.62 274.53L296.68 272.1L296.74 274L296.8 276.75L296.86 272.37L296.92 272.27L296.98 275.07L297.04 272.4L297.1 273.03L297.16 270.42L297.22 270.48L297.28 268.15L297.34 270.7L297.4 272.41L297.46 271.81L297.52 272.03L297.58 271.38L297.64 270L297.7 268.73L297.76 270.07L297.82 270.76L297.88 269.05L297.94 271.24L298 269.04L298.06 267.29L298.12 268.34L298.18 267.99L298.24 267.87L298.3 271.44L298.36 269.62L298.42 270.57L298.48 271.51L298.54 271.8L298.6 268.89L298.66 271.59L298.72 270.82L298.78 273.35L298.84 270.79L298.9 268.41L298.96 269.27L299.02 270.36L299.08 270.95L299.14 270.26L299.2 270.22L299.26 271.86L299.32 272.05L299.38 271.45L299.44 272.32L299.5 270.14L299.56 270.52L299.62 271.28L299.68 269.75L299.74 270.25L299.8 272.91L299.86 270.18L299.92 269.28L299.98 271.35L300.04 272.78L300.1 269.85L300.16 273.84L300.22 269.34L300.28 270.01L300.34 269L300.4 270.46L300.46 272.39L300.52 268.3L300.58 272.23L300.64 267.83L300.7 269.64L300.76 270.97L300.82 270.71L300.88 269.6L300.94 267.53L301 272.88L301.06 267.2L301.12 273.06L301.18 269.25L301.24 269.31L301.3 267.63L301.36 267.82L301.42 267.06L301.48 267.1L301.54 265.74L301.6 262.35L301.66 260.41L301.72 249.09L301.78 244.04L301.84 248.8L301.9 260.4L301.96 264.71L302.02 265.9L302.08 266.56L302.14 268.44L302.2 265.92L302.26 266.78L302.32 265.44L302.38 265.33L302.44 262.83L302.5 256.57L302.56 253.83L302.62 256.45L302.68 262.62L302.74 263.48L302.8 264.68L302.86 265.64L302.92 264.43L302.98 265.14L303.04 263.9L303.1 269.1L303.16 266.22L303.22 266.58L303.28 265.19L303.34 267.62L303.4 263.96L303.46 265.25L303.52 264.07L303.58 261.82L303.64 251.78L303.7 247.96L303.76 252.06L303.82 262.04L303.88 264.66L303.94 266.25L304 266.29L304.06 273.13L304.12 268.51L304.18 268.48L304.24 270.58L304.3 269.09L304.36 268.4L304.42 265.56L304.48 269.65L304.54 268.66L304.6 267.34L304.66 265.94L304.72 266.54L304.78 269.89L304.84 267.2L304.9 268.13L304.96 269.37L305.02 269.86L305.08 269.13L305.14 268.39L305.2 268.21L305.26 270.76L305.32 270.57L305.38 268.85L305.44 266.77L305.5 267.21L305.56 269.5L305.62 267.14L305.68 269.99L305.74 268.25L305.8 268.59L305.86 269.2L305.92 272.21L305.98 267.59L306.04 267.67L306.1 271.18L306.16 267.03L306.22 267.51L306.28 269.61L306.34 268.08L306.4 267.08L306.46 265.89L306.52 268.17L306.58 268.87L306.64 269.49L306.7 266.46L306.76 268.54L306.82 265.43L306.88 266.3L306.94 265.98L307 266.44L307.06 267.42L307.12 267.97L307.18 264.45L307.24 267.83L307.3 265.8L307.36 264.47L307.42 265.19L307.48 263.57L307.54 259.98L307.6 258.22L307.66 260.03L307.72 264.14L307.78 265.08L307.84 265.91L307.9 264.17L307.96 264.87L308.02 260.91L308.08 259.81L308.14 258.22L308.2 255.96L308.26 258.28L308.32 263.61L308.38 265.77L308.44 267.15L308.5 267.01L308.56 267.41L308.62 268.59L308.68 267.72L308.74 266.92L308.8 265.11L308.86 265.08L308.92 265.85L308.98 268.47L309.04 266.87L309.1 265.78L309.16 266.38L309.22 267.44L309.28 265.56L309.34 264.88L309.4 263.39L309.46 260.47L309.52 253.54L309.58 236.95L309.64 190L309.7 170.66L309.76 190.16L309.82 237.03L309.88 254.34L309.94 261.43L310 264.66L310.06 266.33L310.12 270.61L310.18 270.26L310.24 268.19L310.3 269L310.36 267.97L310.42 268.23L310.48 269.48L310.54 267.8L310.6 267.51L310.66 268.48L310.72 269.88L310.78 268.81L310.84 269.24L310.9 266.23L310.96 272.46L311.02 271.64L311.08 270.58L311.14 267.63L311.2 267.34L311.26 268.85L311.32 266.22L311.38 269.18L311.44 266.62L311.5 269.04L311.56 268.81L311.62 264.86L311.68 267.84L311.74 266.33L311.8 265.11L311.86 265.71L311.92 266.39L311.98 266.71L312.04 263.85L312.1 266.01L312.16 264.68L312.22 262.62L312.28 261.52L312.34 262.24L312.4 263.18L312.46 264.49L312.52 264.6L312.58 264.82L312.64 267.9L312.7 264.83L312.76 264.03L312.82 265.67L312.88 261.29L312.94 261.17L313 262.25L313.06 262.33L313.12 263.24L313.18 261.99L313.24 264.98L313.3 264.09L313.36 262.95L313.42 261.73L313.48 262.25L313.54 261.76L313.6 261.24L313.66 259.11L313.72 250.2L313.78 246.94L313.84 250.44L313.9 254.92L313.96 260.21L314.02 261.71L314.08 262.32L314.14 262.74L314.2 259.35L314.26 258.15L314.32 259.59L314.38 262.3L314.44 264.13L314.5 263.14L314.56 265.23L314.62 264.88L314.68 267.21L314.74 265.06L314.8 265.15L314.86 267.89L314.92 266.26L314.98 267.88L315.04 263.8L315.1 267.52L315.16 265.99L315.22 266.9L315.28 267.03L315.34 267.4L315.4 269.75L315.46 265.84L315.52 268.4L315.58 266.87L315.64 266.71L315.7 265.34L315.76 259.5L315.82 257.14L315.88 259.5L315.94 265.8L316 267.07L316.06 267.1L316.12 266.59L316.18 268.92L316.24 268.96L316.3 267.45L316.36 270.06L316.42 264.58L316.48 265.14L316.54 266.17L316.6 267.3L316.66 267.33L316.72 267.6L316.78 267.65L316.84 268.26L316.9 266.85L316.96 265.72L317.02 265.29L317.08 269.55L317.14 264.11L317.2 266.88L317.26 268.55L317.32 265.91L317.38 265.28L317.44 264.69L317.5 260.03L317.56 248.55L317.62 243.81L317.68 248.51L317.74 259.63L317.8 264.39L317.86 266.01L317.92 266.36L317.98 264.05L318.04 267.14L318.1 268.37L318.16 267.67L318.22 267.03L318.28 270.28L318.34 265.93L318.4 268.92L318.46 267.3L318.52 267.96L318.58 268.21L318.64 270.29L318.7 272.09L318.76 268.22L318.82 267.51L318.88 270.19L318.94 269.36L319 270.18L319.06 268.3L319.12 268.83L319.18 272.14L319.24 269.32L319.3 270.51L319.36 270.62L319.42 268.72L319.48 267.96L319.54 271.05L319.6 269.77L319.66 271.53L319.72 267.31L319.78 267.59L319.84 266.98L319.9 269.02L319.96 271.47L320.02 270.92L320.08 270.07L320.14 270.36L320.2 271.22L320.26 269.12L320.32 270.89L320.38 270.57L320.44 267.65L320.5 269.27L320.56 272.34L320.62 269.5L320.68 269.7L320.74 274.92L320.8 269.86L320.86 272.01L320.92 269.93L320.98 269.14L321.04 266.08L321.1 269.15L321.16 267.21L321.22 267.65L321.28 270.98L321.34 271.11L321.4 267.14L321.46 271.26L321.52 269.94L321.58 268.43L321.64 270.9L321.7 267.15L321.76 268.16L321.82 268.16L321.88 268.01L321.94 271.05L322 268.37L322.06 268.69L322.12 268.81L322.18 270.64L322.24 269.56L322.3 271.22L322.36 269.54L322.42 267.49L322.48 269.99L322.54 270.77L322.6 269.31L322.66 270.85L322.72 273.1L322.78 268.81L322.84 271.19L322.9 272.34L322.96 275.66L323.02 269.97L323.08 268.8L323.14 270.82L323.2 270.72L323.26 270.03L323.32 270.44L323.38 271.76L323.44 270.84L323.5 267.48L323.56 269.34L323.62 269.54L323.68 270.2L323.74 268.43L323.8 267.62L323.86 267.84L323.92 265.55L323.98 267.74L324.04 266.38L324.1 267.64L324.16 265.14L324.22 265.22L324.28 264.73L324.34 263.96L324.4 266.03L324.46 263.66L324.52 264.68L324.58 261.65L324.64 263.58L324.7 261.53L324.76 263.12L324.82 263.37L324.88 263.35L324.94 262.89L325 262.83L325.06 260.56L325.12 260.2L325.18 261.25L325.24 262.9L325.3 263.24L325.36 264.34L325.42 263.95L325.48 264.2L325.54 265.39L325.6 265.36L325.66 266.16L325.72 264.16L325.78 264.74L325.84 266.79L325.9 267.34L325.96 269.88L326.02 268.06L326.08 268.89L326.14 270.88L326.2 269.46L326.26 270.21L326.32 272.78L326.38 272.89L326.44 271.95L326.5 271.54L326.56 270.1L326.62 273.96L326.68 270.95L326.74 270.35L326.8 269.27L326.86 269.81L326.92 269.16L326.98 269.16L327.04 269.54L327.1 267.05L327.16 264.28L327.22 265.9L327.28 264.98L327.34 266.3L327.4 266.03L327.46 265.5L327.52 264.07L327.58 257.99L327.64 255.55L327.7 258.07L327.76 263.95L327.82 264.51L327.88 266.54L327.94 265.93L328 269.36L328.06 268.69L328.12 267.09L328.18 267.3L328.24 266.89L328.3 266.94L328.36 266.45L328.42 263.42L328.48 262.2L328.54 263.76L328.6 267.03L328.66 268.04L328.72 268.18L328.78 268.8L328.84 272.04L328.9 269.93L328.96 270.04L329.02 269.12L329.08 273.11L329.14 268.78L329.2 269.09L329.26 270.48L329.32 267.93L329.38 269.92L329.44 268.81L329.5 269.09L329.56 270.6L329.62 271.56L329.68 272.16L329.74 272.62L329.8 273.26L329.86 272.63L329.92 271.26L329.98 273.21L330.04 274.68L330.1 271L330.16 273.43L330.22 272.02L330.28 270.91L330.34 271.56L330.4 271.51L330.46 267.38L330.52 269.83L330.58 267.72L330.64 269.6L330.7 268.16L330.76 270.32L330.82 268.74L330.88 266.55L330.94 268.76L331 267.31L331.06 269.54L331.12 270.6L331.18 269.81L331.24 267.57L331.3 270.28L331.36 271.22L331.42 269.91L331.48 269L331.54 266.79L331.6 261.93L331.66 248.36L331.72 229.9L331.78 219.47L331.84 229.9L331.9 254.97L331.96 264.45L332.02 267.8L332.08 269.37L332.14 271.9L332.2 271.18L332.26 268.79L332.32 269.36L332.38 269.99L332.44 268.82L332.5 267.92L332.56 264.71L332.62 263.14L332.68 263.91L332.74 266.49L332.8 268.01L332.86 267.03L332.92 267.53L332.98 270.81L333.04 270.52L333.1 269.23L333.16 268.23L333.22 272.97L333.28 269.69L333.34 272.43L333.4 273.5L333.46 269.61L333.52 270.93L333.58 270.4L333.64 271.89L333.7 271.06L333.76 273.39L333.82 271.83L333.88 273.92L333.94 273.06L334 271.26L334.06 270.07L334.12 274.37L334.18 269.91L334.24 270.08L334.3 271.57L334.36 270.33L334.42 268.54L334.48 272.96L334.54 270.21L334.6 270.7L334.66 270.7L334.72 269.56L334.78 269.4L334.84 270.74L334.9 273.66L334.96 271.31L335.02 271.18L335.08 268.43L335.14 269.98L335.2 269.06L335.26 273.68L335.32 269.5L335.38 269.56L335.44 270.29L335.5 269.02L335.56 267.37L335.62 270.71L335.68 267.73L335.74 268.52L335.8 270.06L335.86 269.32L335.92 270.42L335.98 271.12L336.04 270.37L336.1 270.67L336.16 270.02L336.22 271.46L336.28 267.8L336.34 270.88L336.4 267.67L336.46 268.69L336.52 269.55L336.58 269.58L336.64 271.1L336.7 271.6L336.76 266.64L336.82 269.88L336.88 272.34L336.94 271.06L337 271.87L337.06 270.18L337.12 268.06L337.18 267.99L337.24 270.47L337.3 270.63L337.36 268.6L337.42 269.53L337.48 269.94L337.54 267.98L337.6 269.39L337.66 272.4L337.72 273.46L337.78 270.13L337.84 272.8L337.9 269.94L337.96 269.79L338.02 267.29L338.08 272.37L338.14 273.92L338.2 273.39L338.26 269.78L338.32 268.87L338.38 265.35L338.44 268.69L338.5 266.25L338.56 265.09L338.62 262.03L338.68 265.23L338.74 265.02L338.8 262.18L338.86 262.38L338.92 261.42L338.98 262.14L339.04 260.06L339.1 261.39L339.16 258.72L339.22 258.76L339.28 259.15L339.34 256.63L339.4 259.69L339.46 260.96L339.52 260.37L339.58 258.11L339.64 252.63L339.7 250.46L339.76 253.45L339.82 256.53L339.88 257.37L339.94 261.1L340 263.16L340.06 264.27L340.12 264.81L340.18 266.69L340.24 263.52L340.3 269.44L340.36 267.76L340.42 265.84L340.48 265.9L340.54 263.97L340.6 265.3L340.66 266.02L340.72 266.75L340.78 263.96L340.84 261.62L340.9 265.55L340.96 264.92L341.02 263.85L341.08 264.8L341.14 264.06L341.2 262.43L341.26 259.54L341.32 258.08L341.38 259.82L341.44 263.81L341.5 264.84L341.56 265.27L341.62 263.79L341.68 268.69L341.74 265.01L341.8 266.16L341.86 266.37L341.92 264.75L341.98 266.74L342.04 267.05L342.1 266.26L342.16 269.26L342.22 267.11L342.28 266.8L342.34 264.29L342.4 264.2L342.46 266.22L342.52 266.35L342.58 266.57L342.64 266.45L342.7 263.8L342.76 265.27L342.82 263.64L342.88 269.36L342.94 266.56L343 271.47L343.06 265.39L343.12 269.23L343.18 267.11L343.24 267.96L343.3 265.41L343.36 270.17L343.42 268.11L343.48 267.95L343.54 269.36L343.6 266.9L343.66 267.35L343.72 268.31L343.78 267.01L343.84 266.4L343.9 266.36L343.96 266.02L344.02 269.45L344.08 267.29L344.14 265.74L344.2 268.61L344.26 263.89L344.32 264.81L344.38 267.4L344.44 264.58L344.5 263.35L344.56 266.85L344.62 264.21L344.68 263.4L344.74 266.04L344.8 263.63L344.86 262.83L344.92 264.44L344.98 263.61L345.04 262.74L345.1 263.08L345.16 262.62L345.22 263L345.28 262.25L345.34 260.6L345.4 256.17L345.46 246.24L345.52 241.78L345.58 245.7L345.64 256.12L345.7 257.94L345.76 254.11L345.82 244.09L345.88 217.06L345.94 205.78L346 216.52L346.06 242.7L346.12 252.21L346.18 256.12L346.24 257.03L346.3 256.71L346.36 257.75L346.42 259.35L346.48 264.38L346.54 260.31L346.6 260.45L346.66 259.76L346.72 262.75L346.78 259.62L346.84 261.62L346.9 263.72L346.96 261.66L347.02 264.57L347.08 264.89L347.14 262.77L347.2 262.76L347.26 261.3L347.32 261.49L347.38 263.44L347.44 264.47L347.5 264.21L347.56 264.05L347.62 262.42L347.68 264.12L347.74 261.66L347.8 263.39L347.86 265.02L347.92 264.93L347.98 262.91L348.04 263.75L348.1 265.41L348.16 266.21L348.22 262.03L348.28 263.76L348.34 264.23L348.4 266.77L348.46 263.81L348.52 266.22L348.58 264.39L348.64 267.93L348.7 266.14L348.76 265.74L348.82 265.26L348.88 267.27L348.94 266.98L349 264.77L349.06 266.66L349.12 264.7L349.18 264.37L349.24 264.48L349.3 264.74L349.36 265.72L349.42 265.48L349.48 266.98L349.54 272.28L349.6 265.76L349.66 265.25L349.72 267.22L349.78 264.03L349.84 263.4L349.9 266.65L349.96 266.99L350.02 266.54L350.08 264.69L350.14 264.18L350.2 264.3L350.26 265.8L350.32 264.16L350.38 263.48L350.44 262.88L350.5 263.47L350.56 264.82L350.62 265.62L350.68 263.43L350.74 263.53L350.8 264.4L350.86 266.08L350.92 263.84L350.98 265.22L351.04 262.67L351.1 263.08L351.16 265.78L351.22 266.22L351.28 263.68L351.34 264.59L351.4 268.02L351.46 263.61L351.52 264.41L351.58 265.61L351.64 265.01L351.7 265.49L351.76 265.08L351.82 263.19L351.88 262.99L351.94 263.42L352 266.02L352.06 261.53L352.12 264.26L352.18 260.66L352.24 263.95L352.3 262.86L352.36 262.16L352.42 263.4L352.48 263.32L352.54 264.31L352.6 261.53L352.66 261.43L352.72 261.97L352.78 264.96L352.84 263.67L352.9 259.92L352.96 261.55L353.02 260.97L353.08 262.19L353.14 262.16L353.2 265.08L353.26 260.17L353.32 264.14L353.38 262.75L353.44 261.72L353.5 262.32L353.56 262.38L353.62 263.5L353.68 264.82L353.74 261.37L353.8 265.2L353.86 262.46L353.92 265.56L353.98 264.69L354.04 265.67L354.1 264.82L354.16 266.72L354.22 264.69L354.28 263.67L354.34 265.45L354.4 267.54L354.46 267.5L354.52 262.07L354.58 264.03L354.64 265.22L354.7 262.21L354.76 263.24L354.82 266.45L354.88 265.4L354.94 262.77L355 265.48L355.06 264.61L355.12 264.11L355.18 263.91L355.24 263.24L355.3 262.2L355.36 262.79L355.42 264.89L355.48 264.17L355.54 266.31L355.6 263.3L355.66 260.26L355.72 263.57L355.78 264.15L355.84 263.82L355.9 264.21L355.96 263.24L356.02 265.57L356.08 265.43L356.14 265.05L356.2 263.57L356.26 262.66L356.32 265.38L356.38 259.82L356.44 262.61L356.5 264.26L356.56 262.88L356.62 264.79L356.68 263.19L356.74 263.05L356.8 266.31L356.86 262.99L356.92 262.95L356.98 262.05L357.04 262.39L357.1 264.51L357.16 263.52L357.22 262.61L357.28 262.13L357.34 263.98L357.4 260.79L357.46 262.29L357.52 262.46L357.58 262.13L357.64 262.65L357.7 262.35L357.76 260.8L357.82 264.74L357.88 263.71L357.94 263.79L358 261.67L358.06 262.57L358.12 262.62L358.18 262.84L358.24 264.08L358.3 260.49L358.36 260.63L358.42 259.48L358.48 255.23L358.54 258.22L358.6 259.54L358.66 259.36L358.72 258.39L358.78 259.52L358.84 260.51L358.9 257.97L358.96 260.25L359.02 260.82L359.08 258.7L359.14 256.52L359.2 257.18L359.26 257.64L359.32 255.46L359.38 252.65L359.44 243.97L359.5 240.26L359.56 244.45L359.62 252.95L359.68 255.9L359.74 256.52L359.8 255.62L359.86 251.78L359.92 242.51L359.98 218.1L360.04 207.86L360.1 218.08L360.16 242.57L360.22 251.7L360.28 255.18L360.34 256.53L360.4 258.99L360.46 259.71L360.52 259.63L360.58 264.71L360.64 259.51L360.7 259.65L360.76 260.59L360.82 255.57L360.88 258.66L360.94 259.14L361 259.72L361.06 258.42L361.12 257.64L361.18 251.57L361.24 249.3L361.3 251.85L361.36 257.38L361.42 259.47L361.48 260.57L361.54 260.89L361.6 262.24L361.66 259.1L361.72 261.87L361.78 264.75L361.84 261.2L361.9 262.5L361.96 260.19L362.02 259.84L362.08 261.58L362.14 260.77L362.2 259.94L362.26 259.8L362.32 259.42L362.38 258.63L362.44 258.44L362.5 258.19L362.56 258.02L362.62 257.35L362.68 260.99L362.74 258.76L362.8 258.96L362.86 259.13L362.92 259.35L362.98 259.26L363.04 258.86L363.1 257.91L363.16 260.11L363.22 257.53L363.28 260.5L363.34 256.71L363.4 257.69L363.46 260.51L363.52 259.16L363.58 258.79L363.64 259.73L363.7 258.68L363.76 259.66L363.82 256.16L363.88 259.6L363.94 259.39L364 259.97L364.06 261.49L364.12 259.71L364.18 262.03L364.24 260L364.3 258.02L364.36 264.61L364.42 261.94L364.48 260.09L364.54 259.17L364.6 258.1L364.66 258.25L364.72 261.19L364.78 259.2L364.84 260.55L364.9 258.67L364.96 255.75L365.02 260.76L365.08 258.32L365.14 259.38L365.2 262.45L365.26 259.34L365.32 261.74L365.38 260.87L365.44 259.99L365.5 262.63L365.56 261.32L365.62 263.48L365.68 263.05L365.74 262.28L365.8 263.8L365.86 264.04L365.92 263.09L365.98 265.1L366.04 263.37L366.1 264.59L366.16 262.88L366.22 264.6L366.28 265.13L366.34 263.86L366.4 264.42L366.46 264.32L366.52 265.85L366.58 266.54L366.64 265.5L366.7 266.35L366.76 264.42L366.82 261.55L366.88 263.77L366.94 264.73L367 263.05L367.06 265.47L367.12 264.47L367.18 263.69L367.24 262.65L367.3 265.53L367.36 263.26L367.42 263.83L367.48 264.49L367.54 264.46L367.6 263.88L367.66 264.77L367.72 267.09L367.78 261.91L367.84 261.85L367.9 260.41L367.96 260.51L368.02 258.86L368.08 257.89L368.14 255.8L368.2 256.43L368.26 254.77L368.32 250.96L368.38 252.09L368.44 250.56L368.5 248.49L368.56 246.73L368.62 240.36L368.68 224.4L368.74 181.04L368.8 163.08L368.86 181.62L368.92 225.87L368.98 242.97L369.04 245.31L369.1 233.58L369.16 201.17L369.22 187.73L369.28 201.75L369.34 234.54L369.4 247.34L369.46 252.47L369.52 254.06L369.58 260.48L369.64 258.92L369.7 258.19L369.76 258.94L369.82 260.26L369.88 261.3L369.94 261.78L370 262.31L370.06 263.48L370.12 260.79L370.18 262.36L370.24 262.45L370.3 266.27L370.36 265.85L370.42 263.55L370.48 261.73L370.54 262.9L370.6 263.44L370.66 262.11L370.72 262.56L370.78 262.74L370.84 259.96L370.9 262.93L370.96 262.49L371.02 261.37L371.08 259.8L371.14 259.89L371.2 260.25L371.26 260.58L371.32 260.56L371.38 260.03L371.44 262.08L371.5 261.09L371.56 258.05L371.62 257.59L371.68 260.15L371.74 257.13L371.8 258.47L371.86 258.74L371.92 255.33L371.98 255.51L372.04 255.42L372.1 253.93L372.16 253.33L372.22 253.44L372.28 253.8L372.34 252.52L372.4 250.98L372.46 243.78L372.52 228.05L372.58 221.38L372.64 228.42L372.7 239.9L372.76 242.83L372.82 249.62L372.88 253.38L372.94 253.99L373 255.03L373.06 256.97L373.12 255.63L373.18 257.08L373.24 257.33L373.3 257.38L373.36 259.25L373.42 257.77L373.48 259.58L373.54 258.49L373.6 256.49L373.66 258.38L373.72 258.39L373.78 256.68L373.84 259.93L373.9 257.95L373.96 258.07L374.02 256.77L374.08 257.38L374.14 257.55L374.2 256.65L374.26 256.45L374.32 253.85L374.38 257.59L374.44 254.41L374.5 261.82L374.56 254.23L374.62 254.55L374.68 253.92L374.74 252.88L374.8 249.77L374.86 245.15L374.92 229.8L374.98 223.32L375.04 229.72L375.1 245.49L375.16 251.21L375.22 252.18L375.28 253.59L375.34 255.59L375.4 251.82L375.46 249.78L375.52 243.31L375.58 227.43L375.64 186.87L375.7 169.78L375.76 186.8L375.82 227.77L375.88 243.67L375.94 249.09L376 251.48L376.06 253.28L376.12 254.27L376.18 254.4L376.24 255.83L376.3 256.7L376.36 256.87L376.42 256.62L376.48 259.13L376.54 259.4L376.6 257.62L376.66 258.27L376.72 259.81L376.78 257.8L376.84 258.86L376.9 259.25L376.96 257.2L377.02 259.1L377.08 257.29L377.14 258.88L377.2 261.39L377.26 262.19L377.32 259.79L377.38 260.07L377.44 259.1L377.5 259.98L377.56 259.47L377.62 258.39L377.68 259.14L377.74 256.81L377.8 258.13L377.86 256.28L377.92 255.19L377.98 254.84L378.04 256.31L378.1 256.32L378.16 251.73L378.22 255.71L378.28 251.85L378.34 250.57L378.4 248.99L378.46 244.38L378.52 231.82L378.58 226.78L378.64 232.22L378.7 244.86L378.76 249.63L378.82 251.38L378.88 252.29L378.94 253.46L379 254.44L379.06 254.41L379.12 254.9L379.18 254.9L379.24 254.08L379.3 254.59L379.36 255.51L379.42 258.48L379.48 256.97L379.54 255.43L379.6 254.17L379.66 253.35L379.72 253.57L379.78 256.2L379.84 254.47L379.9 253.58L379.96 252.47L380.02 254.32L380.08 253.92L380.14 252.07L380.2 252.59L380.26 254.19L380.32 251.29L380.38 252.88L380.44 252.52L380.5 250.2L380.56 251.23L380.62 249.41L380.68 247.94L380.74 247.32L380.8 247.4L380.86 248.89L380.92 247.95L380.98 248.18L381.04 247.8L381.1 243.8L381.16 243.59L381.22 237.81L381.28 225.73L381.34 192.37L381.4 178.44L381.46 192.23L381.52 225.39L381.58 238.43L381.64 242.78L381.7 244.33L381.76 247.32L381.82 246.66L381.88 246.54L381.94 246.25L382 251.2L382.06 246.97L382.12 245.66L382.18 246.24L382.24 247.62L382.3 247.67L382.36 248.26L382.42 247.28L382.48 249.16L382.54 247.81L382.6 246.89L382.66 247.33L382.72 248.85L382.78 250L382.84 249.92L382.9 248.68L382.96 248.92L383.02 249.39L383.08 251.4L383.14 248.21L383.2 249.54L383.26 249.19L383.32 247.44L383.38 246.76L383.44 247.8L383.5 246.55L383.56 242.89L383.62 241.27L383.68 243.13L383.74 247.02L383.8 247.65L383.86 249.88L383.92 249.08L383.98 249.88L384.04 250.58L384.1 248.15L384.16 249.45L384.22 247.62L384.28 248.6L384.34 248.42L384.4 246.78L384.46 245.86L384.52 246.42L384.58 245.11L384.64 244.76L384.7 243.91L384.76 242.46L384.82 240.93L384.88 235.55L384.94 222.53L385 189.22L385.06 175.2L385.12 188.99L385.18 204.11L385.24 211.75L385.3 177.8L385.36 161.06L385.42 177.57L385.48 217.42L385.54 210.9L385.6 217.24L385.66 232.28L385.72 238.36L385.78 240.65L385.84 241.46L385.9 242.74L385.96 243.81L386.02 242.37L386.08 242.18L386.14 245.04L386.2 244.89L386.26 242.59L386.32 244.68L386.38 245.98L386.44 244.43L386.5 244.97L386.56 248.3L386.62 247.71L386.68 244.52L386.74 245.56L386.8 247.41L386.86 245.97L386.92 246.99L386.98 247.67L387.04 248.55L387.1 245.22L387.16 250.92L387.22 247.07L387.28 249.28L387.34 247.95L387.4 245.85L387.46 247.53L387.52 248.28L387.58 246.78L387.64 245.67L387.7 247.42L387.76 245.44L387.82 244.26L387.88 243.01L387.94 236.18L388 219.46L388.06 212.42L388.12 219.89L388.18 237L388.24 243.99L388.3 245.58L388.36 245.25L388.42 247.2L388.48 244.14L388.54 246.18L388.6 243.77L388.66 243.46L388.72 243.3L388.78 245.26L388.84 244.57L388.9 242.67L388.96 242.16L389.02 243.22L389.08 241.95L389.14 245L389.2 240.93L389.26 241.07L389.32 243.64L389.38 243.7L389.44 244.4L389.5 245.83L389.56 247.03L389.62 244.98L389.68 245.29L389.74 244.12L389.8 246.49L389.86 246.95L389.92 246.28L389.98 248.75L390.04 246.91L390.1 248.95L390.16 247.9L390.22 246.9L390.28 247.17L390.34 246.51L390.4 246.62L390.46 249.06L390.52 249.87L390.58 251.02L390.64 248.58L390.7 249.36L390.76 248.54L390.82 251.01L390.88 252.94L390.94 249.28L391 250.61L391.06 251.03L391.12 247.91L391.18 251.3L391.24 250.56L391.3 249.76L391.36 249.92L391.42 254.66L391.48 251.98L391.54 252.98L391.6 249.2L391.66 250.59L391.72 252.43L391.78 250.03L391.84 250.71L391.9 255.34L391.96 253.09L392.02 252.01L392.08 252.13L392.14 251.25L392.2 250.26L392.26 250.89L392.32 251.73L392.38 250.06L392.44 253.01L392.5 250.5L392.56 249.84L392.62 252.49L392.68 251.33L392.74 251.9L392.8 250.82L392.86 248.63L392.92 254.98L392.98 249.91L393.04 252.4L393.1 248.6L393.16 248.6L393.22 250.17L393.28 249.02L393.34 248.03L393.4 247.35L393.46 248.55L393.52 249.11L393.58 249.62L393.64 249.79L393.7 250.49L393.76 251.7L393.82 249.78L393.88 251.44L393.94 251.45L394 248.33L394.06 249.45L394.12 250.62L394.18 250.45L394.24 252.02L394.3 249.15L394.36 252.73L394.42 252.91L394.48 251.64L394.54 250.13L394.6 252.58L394.66 251.1L394.72 254.45L394.78 252.65L394.84 253.31L394.9 251.08L394.96 253.56L395.02 249.29L395.08 249.88L395.14 252.02L395.2 250.04L395.26 252.03L395.32 249.31L395.38 251.39L395.44 250.14L395.5 250.61L395.56 251.06L395.62 250.56L395.68 250.08L395.74 252.72L395.8 250.24L395.86 248.78L395.92 250.65L395.98 249.55L396.04 250.26L396.1 251.18L396.16 247.54L396.22 250.06L396.28 249.36L396.34 248.19L396.4 247.57L396.46 243.95L396.52 247.12L396.58 248.8L396.64 245.15L396.7 247.1L396.76 248.01L396.82 248.81L396.88 250.04L396.94 246.11L397 247.4L397.06 249.16L397.12 246.99L397.18 248.7L397.24 250.91L397.3 250.17L397.36 249.92L397.42 251.65L397.48 249.22L397.54 248.64L397.6 247.21L397.66 248.02L397.72 251.41L397.78 247.08L397.84 246.26L397.9 246.98L397.96 246.47L398.02 246.54L398.08 246.3L398.14 248.27L398.2 247.71L398.26 246.15L398.32 247.42L398.38 248.51L398.44 247.38L398.5 249.82L398.56 249.61L398.62 246.97L398.68 249.29L398.74 251.05L398.8 250.21L398.86 248.56L398.92 248.82L398.98 247.39L399.04 247.03L399.1 248.92L399.16 249.11L399.22 248.9L399.28 248.89L399.34 248.7L399.4 248.27L399.46 249.01L399.52 249.93L399.58 248.2L399.64 249.42L399.7 246.83L399.76 246.97L399.82 250.72L399.88 251.42L399.94 249.7L400 249.44L400.06 248.04L400.12 250.3L400.18 250.84L400.24 247.97L400.3 251.01L400.36 249.98L400.42 250.27L400.48 248.03L400.54 249.7L400.6 246.82L400.66 250.73L400.72 248.58L400.78 247.12L400.84 249.44L400.9 248.98L400.96 246.65L401.02 250.14L401.08 245.43L401.14 246.5L401.2 248.05L401.26 243.6L401.32 247.37L401.38 245.85L401.44 244.68L401.5 243.73L401.56 244.41L401.62 243.1L401.68 241.36L401.74 236.5L401.8 234.19L401.86 235.75L401.92 240.1L401.98 240.56L402.04 241.14L402.1 240.52L402.16 250.19L402.22 241.94L402.28 240.54L402.34 240.7L402.4 241.34L402.46 242.43L402.52 242.69L402.58 240.48L402.64 239.02L402.7 244.07L402.76 242.61L402.82 242.08L402.88 242.19L402.94 241.01L403 240.9L403.06 241.93L403.12 241.18L403.18 241.35L403.24 240.34L403.3 241.76L403.36 242.69L403.42 241.05L403.48 242.24L403.54 240.09L403.6 242.39L403.66 241.96L403.72 241.24L403.78 240.36L403.84 243.38L403.9 242.09L403.96 243.52L404.02 242.62L404.08 244.01L404.14 242.76L404.2 247.2L404.26 242.84L404.32 242.34L404.38 242.93L404.44 241.64L404.5 241.9L404.56 242.78L404.62 243.03L404.68 241.99L404.74 242.25L404.8 241.09L404.86 240.91L404.92 241.02L404.98 241.11L405.04 239.85L405.1 239.74L405.16 242.66L405.22 240.3L405.28 239.66L405.34 238.48L405.4 239.57L405.46 239.98L405.52 237.76L405.58 237.32L405.64 239.66L405.7 237.31L405.76 239.55L405.82 239.08L405.88 240.01L405.94 239.1L406 238.9L406.06 237.14L406.12 236.84L406.18 236.48L406.24 237.63L406.3 235.12L406.36 237.15L406.42 236.79L406.48 237.11L406.54 236.2L406.6 236.57L406.66 235.16L406.72 234.57L406.78 233.51L406.84 234.39L406.9 234.17L406.96 233.55L407.02 233.41L407.08 232.43L407.14 230.4L407.2 231.39L407.26 232.45L407.32 233.38L407.38 232.52L407.44 231.68L407.5 233.59L407.56 234.12L407.62 234.51L407.68 233.48L407.74 232.14L407.8 232.7L407.86 231.15L407.92 228.19L407.98 219.42L408.04 195.48L408.1 185.64L408.16 195.8L408.22 219.76L408.28 228.66L408.34 232.72L408.4 234.25L408.46 233.36L408.52 234.11L408.58 233.41L408.64 231.9L408.7 230.61L408.76 224.9L408.82 212.16L408.88 206.42L408.94 200.21L409 206.67L409.06 222.73L409.12 228.03L409.18 230.07L409.24 231.55L409.3 231.56L409.36 233.95L409.42 232.81L409.48 234.2L409.54 233.76L409.6 232.76L409.66 235.47L409.72 234.96L409.78 237L409.84 233.92L409.9 236.07L409.96 233.46L410.02 234.67L410.08 235.64L410.14 233.89L410.2 232.27L410.26 234.51L410.32 235.63L410.38 235.44L410.44 236.17L410.5 234.44L410.56 234.56L410.62 236.28L410.68 233.96L410.74 236.76L410.8 236.72L410.86 234.82L410.92 232.72L410.98 231.47L411.04 228.36L411.1 221.55L411.16 202.86L411.22 194.16L411.28 184.01L411.34 194.03L411.4 218.05L411.46 227.37L411.52 229.98L411.58 232.04L411.64 232.42L411.7 231.65L411.76 230.79L411.82 228.05L411.88 220.77L411.94 202.28L412 192.96L412.06 199.38L412.12 216.97L412.18 222.16L412.24 223.62L412.3 222.1L412.36 224.65L412.42 222.51L412.48 220.95L412.54 218.5L412.6 217.92L412.66 217.34L412.72 215.32L412.78 218.42L412.84 216.98L412.9 216.73L412.96 217.39L413.02 217.45L413.08 215.23L413.14 215.19L413.2 213.81L413.26 212.6L413.32 212.92L413.38 217.84L413.44 212.4L413.5 215.08L413.56 216.66L413.62 193.79L413.68 156.89L413.74 159.39L413.8 180.86L413.86 181.9L413.92 180.49L413.98 178.81L414.04 180.37L414.1 178.58L414.16 177.89L414.22 178.48L414.28 182.19L414.34 179.24L414.4 180.18L414.46 179.57L414.52 180.16L414.58 163.1L414.64 141.26L414.7 163.3L414.76 178.98L414.82 179.78L414.88 181.21L414.94 183.71L415 182.74L415.06 184.14L415.12 182.18L415.18 181.63L415.24 180.72L415.3 182.41L415.36 179.98L415.42 185.78L415.48 185.26L415.54 183.52L415.6 185.03L415.66 183.17L415.72 181.18L415.78 183.23L415.84 182.7L415.9 185.11L415.96 186.25L416.02 182.37L416.08 183.29L416.14 183.53L416.2 183.29L416.26 181.67L416.32 183.1L416.38 184.28L416.44 184.22L416.5 182.11L416.56 173.98L416.62 161.52L416.68 168.73L416.74 177L416.8 183.16L416.86 182.95L416.92 182.71L416.98 182.17L417.04 181.27L417.1 184.63L417.16 182.38L417.22 185.59L417.28 183.55L417.34 180.5L417.4 180.47L417.46 179.14L417.52 179.99L417.58 178.8L417.64 177.91L417.7 176.16L417.76 176.36L417.82 178.63L417.88 171.95L417.94 173.11L418 172.72L418.06 173.78L418.12 171.42L418.18 167.12L418.24 157.85L418.3 155.52L418.36 166.55L418.42 172.51L418.48 174.01L418.54 173.17L418.6 179.21L418.66 175.6L418.72 175.32L418.78 178.6L418.84 174.89L418.9 176.97L418.96 175.11L419.02 172.87L419.08 173.46L419.14 172.73L419.2 173.47L419.26 172.75L419.32 172.32L419.38 174.74L419.44 172.61L419.5 172.35L419.56 171.1L419.62 171.26L419.68 174.04L419.74 172.85L419.8 173.21L419.86 168.3L419.92 172.5L419.98 173.19L420.04 173.36L420.1 171.61L420.16 168.31L420.22 171.89L420.28 165.06L420.34 157.15L420.4 164.72L420.46 171.38L420.52 171.17L420.58 171.1L420.64 168.2L420.7 171.99L420.76 167.36L420.82 168.91L420.88 171.24L420.94 169.97L421 170.5L421.06 169.12L421.12 167.54L421.18 167.58L421.24 167.3L421.3 155.21L421.36 139.78L421.42 154.74L421.48 165.97L421.54 166.08L421.6 166.44L421.66 166.97L421.72 166.07L421.78 164.03L421.84 164.57L421.9 163.15L421.96 164.26L422.02 164.03L422.08 164.1L422.14 165.49L422.2 165.62L422.26 165.97L422.32 165.8L422.38 166.34L422.44 164.83L422.5 165.4L422.56 166.35L422.62 163.89L422.68 167.02L422.74 164.06L422.8 165.83L422.86 164.91L422.92 166.25L422.98 164.49L423.04 163.35L423.1 165L423.16 164.53L423.22 164.32L423.28 163.88L423.34 165.68L423.4 164.5L423.46 164.32L423.52 162.74L423.58 167.55L423.64 164.13L423.7 166.33L423.76 165.13L423.82 164.75L423.88 163.03L423.94 159.9L424 163.06L424.06 165.63L424.12 163.49L424.18 166.51L424.24 165.98L424.3 165.18L424.36 164.23L424.42 166.84L424.48 167.43L424.54 164.87L424.6 163.89L424.66 165.69L424.72 163.42L424.78 163.5L424.84 164.57L424.9 165.09L424.96 165.57L425.02 165.5L425.08 168.89L425.14 164.77L425.2 165.06L425.26 164.95L425.32 165.77L425.38 165.17L425.44 165.63L425.5 165.11L425.56 160.35L425.62 162.34L425.68 163.62L425.74 163.39L425.8 161.6L425.86 159.14L425.92 161.23L425.98 161.57L426.04 163.34L426.1 161.96L426.16 161.81L426.22 163.47L426.28 162.53L426.34 161.1L426.4 162.23L426.46 168.34L426.52 161.92L426.58 164.66L426.64 162.15L426.7 165.39L426.76 164.87L426.82 162.92L426.88 164.17L426.94 165.39L427 163.64L427.06 162.95L427.12 162.26L427.18 160.08L427.24 162.89L427.3 164.79L427.36 164.04L427.42 166.97L427.48 164.07L427.54 163.63L427.6 165.52L427.66 164.91L427.72 162.33L427.78 164.9L427.84 160.97L427.9 162.35L427.96 160.79L428.02 160.97L428.08 152.76L428.14 142.95L428.2 138L428.26 142.65L428.32 145.88L428.38 142.83L428.44 138.48L428.5 142.53L428.56 145.56L428.62 142.17L428.68 137.76L428.74 142.08L428.8 143.57L428.86 152.1L428.92 146.33L428.98 143.74L429.04 143.17L429.1 139.2L429.16 143.24L429.22 146.05L429.28 152.87L429.34 142.43L429.4 138.24L429.46 143.68L429.52 151.97L429.58 156.88L429.64 156.95L429.7 156.88L429.76 157.03L429.82 154.95L429.88 158.39L429.94 158L430 156.77L430.06 161.09L430.12 158.42L430.18 157.22L430.24 152.8L430.3 147.02L430.36 152.53L430.42 155.93L430.48 155.89L430.54 156.95L430.6 154.53L430.66 155.72L430.72 154.88L430.78 154.73L430.84 155.14L430.9 155.6L430.96 154.15L431.02 153.37L431.08 153.06L431.14 152.31L431.2 151.98L431.26 151.48L431.32 144.74L431.38 144.29L431.44 141.81L431.5 124.55L431.56 114.31L431.62 128.15L431.68 139.44L431.74 141.29L431.8 141.81L431.86 142.81L431.92 142.97L431.98 143.16L432.04 142.08L432.1 142.95L432.16 141.16L432.22 140.03L432.28 139.4L432.34 138.23L432.4 126.73L432.46 111.67L432.52 122.41L432.58 130.73L432.64 122.1L432.7 118.88L432.76 119.3L432.82 116.34L432.88 117.73L432.94 118.47L433 116.48L433.06 116.2L433.12 115.28L433.18 116.32L433.24 114.68L433.3 114.14L433.36 112.63L433.42 107.27L433.48 100.51L433.54 107.27L433.6 113.31L433.66 112.79L433.72 114.91L433.78 115.35L433.84 117.75L433.9 120.46L433.96 125.88L434.02 121.5L434.08 124.75L434.14 123.43L434.2 122.88L434.26 122.41L434.32 119.1L434.38 119.67L434.44 118.2L434.5 118.08L434.56 115.6L434.62 114.06L434.68 112.77L434.74 112.18L434.8 111.52L434.86 110.19L434.92 109.37L434.98 107.42L435.04 106.3L435.1 105.35L435.16 103.73L435.22 102.65L435.28 101.8L435.34 100.24L435.4 98.52L435.46 96.78L435.52 95.54L435.58 94.98L435.64 92.27L435.7 91.87L435.76 92.03L435.82 90.48L435.88 88.87L435.94 89.38L436 88.46L436.06 86.07L436.12 85.98L436.18 84.97L436.24 82.61L436.3 83.17L436.36 80.04L436.42 79.2L436.48 77.42L436.54 76.62L436.6 74.93L436.66 74.38L436.72 73.95L436.78 72.05L436.84 69.3L436.9 68.67L436.96 64.92L437.02 61.68L437.08 62.99L437.14 63.51L437.2 63.14L437.26 62.69L437.32 62.98L437.38 64.58L437.44 62.23L437.5 62.65L437.56 61.65L437.62 61.43L437.68 60.26L437.74 59.16L437.8 58.68L437.86 57.64L437.92 55.9L437.98 54.83L438.04 54.07L438.1 52.14L438.16 50.03L438.22 51.09L438.28 48.95L438.34 48.06L438.4 47.44L438.46 47.51L438.52 44.67L438.58 45.58L438.64 43.72L438.7 42.5L438.76 41.4L438.82 42.09L438.88 41.1L438.94 40.65L439 40.14L439.06 38.16L439.12 37.13L439.18 36.4L439.24 36.18L439.3 35.19L439.36 34.91L439.42 34.3L439.48 32.46L439.54 33.37L439.6 31.37L439.66 33.43L439.72 33.97L439.78 37.88L439.84 34.19L439.9 33.88L439.96 34.63L440.02 34.28L440.08 33.79L440.14 34.18L440.2 32.85L440.26 33.74L440.32 32.38L440.38 32.87L440.44 32.4L440.5 32.02L440.56 31.18L440.62 29.73L440.68 31.02L440.74 31.92L440.8 32.27L440.86 30.98L440.92 29.38L440.98 30.79L441.04 30.22L441.1 29.95L441.16 33.01L441.22 30.56L441.28 30.13L441.34 29.29L441.4 31.19L441.46 30.11L441.52 29.61L441.58 29.09L441.64 29.83L441.7 30.47L441.76 30.55L441.82 31.75L441.88 31.6L441.94 29.54L442 29.55L442.06 29.92L442.12 29.66L442.18 29.37L442.24 28.13L442.3 29.08L442.36 29.74L442.42 29.54L442.48 30.14L442.54 30.42L442.6 30.19L442.66 28.93L442.72 29.08L442.78 28.59L442.84 28.22L442.9 28.63L442.96 28.14L443.02 28.76L443.08 28.53L443.14 28.59L443.2 28.24L443.26 29.41L443.32 28.13L443.38 30.22L443.44 29.75L443.5 29.54L443.56 28.75L443.62 27.95L443.68 28.16L443.74 27L443.8 49.03L443.86 70.24L443.92 70.54L443.98 68.67L444.04 68.77L444.1 66.89L444.16 67.69L444.22 68.14L444.28 67.66L444.34 69.25L444.4 68.26L444.46 67.12L444.52 68.06L444.58 65.27L444.64 67.1L444.7 66.56L444.76 65.45L444.82 65.13L444.88 66.83L444.94 65.39L445 65.53L445.06 66.08L445.12 65.13L445.18 65.54L445.24 63.93L445.3 64.81L445.36 65.14L445.42 63.56L445.48 62.05L445.54 63.89L445.6 63.35L445.66 62.41L445.72 63.89L445.78 61.45L445.84 64.05L445.9 62.55L445.96 63.88L446.02 62.21L446.08 61.53L446.14 62.97L446.2 62.64L446.26 62.91L446.32 63.07L446.38 61.92L446.44 63.01L446.5 63.06L446.56 61.97L446.62 61.53L446.68 61.55L446.74 62.37L446.8 62.43L446.86 61.31L446.92 60.74L446.98 61.54L447.04 60.36L447.1 61.5L447.16 60.56L447.22 59.94L447.28 61.18" clip-path="url(#pd9eb30c69a)" style="fill: none; stroke: #ff0000; stroke-width: 0.5; stroke-linecap: square"/>
   </g>
   <g id="line2d_28">
    <path d="M67.06 46.5L67.12 46.7L67.18 46.68L67.24 46.64L67.3 46.88L67.36 46.87L67.42 47.27L67.48 47.73L67.54 47.38L67.6 47.47L67.66 47.89L67.72 47.98L67.78 48.04L67.84 47.9L67.9 48.27L67.96 48.6L68.02 48.2L68.08 48.57L68.14 48.32L68.2 48.62L68.26 48.61L68.32 49.17L68.38 49.04L68.44 49.58L68.5 49.68L68.56 49.73L68.62 49.16L68.68 49.6L68.74 49.64L68.8 49.59L68.86 49.07L68.92 49.26L68.98 49.05L69.04 49L69.1 49.41L69.16 48.83L69.22 48.95L69.28 49.1L69.34 48.3L69.4 47.93L69.46 47.49L69.52 46.98L69.58 46.14L69.64 45.98L69.7 45.82L69.76 45.25L69.82 46.05L69.88 46.04L69.94 46.02L70 46.89L70.06 46.74L70.12 46.42L70.18 46.93L70.24 47.24L70.3 47.22L70.36 47.73L70.42 47.82L70.48 48.3L70.54 48.79L70.6 48.52L70.66 49.04L70.72 49.15L70.78 49.59L70.84 49.46L70.9 49.8L70.96 50.08L71.02 50.55L71.08 50.8L71.14 50.33L71.2 50.65L71.26 51.21L71.32 50.69L71.38 51.27L71.44 51.41L71.5 51.71L71.56 51.5L71.62 51.17L71.68 51.09L71.74 51.07L71.8 51.48L71.86 50.9L71.92 50.87L71.98 50.99L72.04 50.55L72.1 50.06L72.16 49.34L72.22 49.16L72.28 48.58L72.34 48.52L72.4 47.92L72.46 47.3L72.52 47.04L72.58 46.34L72.64 46.27L72.7 45.56L72.76 45.28L72.82 44.43L72.88 44.58L72.94 44.81L73 43.44L73.06 43.62L73.12 43.21L73.18 43.21L73.24 43.41L73.3 42.24L73.36 41.91L73.42 41.73L73.48 41.42L73.54 40.87L73.6 40.47L73.66 41.35L73.72 42.2L73.78 42.71L73.84 43.85L73.9 44.75L73.96 45.32L74.02 46.52L74.08 47.08L74.14 48.05L74.2 48.09L74.26 48.31L74.32 48.38L74.38 48.75L74.44 48.5L74.5 48.98L74.56 49.62L74.62 49.77L74.68 52.23L74.74 53.2L74.8 55.54L74.86 56.54L74.92 58.36L74.98 59.55L75.04 60.35L75.1 62.34L75.16 63.6L75.22 64.37L75.28 65.51L75.34 66.74L75.4 67.7L75.46 69.52L75.52 70.22L75.58 71.57L75.64 72.54L75.7 73.79L75.76 74.78L75.82 76.8L75.88 77.54L75.94 79.11L76 80L76.06 80.96L76.12 82.29L76.18 83.41L76.24 84.8L76.3 85.87L76.36 87.09L76.42 87.91L76.48 89.31L76.54 91.23L76.6 90.98L76.66 91.44L76.72 92.56L76.78 93.56L76.84 93.08L76.9 94.15L76.96 94.59L77.02 94.76L77.08 96.32L77.14 96.63L77.2 97.26L77.26 97.54L77.32 98.62L77.38 98.87L77.44 99.85L77.5 100.27L77.56 101.04L77.62 102.91L77.68 102.96L77.74 104.11L77.8 104.79L77.86 105.43L77.92 106.22L77.98 107.53L78.04 108.94L78.1 108.76L78.16 109.59L78.22 110.85L78.28 111.39L78.34 112L78.4 112.32L78.46 112.69L78.52 114.52L78.58 115.29L78.64 115.52L78.7 116.59L78.76 117.46L78.82 118.24L78.88 119.04L78.94 119.12L79 120.84L79.06 120.22L79.12 122.02L79.18 122.59L79.24 123.54L79.3 124.81L79.36 125.36L79.42 124.73L79.48 125.15L79.54 127.15L79.6 126.89L79.66 128.12L79.72 129.27L79.78 128.65L79.84 129.1L79.9 131.07L79.96 131.65L80.02 132.2L80.08 133.05L80.14 133.26L80.2 133.6L80.26 135.04L80.32 135.29L80.38 135.61L80.44 137.53L80.5 137.93L80.56 138.92L80.62 138.84L80.68 139.75L80.74 140.27L80.8 141.06L80.86 142.41L80.92 142.55L80.98 143.94L81.04 144.66L81.1 146.38L81.16 145.06L81.22 147.15L81.28 147.48L81.34 148.61L81.4 148.82L81.46 150.52L81.52 152.35L81.58 152.93L81.64 154.12L81.7 154.97L81.76 156.97L81.82 157.12L81.88 156.61L81.94 158.49L82 158.55L82.06 158.6L82.12 161.3L82.18 163.44L82.24 163.49L82.3 163.57L82.36 164.53L82.42 166.63L82.48 166.64L82.54 167.25L82.6 167.86L82.66 168.6L82.72 169.82L82.78 170.33L82.84 170.77L82.9 170.5L82.96 173.6L83.02 172L83.08 173.91L83.14 172.82L83.2 174.27L83.26 174.99L83.32 174.65L83.38 177.51L83.44 177.95L83.5 177.15L83.56 178.69L83.62 179.03L83.68 177.4L83.74 180.16L83.8 180.52L83.86 181.23L83.92 180.94L83.98 182.16L84.04 182.83L84.1 184.5L84.16 184.44L84.22 184.77L84.28 186.58L84.34 185.54L84.4 186.27L84.46 185.73L84.52 189.04L84.58 188.8L84.64 188.94L84.7 188.92L84.76 188.65L84.82 188.92L84.88 188.72L84.94 188.94L85 189.33L85.06 190.71L85.12 190.1L85.18 189.78L85.24 189.53L85.3 189.66L85.36 191.7L85.42 190.97L85.48 190.79L85.54 190.62L85.6 190.16L85.66 191.21L85.72 192.19L85.78 191.3L85.84 191.62L85.9 191.8L85.96 192.25L86.02 190.97L86.08 192.29L86.14 191.93L86.2 193.59L86.26 192.34L86.32 193.66L86.38 194.65L86.44 193.23L86.5 193.15L86.56 194.01L86.62 194.01L86.68 193.31L86.74 194.85L86.8 196.74L86.86 195.27L86.92 195.84L86.98 195.61L87.04 197.35L87.1 196.47L87.16 197.12L87.22 199.84L87.28 198.57L87.34 201.08L87.4 202.19L87.46 201.73L87.52 202.7L87.58 204.7L87.64 203.41L87.7 203.73L87.76 203.72L87.82 205.73L87.88 207.94L87.94 208.41L88 207.55L88.06 208.59L88.12 212.45L88.18 211.63L88.24 212.1L88.3 213.47L88.36 214.45L88.42 214.14L88.48 214.67L88.54 215.2L88.6 215.19L88.66 216.06L88.72 217.72L88.78 216.71L88.84 216.45L88.9 214.75L88.96 216.78L89.02 214.37L89.08 214.85L89.14 217.07L89.2 216.86L89.26 215.94L89.32 214.31L89.38 215.6L89.44 215.23L89.5 216.49L89.56 218.06L89.62 215.95L89.68 214.89L89.74 214.43L89.8 215.49L89.86 215.31L89.92 214.6L89.98 216.24L90.04 215.32L90.1 217.97L90.16 218.28L90.22 218.67L90.28 217.44L90.34 218.81L90.4 218.51L90.46 218.61L90.52 219.02L90.58 218.22L90.64 218.1L90.7 220.43L90.76 219.46L90.82 219.91L90.88 220.75L90.94 217.98L91 218.99L91.06 220.01L91.12 220.26L91.18 219.51L91.24 220.99L91.3 220.18L91.36 218.75L91.42 219.07L91.48 220.89L91.54 220.58L91.6 218.18L91.66 221.56L91.72 220.82L91.78 221.76L91.84 220.17L91.9 220.45L91.96 219.78L92.02 223.76L92.08 221.15L92.14 223.17L92.2 221.05L92.26 222.08L92.32 220.36L92.38 221.9L92.44 223.51L92.5 221.37L92.56 223.99L92.62 223.41L92.68 222.16L92.74 222.92L92.8 223.16L92.86 223.78L92.92 223.46L92.98 223.35L93.04 224.09L93.1 223.52L93.16 223.43L93.22 224.93L93.28 226.11L93.34 223.75L93.4 225.57L93.46 224.95L93.52 224.64L93.58 226.61L93.64 225.19L93.7 227.36L93.76 224.99L93.82 226.25L93.88 225.64L93.94 225.12L94 226.57L94.06 225.82L94.12 226.66L94.18 226L94.24 224.93L94.3 226.01L94.36 226.21L94.42 227.21L94.48 225.26L94.54 226.22L94.6 224.46L94.66 226.83L94.72 224.85L94.78 223.94L94.84 225.65L94.9 226.73L94.96 223.81L95.02 224.13L95.08 224.35L95.14 223.8L95.2 225.24L95.26 223.85L95.32 223.8L95.38 225.02L95.44 223.47L95.5 224.37L95.56 222.53L95.62 221.92L95.68 220.92L95.74 224.41L95.8 221.78L95.86 222L95.92 221.36L95.98 221.19L96.04 220.72L96.1 222.27L96.16 219.1L96.22 218.5L96.28 219L96.34 218.61L96.4 220.69L96.46 220.71L96.52 218.82L96.58 218.32L96.64 219.32L96.7 221.05L96.76 216.67L96.82 220.24L96.88 218.96L96.94 221.5L97 219.67L97.06 220.85L97.12 219.94L97.18 220.85L97.24 223.67L97.3 223.44L97.36 222.53L97.42 222.4L97.48 221.65L97.54 223.44L97.6 224.04L97.66 224.21L97.72 224.42L97.78 223.56L97.84 224.89L97.9 225.14L97.96 226.76L98.02 227.59L98.08 227.54L98.14 225.25L98.2 226.21L98.26 225.85L98.32 225.93L98.38 226.88L98.44 226.05L98.5 228.03L98.56 227.52L98.62 228.14L98.68 227.91L98.74 227.57L98.8 227.57L98.86 228.57L98.92 228.48L98.98 229.56L99.04 228.89L99.1 226.95L99.16 228L99.22 226.02L99.28 226.31L99.34 226.18L99.4 223.81L99.46 225.63L99.52 225.3L99.58 224.7L99.64 224.14L99.7 223.91L99.76 223L99.82 223.46L99.88 222.88L99.94 223.28L100 221.66L100.06 223.41L100.12 223.55L100.18 223.49L100.24 223.42L100.3 224.7L100.36 222.61L100.42 225.09L100.48 225.1L100.54 225.38L100.6 225.73L100.66 224.87L100.72 225.53L100.78 226.72L100.84 226.74L100.9 226.74L100.96 225.15L101.02 227.59L101.08 228.58L101.14 228.72L101.2 228.2L101.26 226.6L101.32 229.59L101.38 228.73L101.44 226.48L101.5 229.92L101.56 228.22L101.62 228.74L101.68 229.77L101.74 232.15L101.8 230.67L101.86 231.67L101.92 233.46L101.98 233.48L102.04 231.8L102.1 231.83L102.16 230.9L102.22 231.7L102.28 233.1L102.34 233.25L102.4 233.12L102.46 234.27L102.52 232.51L102.58 233.48L102.64 234.53L102.7 234.54L102.76 235.26L102.82 234.7L102.88 234.1L102.94 235.04L103 233.72L103.06 233.2L103.12 235.86L103.18 235.34L103.24 239.34L103.3 233.9L103.36 235.57L103.42 235.5L103.48 235.4L103.54 234.04L103.6 236.38L103.66 237.95L103.72 237.47L103.78 236.01L103.84 236.31L103.9 236.81L103.96 232.53L104.02 235.1L104.08 235.48L104.14 235.28L104.2 236.04L104.26 235.05L104.32 233.78L104.38 233.41L104.44 233.58L104.5 231.77L104.56 231.95L104.62 232.63L104.68 233.41L104.74 230.94L104.8 231.38L104.86 231.97L104.92 233.54L104.98 232.36L105.04 234.33L105.1 231.97L105.16 233.15L105.22 233.46L105.28 234.83L105.34 235.4L105.4 232.85L105.46 233.79L105.52 235.46L105.58 234.63L105.64 233.95L105.7 237.08L105.76 236.76L105.82 237.04L105.88 236.23L105.94 238.2L106 237.06L106.06 238.84L106.12 236.86L106.18 237.21L106.24 238.68L106.3 246.26L106.36 239.06L106.42 238.51L106.48 237.1L106.54 238.14L106.6 237.58L106.66 238.93L106.72 237.11L106.78 237.24L106.84 239.02L106.9 240.09L106.96 239.74L107.02 237.49L107.08 237.58L107.14 238.97L107.2 237.04L107.26 235.99L107.32 237L107.38 237.17L107.44 235.53L107.5 234.41L107.56 234.43L107.62 236.56L107.68 234.77L107.74 235.24L107.8 235.43L107.86 235.67L107.92 234.4L107.98 235.11L108.04 233.37L108.1 233.74L108.16 232.8L108.22 234.96L108.28 233.48L108.34 232.49L108.4 232.7L108.46 232.63L108.52 233.43L108.58 230.71L108.64 231.38L108.7 232.34L108.76 235.78L108.82 234.29L108.88 233.36L108.94 234.5L109 236.23L109.06 233.94L109.12 234.03L109.18 236.02L109.24 235.47L109.3 235.9L109.36 234.84L109.42 237.78L109.48 237.78L109.54 236.75L109.6 239.12L109.66 234.5L109.72 237.95L109.78 237.49L109.84 238.67L109.9 239.42L109.96 238.74L110.02 237.68L110.08 240.48L110.14 239.69L110.2 240.63L110.26 240.78L110.32 241.55L110.38 239.76L110.44 244.29L110.5 243.65L110.56 244.99L110.62 246.3L110.68 244.33L110.74 242.51L110.8 243.87L110.86 243.8L110.92 244.92L110.98 245.9L111.04 243.76L111.1 246.81L111.16 244.93L111.22 247.36L111.28 247.18L111.34 247.24L111.4 247.82L111.46 247.57L111.52 247.78L111.58 246.89L111.64 249.24L111.7 251.87L111.76 252.43L111.82 252.03L111.88 251.69L111.94 250.42L112 253.36L112.06 251.94L112.12 252.32L112.18 252.44L112.24 253.16L112.3 252.69L112.36 253.28L112.42 252.23L112.48 253.25L112.54 256.65L112.6 253.96L112.66 253.91L112.72 255.02L112.78 255.4L112.84 253.34L112.9 254.61L112.96 256.16L113.02 255.53L113.08 255.51L113.14 257.44L113.2 254.86L113.26 255.96L113.32 255.38L113.38 258.02L113.44 253.95L113.5 255.69L113.56 256.03L113.62 257.7L113.68 257.82L113.74 258.99L113.8 255.5L113.86 258.58L113.92 257.48L113.98 257.2L114.04 263.64L114.1 257.27L114.16 256.02L114.22 258.34L114.28 257.12L114.34 258.37L114.4 259.84L114.46 259.87L114.52 261.58L114.58 259.45L114.64 257.88L114.7 258.96L114.76 258.86L114.82 258.59L114.88 260.78L114.94 259.52L115 257.95L115.06 261.43L115.12 260.52L115.18 261.21L115.24 261L115.3 261.77L115.36 261.13L115.42 262.75L115.48 261.83L115.54 261.9L115.6 262.03L115.66 259.77L115.72 261.52L115.78 261.5L115.84 262.2L115.9 260.32L115.96 264.19L116.02 262.31L116.08 260.7L116.14 260.13L116.2 262L116.26 266.18L116.32 261.57L116.38 262.66L116.44 261.78L116.5 263.36L116.56 261.8L116.62 262.73L116.68 264.09L116.74 266.18L116.8 261.68L116.86 262.43L116.92 262.01L116.98 264.12L117.04 261.7L117.1 262.58L117.16 263.21L117.22 262.03L117.28 262.1L117.34 262.76L117.4 260.72L117.46 261.6L117.52 262.96L117.58 263.71L117.64 263.33L117.7 261.34L117.76 263.05L117.82 267.36L117.88 264.43L117.94 263.66L118 262.38L118.06 264.06L118.12 262.25L118.18 261.24L118.24 261.45L118.3 264.05L118.36 262.23L118.42 263.16L118.48 260.82L118.54 262.35L118.6 260.15L118.66 260.45L118.72 263.51L118.78 261.09L118.84 259.24L118.9 259.5L118.96 259.76L119.02 260.69L119.08 258.38L119.14 256.64L119.2 258.28L119.26 258.47L119.32 258.41L119.38 259.73L119.44 258.3L119.5 258.74L119.56 256.18L119.62 258.45L119.68 259.91L119.74 258.24L119.8 257.57L119.86 257.42L119.92 259.41L119.98 256.02L120.04 260.44L120.1 257.68L120.16 258L120.22 256.51L120.28 257.4L120.34 256.64L120.4 257.11L120.46 256.76L120.52 255.49L120.58 256.84L120.64 257.92L120.7 255.61L120.76 256.48L120.82 257.57L120.88 255.4L120.94 256.91L121 255.34L121.06 258.01L121.12 259.42L121.18 259.01L121.24 256.2L121.3 257.34L121.36 256.53L121.42 256.46L121.48 258.2L121.54 254.62L121.6 257.5L121.66 256.1L121.72 257.85L121.78 256.3L121.84 255.19L121.9 256.32L121.96 256.84L122.02 255.93L122.08 256.44L122.14 255.15L122.2 253.13L122.26 256.81L122.32 256.52L122.38 255.73L122.44 258.14L122.5 256.58L122.56 254.63L122.62 254.2L122.68 258.92L122.74 256.28L122.8 253.01L122.86 256.05L122.92 253.69L122.98 253.01L123.04 255.77L123.1 253.99L123.16 252.4L123.22 253.43L123.28 254.88L123.34 255.08L123.4 252.99L123.46 253.88L123.52 254.13L123.58 252.37L123.64 253.46L123.7 252.84L123.76 252.03L123.82 251.88L123.88 252.36L123.94 252.11L124 251.2L124.06 251.16L124.12 252.82L124.18 251.53L124.24 252.14L124.3 252.32L124.36 251.38L124.42 253.19L124.48 249.29L124.54 251.04L124.6 249.5L124.66 251.89L124.72 251.6L124.78 247.24L124.84 253.35L124.9 250.36L124.96 250.51L125.02 250.45L125.08 249.49L125.14 250.11L125.2 250.35L125.26 249.48L125.32 250.79L125.38 246.88L125.44 250.33L125.5 248.34L125.56 250.71L125.62 249.3L125.68 248.51L125.74 250L125.8 248.44L125.86 248.4L125.92 247.59L125.98 249.4L126.04 249.99L126.1 250.59L126.16 249.17L126.22 250.56L126.28 249.3L126.34 249.14L126.4 249.9L126.46 250.45L126.52 248.76L126.58 248.84L126.64 248.91L126.7 249.17L126.76 247.97L126.82 250.23L126.88 248.51L126.94 249.5L127 247.94L127.06 249.33L127.12 249.44L127.18 248.55L127.24 251.53L127.3 249.64L127.36 251.39L127.42 250.49L127.48 248.64L127.54 249.05L127.6 250.1L127.66 249.73L127.72 249.79L127.78 249.46L127.84 247.72L127.9 249.68L127.96 247.38L128.02 250.55L128.08 249.31L128.14 249.4L128.2 250.07L128.26 250.73L128.32 248.76L128.38 248.46L128.44 249.35L128.5 248.26L128.56 254.03L128.62 252.76L128.68 249.66L128.74 251.79L128.8 249.43L128.86 251.51L128.92 250.85L128.98 251.23L129.04 252.06L129.1 253.57L129.16 251.76L129.22 251.75L129.28 250.51L129.34 252.46L129.4 251.53L129.46 252.91L129.52 251.93L129.58 254.16L129.64 249.74L129.7 251.85L129.76 253.35L129.82 251.96L129.88 251.53L129.94 252.26L130 251.01L130.06 252.93L130.12 255.84L130.18 254.37L130.24 251.74L130.3 252.12L130.36 252.79L130.42 254.61L130.48 252.49L130.54 252.75L130.6 256.39L130.66 254.84L130.72 253.43L130.78 252.56L130.84 251.86L130.9 252.71L130.96 250.67L131.02 254.11L131.08 252.26L131.14 253.42L131.2 254.92L131.26 253.9L131.32 250.91L131.38 253.17L131.44 253.34L131.5 250.86L131.56 250.43L131.62 251.27L131.68 249.29L131.74 252.8L131.8 247.96L131.86 249.31L131.92 250.1L131.98 249.95L132.04 250.21L132.1 250.12L132.16 249.33L132.22 250.73L132.28 246.62L132.34 248.96L132.4 247.9L132.46 250.62L132.52 248.59L132.58 247.04L132.64 247.15L132.7 248.63L132.76 247.9L132.82 246.47L132.88 249.46L132.94 249.57L133 244.92L133.06 246.79L133.12 249.16L133.18 247.04L133.24 246.3L133.3 245.72L133.36 245.25L133.42 248.94L133.48 245.08L133.54 246.51L133.6 245.1L133.66 244.97L133.72 248.52L133.78 245.26L133.84 244.2L133.9 244.95L133.96 246.3L134.02 245.43L134.08 245.51L134.14 245.26L134.2 244.86L134.26 244.6L134.32 244.34L134.38 245.53L134.44 243.34L134.5 246.11L134.56 244.54L134.62 243.59L134.68 243.84L134.74 243.57L134.8 244.5L134.86 243.43L134.92 245.54L134.98 243.26L135.04 241.78L135.1 243.85L135.16 242.64L135.22 245.21L135.28 246.78L135.34 246.58L135.4 244.53L135.46 245.49L135.52 248.75L135.58 247.32L135.64 247.23L135.7 248.75L135.76 250.68L135.82 249.6L135.88 248.51L135.94 249.04L136 249.63L136.06 248.21L136.12 247.72L136.18 252.84L136.24 247.93L136.3 249.02L136.36 249.25L136.42 251.96L136.48 248.2L136.54 249.11L136.6 249.1L136.66 249.86L136.72 250.62L136.78 248.83L136.84 248.48L136.9 247.54L136.96 248.43L137.02 250.17L137.08 249.37L137.14 247.89L137.2 248.44L137.26 248.71L137.32 249.05L137.38 247.53L137.44 247.72L137.5 253.52L137.56 246.23L137.62 249.28L137.68 244.58L137.74 246.54L137.8 246.98L137.86 246.04L137.92 245.07L137.98 245.49L138.04 245.09L138.1 244.54L138.16 241.99L138.22 243.54L138.28 242.26L138.34 242.15L138.4 242.58L138.46 242.59L138.52 242.42L138.58 240.37L138.64 241.52L138.7 241.34L138.76 240.84L138.82 240.66L138.88 238.69L138.94 238.52L139 239.52L139.06 236.92L139.12 238.56L139.18 237.6L139.24 237.65L139.3 235.97L139.36 236.8L139.42 237.65L139.48 238.54L139.54 238.52L139.6 237.24L139.66 237.03L139.72 236.24L139.78 237.54L139.84 236.73L139.9 237.6L139.96 238.8L140.02 236.73L140.08 235.01L140.14 235.64L140.2 234.9L140.26 235.11L140.32 237.82L140.38 236.54L140.44 234.51L140.5 236.85L140.56 237.45L140.62 235.6L140.68 235.2L140.74 235.52L140.8 236.17L140.86 236.51L140.92 237.07L140.98 237.05L141.04 236.97L141.1 237.12L141.16 236.29L141.22 233.81L141.28 235.31L141.34 235.76L141.4 234.93L141.46 236.32L141.52 234.86L141.58 239.34L141.64 236.77L141.7 235.85L141.76 235.31L141.82 236.06L141.88 236.18L141.94 235.36L142 232.23L142.06 234.18L142.12 234.39L142.18 233.78L142.24 235.07L142.3 236.14L142.36 234.26L142.42 233.51L142.48 236.99L142.54 234.22L142.6 233.15L142.66 234.23L142.72 233.9L142.78 232.12L142.84 233.21L142.9 231.28L142.96 230.33L143.02 231.62L143.08 232.36L143.14 230.93L143.2 232.07L143.26 235.36L143.32 234.99L143.38 231.23L143.44 233.61L143.5 232.13L143.56 232.15L143.62 232.99L143.68 232.89L143.74 233.01L143.8 231.7L143.86 230.41L143.92 230.19L143.98 231.04L144.04 230.84L144.1 231.43L144.16 230.09L144.22 230.5L144.28 230.7L144.34 229.05L144.4 227.14L144.46 227.33L144.52 226.91L144.58 230.02L144.64 227.26L144.7 229.35L144.76 228.52L144.82 229.58L144.88 228.68L144.94 227.36L145 227.12L145.06 227.28L145.12 227.24L145.18 226.34L145.24 226.73L145.3 228.34L145.36 224.68L145.42 226.62L145.48 225.25L145.54 226.27L145.6 226.82L145.66 225.73L145.72 226.47L145.78 223.83L145.84 226.54L145.9 224.59L145.96 225.74L146.02 225.14L146.08 222.08L146.14 223.87L146.2 224.76L146.26 226.02L146.32 224.55L146.38 224.29L146.44 222.3L146.5 225.04L146.56 225.19L146.62 223.09L146.68 222.59L146.74 220.89L146.8 223.26L146.86 224.91L146.92 222.6L146.98 222.93L147.04 222.05L147.1 220.42L147.16 222.78L147.22 220.07L147.28 221.08L147.34 221.54L147.4 222.12L147.46 221.59L147.52 221.51L147.58 220.27L147.64 219.68L147.7 221.03L147.76 220.18L147.82 219.52L147.88 219.55L147.94 220.38L148 218.99L148.06 219.54L148.12 219.27L148.18 222.95L148.24 221.43L148.3 223.1L148.36 219.5L148.42 220.37L148.48 222.04L148.54 220.9L148.6 220.81L148.66 222.94L148.72 220.72L148.78 219.64L148.84 219.23L148.9 220.7L148.96 220.42L149.02 218.46L149.08 218.62L149.14 219.94L149.2 219.76L149.26 218.72L149.32 220.22L149.38 220.38L149.44 218.17L149.5 219.89L149.56 220.85L149.62 220.05L149.68 218.64L149.74 220.76L149.8 222.05L149.86 223.11L149.92 219.44L149.98 224.67L150.04 221.02L150.1 223.43L150.16 223.96L150.22 223.94L150.28 223.31L150.34 222.18L150.4 224.29L150.46 223.12L150.52 221.47L150.58 227.34L150.64 225.39L150.7 226.83L150.76 224.22L150.82 227L150.88 227.4L150.94 227.64L151 226.24L151.06 225.26L151.12 226.61L151.18 224.73L151.24 225.54L151.3 227.75L151.36 226.89L151.42 228.08L151.48 228.44L151.54 230.93L151.6 230.55L151.66 229.41L151.72 231.06L151.78 229.21L151.84 229.99L151.9 231.64L151.96 229.61L152.02 232.97L152.08 230.12L152.14 231.99L152.2 233.94L152.26 231.64L152.32 233.01L152.38 232.07L152.44 232.1L152.5 232.3L152.56 235.56L152.62 236.76L152.68 236.69L152.74 233.7L152.8 235.44L152.86 234.46L152.92 235.89L152.98 235.49L153.04 235.65L153.1 236.2L153.16 235.12L153.22 235.55L153.28 234.32L153.34 235.98L153.4 235.13L153.46 236.79L153.52 236.12L153.58 237.54L153.64 238.18L153.7 236.31L153.76 237.23L153.82 237.32L153.88 239.46L153.94 240.78L154 240.06L154.06 238.93L154.12 241.23L154.18 238.09L154.24 241.75L154.3 239.53L154.36 237.35L154.42 243.78L154.48 242.8L154.54 240.05L154.6 241.66L154.66 241.4L154.72 241.93L154.78 240.27L154.84 241.35L154.9 245.76L154.96 242.71L155.02 243.99L155.08 242.86L155.14 245.64L155.2 242.27L155.26 243.55L155.32 241.2L155.38 242.12L155.44 245.27L155.5 242.8L155.56 244.67L155.62 244.14L155.68 243.14L155.74 244.09L155.8 244.04L155.86 244.21L155.92 245.8L155.98 245.82L156.04 244.52L156.1 244.28L156.16 249.38L156.22 245.5L156.28 246.96L156.34 249.01L156.4 247.03L156.46 246.14L156.52 246.12L156.58 245.45L156.64 245.54L156.7 245.62L156.76 246.53L156.82 246.7L156.88 248.28L156.94 247.13L157 247.57L157.06 246.56L157.12 250.15L157.18 249L157.24 250.72L157.3 249.75L157.36 250.77L157.42 248.91L157.48 250.26L157.54 252.83L157.6 248.34L157.66 251.41L157.72 252.3L157.78 251.04L157.84 251.72L157.9 252.6L157.96 252.34L158.02 252.1L158.08 250.79L158.14 251.29L158.2 251.63L158.26 252.48L158.32 253.1L158.38 253.74L158.44 256.33L158.5 256.18L158.56 255.64L158.62 255.59L158.68 254.71L158.74 255.53L158.8 256.81L158.86 257.12L158.92 254.95L158.98 258.51L159.04 261.76L159.1 256.17L159.16 260.28L159.22 259.89L159.28 259.66L159.34 261.97L159.4 259.06L159.46 261.19L159.52 263.27L159.58 261.5L159.64 261.6L159.7 262.69L159.76 262.35L159.82 265.35L159.88 262.52L159.94 265.25L160 262.84L160.06 265.77L160.12 265.14L160.18 262.24L160.24 266.05L160.3 265.02L160.36 266.24L160.42 269.29L160.48 266.12L160.54 266.56L160.6 270.22L160.66 268.74L160.72 270.96L160.78 269.62L160.84 268.29L160.9 269.69L160.96 271.75L161.02 274.35L161.08 270.69L161.14 271.05L161.2 271.12L161.26 270.56L161.32 274.06L161.38 271.5L161.44 270.02L161.5 270.99L161.56 272.71L161.62 272.66L161.68 271.67L161.74 271.01L161.8 272.03L161.86 269.78L161.92 270.36L161.98 273.31L162.04 271.63L162.1 272.9L162.16 274.15L162.22 273.47L162.28 272.7L162.34 275.7L162.4 273.78L162.46 272.47L162.52 274.07L162.58 273.71L162.64 272.07L162.7 273.45L162.76 273.21L162.82 270.82L162.88 273.4L162.94 273.1L163 272.72L163.06 276.21L163.12 272.5L163.18 272.76L163.24 272.79L163.3 270.92L163.36 273.18L163.42 270.48L163.48 271.67L163.54 273.59L163.6 270.69L163.66 270.77L163.72 272.77L163.78 270.55L163.84 270.43L163.9 275.23L163.96 271.78L164.02 267.12L164.08 268.75L164.14 268.27L164.2 267.92L164.26 267.99L164.32 267.78L164.38 269.07L164.44 267.23L164.5 268.35L164.56 268.48L164.62 266.73L164.68 267.64L164.74 269.41L164.8 267.41L164.86 265.9L164.92 266.42L164.98 265.05L165.04 266.38L165.1 267.07L165.16 265.03L165.22 266.01L165.28 267.95L165.34 264.1L165.4 261.52L165.46 264.46L165.52 266.1L165.58 266.69L165.64 270.39L165.7 267.2L165.76 267.23L165.82 267.49L165.88 268.31L165.94 269.69L166 269.38L166.06 272.14L166.12 270.01L166.18 271.94L166.24 270.7L166.3 271.43L166.36 269.02L166.42 271.06L166.48 271.46L166.54 271.56L166.6 269.34L166.66 273.73L166.72 272.36L166.78 272.62L166.84 273.2L166.9 273.56L166.96 274.75L167.02 272.82L167.08 273.6L167.14 275.5L167.2 275.48L167.26 274.95L167.32 274.86L167.38 274.69L167.44 275.92L167.5 277.79L167.56 274.92L167.62 278.62L167.68 277.88L167.74 276.29L167.8 278.08L167.86 274.98L167.92 274.59L167.98 275.16L168.04 276.33L168.1 283.12L168.16 276.13L168.22 276.94L168.28 273.86L168.34 277.42L168.4 274.77L168.46 275.78L168.52 276.09L168.58 275.04L168.64 274.72L168.7 275.19L168.76 276.51L168.82 277.3L168.88 277.24L168.94 275.09L169 275.33L169.06 275.13L169.12 276.96L169.18 273.55L169.24 277.98L169.3 283.12L169.36 275.16L169.42 276.66L169.48 277.58L169.54 276.61L169.6 277.54L169.66 276.26L169.72 277.72L169.78 277.71L169.84 275.93L169.9 278.11L169.96 276.47L170.02 276.45L170.08 275.17L170.14 276.12L170.2 277.66L170.26 274.9L170.32 277.67L170.38 277.35L170.44 277.34L170.5 273.94L170.56 276.64L170.62 280.09L170.68 275.38L170.74 276.36L170.8 272.82L170.86 276.79L170.92 274.8L170.98 276.7L171.04 272.84L171.1 276.09L171.16 274.65L171.22 275.87L171.28 277.41L171.34 273.56L171.4 277.23L171.46 272.9L171.52 272.87L171.58 273.26L171.64 272.06L171.7 274.84L171.76 275.36L171.82 271.92L171.88 270.36L171.94 274.04L172 273.77L172.06 273.36L172.12 273.77L172.18 271.04L172.24 271.94L172.3 270.29L172.36 270.22L172.42 273.39L172.48 271.15L172.54 275.06L172.6 272.09L172.66 271.1L172.72 273.05L172.78 274.44L172.84 272.73L172.9 270.51L172.96 268.87L173.02 265.24L173.08 268.97L173.14 271.29L173.2 273.73L173.26 272.61L173.32 276.71L173.38 272.01L173.44 271.56L173.5 273.01L173.56 272.88L173.62 274.43L173.68 273.99L173.74 271.09L173.8 273.88L173.86 274.69L173.92 274.25L173.98 275.17L174.04 276.61L174.1 272.81L174.16 275.49L174.22 273.02L174.28 271.84L174.34 276.45L174.4 274.38L174.46 275.25L174.52 274.06L174.58 274.46L174.64 274.99L174.7 276.37L174.76 277.67L174.82 274.32L174.88 281.44L174.94 275.49L175 275.17L175.06 277.07L175.12 275.57L175.18 273.11L175.24 277.2L175.3 273.06L175.36 274.08L175.42 273.37L175.48 274.31L175.54 271.14L175.6 272.4L175.66 269.4L175.72 271.18L175.78 268.02L175.84 267.86L175.9 270.22L175.96 267.74L176.02 267.05L176.08 269.39L176.14 266.53L176.2 264.59L176.26 266.17L176.32 263.28L176.38 265.83L176.44 265.51L176.5 262.81L176.56 262.32L176.62 262.86L176.68 262.17L176.74 260.44L176.8 261.91L176.86 258.14L176.92 262.7L176.98 259.24L177.04 258.93L177.1 259.17L177.16 256.78L177.22 258.56L177.28 257.05L177.34 255.9L177.4 254.45L177.46 254.11L177.52 255.43L177.58 253.24L177.64 253.92L177.7 254.56L177.76 253.95L177.82 254.02L177.88 251.21L177.94 250.13L178 252.83L178.06 252.15L178.12 253.3L178.18 252.12L178.24 253.72L178.3 253.47L178.36 253.48L178.42 253.39L178.48 253.43L178.54 253.4L178.6 253.56L178.66 254.66L178.72 253L178.78 255.7L178.84 253.25L178.9 254.36L178.96 252.85L179.02 252.45L179.08 254.99L179.14 251.95L179.2 250.57L179.26 251.04L179.32 251.31L179.38 254.08L179.44 251.69L179.5 252.93L179.56 254.13L179.62 252.95L179.68 253.69L179.74 255.43L179.8 252.75L179.86 254.7L179.92 258.15L179.98 252.65L180.04 253.3L180.1 252.43L180.16 249.37L180.22 252.33L180.28 251.69L180.34 249.94L180.4 248.3L180.46 251.09L180.52 249.07L180.58 249.39L180.64 249.44L180.7 246.86L180.76 248.13L180.82 246.59L180.88 246.5L180.94 246.17L181 245.97L181.06 246.97L181.12 245.52L181.18 244.89L181.24 244.45L181.3 244.92L181.36 243.33L181.42 243.64L181.48 244.01L181.54 243.27L181.6 243.63L181.66 242.92L181.72 245.79L181.78 244.86L181.84 243.69L181.9 242.96L181.96 245.43L182.02 243.42L182.08 243.1L182.14 243.7L182.2 243.86L182.26 245.28L182.32 243.78L182.38 246.39L182.44 243.08L182.5 245.06L182.56 243.24L182.62 246.67L182.68 244.36L182.74 244.88L182.8 246.22L182.86 246.81L182.92 244.25L182.98 245.34L183.04 244.31L183.1 246.31L183.16 249.04L183.22 245.26L183.28 244.45L183.34 244.38L183.4 243.54L183.46 244.6L183.52 245.32L183.58 240.92L183.64 242.59L183.7 241.83L183.76 242.45L183.82 240.43L183.88 241.25L183.94 240.14L184 242.03L184.06 241.25L184.12 240.85L184.18 241.36L184.24 240.56L184.3 238.98L184.36 241.33L184.42 240.89L184.48 240.29L184.54 241.49L184.6 241.66L184.66 238.92L184.72 239.06L184.78 241.49L184.84 241.13L184.9 238.47L184.96 237.75L185.02 238.15L185.08 238.1L185.14 236.66L185.2 238.27L185.26 236.58L185.32 236.44L185.38 238.62L185.44 236.61L185.5 237.08L185.56 237.65L185.62 237.64L185.68 236.25L185.74 236.75L185.8 235.86L185.86 238.81L185.92 237.66L185.98 235.78L186.04 237.09L186.1 237.97L186.16 237.78L186.22 239.37L186.28 238.94L186.34 236.87L186.4 237.05L186.46 235.38L186.52 236.76L186.58 236.31L186.64 238.82L186.7 235.58L186.76 232.82L186.82 234.06L186.88 234.59L186.94 232.66L187 232.44L187.06 232.35L187.12 232.47L187.18 231.27L187.24 229.83L187.3 231L187.36 228.92L187.42 228.31L187.48 226.72L187.54 226.99L187.6 228.33L187.66 225.72L187.72 227.17L187.78 227.82L187.84 226.46L187.9 226.93L187.96 225.3L188.02 227.68L188.08 227.26L188.14 226.15L188.2 223.86L188.26 224.41L188.32 226.36L188.38 227.13L188.44 225.78L188.5 226.94L188.56 225.13L188.62 225.72L188.68 226.07L188.74 226.67L188.8 224.75L188.86 227.52L188.92 228.08L188.98 225.6L189.04 225.44L189.1 227.08L189.16 225.85L189.22 223.86L189.28 227.07L189.34 226.2L189.4 225.37L189.46 227.94L189.52 225.68L189.58 224.57L189.64 225.3L189.7 223.93L189.76 224.06L189.82 225.1L189.88 223.93L189.94 223.8L190 225.78L190.06 224.69L190.12 224.39L190.18 223.86L190.24 223.57L190.3 224.35L190.36 222.57L190.42 224.28L190.48 221.12L190.54 221.6L190.6 220.2L190.66 221.03L190.72 221.66L190.78 222.26L190.84 219.72L190.9 220.05L190.96 219.32L191.02 218.57L191.08 217.75L191.14 218.66L191.2 216.48L191.26 217.99L191.32 217.54L191.38 216.49L191.44 218.57L191.5 215.5L191.56 218.67L191.62 215.3L191.68 218.11L191.74 217.03L191.8 215.93L191.86 215.01L191.92 217.11L191.98 217.68L192.04 214.88L192.1 215.4L192.16 219.34L192.22 215.8L192.28 217.37L192.34 214.7L192.4 215.73L192.46 213.84L192.52 217.11L192.58 214.18L192.64 212.61L192.7 214.61L192.76 214.5L192.82 216.47L192.88 214.12L192.94 214.43L193 215.05L193.06 216.07L193.12 214.44L193.18 215.56L193.24 217.54L193.3 214.26L193.36 214.66L193.42 214.63L193.48 213.7L193.54 215.85L193.6 213.27L193.66 215.85L193.72 215.65L193.78 214.63L193.84 213.97L193.9 214.53L193.96 215.15L194.02 215.3L194.08 214.72L194.14 215.31L194.2 213.64L194.26 214.31L194.32 212.39L194.38 214.6L194.44 213.87L194.5 213.18L194.56 214.63L194.62 214.04L194.68 210.44L194.74 213.16L194.8 211.53L194.86 213.89L194.92 215.16L194.98 212.03L195.04 212.48L195.1 212.01L195.16 212.46L195.22 212.61L195.28 213.1L195.34 210.71L195.4 213.09L195.46 210.48L195.52 211.52L195.58 212.25L195.64 211.79L195.7 210.22L195.76 210.51L195.82 210.81L195.88 211.27L195.94 212.51L196 210.17L196.06 211.96L196.12 212.17L196.18 212.17L196.24 212.14L196.3 213.25L196.36 212.31L196.42 212.76L196.48 212.55L196.54 213.84L196.6 210.27L196.66 213.5L196.72 212.05L196.78 212.11L196.84 211.51L196.9 210.7L196.96 212.25L197.02 212.03L197.08 213.28L197.14 211.41L197.2 214.37L197.26 213.3L197.32 212.81L197.38 212.33L197.44 212.22L197.5 211.85L197.56 212.4L197.62 212.92L197.68 212.7L197.74 211.45L197.8 212.56L197.86 211.9L197.92 212.92L197.98 214.61L198.04 213.5L198.1 212.69L198.16 211.51L198.22 211.84L198.28 211.69L198.34 214.21L198.4 212.84L198.46 213.79L198.52 213.22L198.58 214.06L198.64 215.49L198.7 213.13L198.76 213.2L198.82 212.45L198.88 213.84L198.94 211.68L199 211.29L199.06 210.76L199.12 210.46L199.18 211.97L199.24 213.64L199.3 209.73L199.36 211.24L199.42 210.15L199.48 208.43L199.54 208.84L199.6 208.48L199.66 207.68L199.72 210.3L199.78 206.65L199.84 208.94L199.9 208.96L199.96 208.15L200.02 208.93L200.08 209.71L200.14 209.08L200.2 209.41L200.26 209.75L200.32 207.17L200.38 210.66L200.44 211.51L200.5 210.31L200.56 210.19L200.62 207.68L200.68 208.79L200.74 207.96L200.8 208.03L200.86 209.39L200.92 207.52L200.98 208.03L201.04 206.15L201.1 207.7L201.16 207.79L201.22 206.93L201.28 206.84L201.34 209.29L201.4 206.23L201.46 206.31L201.52 206.47L201.58 208.34L201.64 209.13L201.7 207.36L201.76 206.27L201.82 206.48L201.88 207.84L201.94 205.87L202 208.07L202.06 207.97L202.12 206.62L202.18 207.11L202.24 207.15L202.3 207.86L202.36 205.3L202.42 207.83L202.48 205.83L202.54 205.39L202.6 206.17L202.66 205.81L202.72 205.16L202.78 204.83L202.84 205.72L202.9 208.28L202.96 209.03L203.02 208.03L203.08 208.81L203.14 207.42L203.2 208.11L203.26 208.72L203.32 207.71L203.38 208.94L203.44 211.16L203.5 211.89L203.56 212.3L203.62 214.89L203.68 215.39L203.74 217.2L203.8 216.27L203.86 216.06L203.92 216.59L203.98 216.39L204.04 215.98L204.1 216.35L204.16 217.61L204.22 217.6L204.28 218.38L204.34 215.89L204.4 217.75L204.46 218.27L204.52 219.41L204.58 219.3L204.64 219.78L204.7 221.52L204.76 221.04L204.82 219.8L204.88 222.53L204.94 222.32L205 220.84L205.06 222.45L205.12 220.97L205.18 223.05L205.24 221.71L205.3 221.1L205.36 221.55L205.42 221.14L205.48 222.13L205.54 222.12L205.6 221.97L205.66 221.36L205.72 218.13L205.78 222.03L205.84 219.97L205.9 222.3L205.96 223.55L206.02 222.99L206.08 222.62L206.14 223.17L206.2 223.54L206.26 223.43L206.32 223.72L206.38 223.69L206.44 226.24L206.5 225.06L206.56 227.68L206.62 224.53L206.68 224.73L206.74 224.34L206.8 224.86L206.86 225.1L206.92 224.35L206.98 223.25L207.04 223L207.1 225.41L207.16 223.24L207.22 223.09L207.28 224.79L207.34 224.25L207.4 223.56L207.46 222.51L207.52 225.31L207.58 223.19L207.64 223.28L207.7 222.46L207.76 221.09L207.82 221.1L207.88 222.85L207.94 222.76L208 222.03L208.06 220.99L208.12 220.64L208.18 221.72L208.24 220.65L208.3 223.64L208.36 224.45L208.42 226.75L208.48 225.25L208.54 224.24L208.6 224.49L208.66 222.29L208.72 225.86L208.78 226.84L208.84 228.61L208.9 228.77L208.96 229.29L209.02 229.42L209.08 230.42L209.14 231.67L209.2 229.36L209.26 230.42L209.32 229.81L209.38 233.49L209.44 233.55L209.5 233.36L209.56 231.62L209.62 233.53L209.68 233.49L209.74 234.24L209.8 234.35L209.86 235.54L209.92 234.93L209.98 236.48L210.04 235.87L210.1 235.34L210.16 235.61L210.22 235.31L210.28 236.77L210.34 235.63L210.4 236.32L210.46 235.62L210.52 234.47L210.58 237.2L210.64 235.08L210.7 237.08L210.76 237.97L210.82 234.6L210.88 235.42L210.94 235.76L211 235.28L211.06 234.73L211.12 236.73L211.18 235.5L211.24 236.06L211.3 235.01L211.36 235.69L211.42 234.38L211.48 235.22L211.54 235.96L211.6 235.43L211.66 234.94L211.72 234.3L211.78 235.76L211.84 236.02L211.9 235.42L211.96 234.92L212.02 231.92L212.08 227.51L212.14 232.06L212.2 236.41L212.26 236.52L212.32 233.31L212.38 236.37L212.44 235.51L212.5 237.96L212.56 236.3L212.62 235.88L212.68 236.67L212.74 237.26L212.8 236.61L212.86 237.34L212.92 236.05L212.98 237.48L213.04 238.77L213.1 240.28L213.16 239.02L213.22 238.7L213.28 239.89L213.34 239.85L213.4 240.73L213.46 240.22L213.52 239.01L213.58 239.59L213.64 239.64L213.7 239.93L213.76 239.96L213.82 238.99L213.88 237.49L213.94 239.12L214 237.58L214.06 239.96L214.12 239.89L214.18 237.98L214.24 240.66L214.3 240.87L214.36 239.99L214.42 241.78L214.48 242.01L214.54 238.51L214.6 241.06L214.66 240.38L214.72 240.36L214.78 240.97L214.84 239.13L214.9 239.32L214.96 239.1L215.02 239.22L215.08 236.57L215.14 232.57L215.2 236.65L215.26 240.91L215.32 240.22L215.38 240.78L215.44 238.24L215.5 239.54L215.56 239.84L215.62 240.55L215.68 239.89L215.74 241.56L215.8 240.38L215.86 240.41L215.92 240.35L215.98 241.09L216.04 239.69L216.1 241.45L216.16 240.64L216.22 240.24L216.28 240.06L216.34 240.54L216.4 241.05L216.46 240.92L216.52 240.22L216.58 240.73L216.64 239.73L216.7 240.83L216.76 239.19L216.82 236.69L216.88 240.36L216.94 238.78L217 237.15L217.06 238.05L217.12 235.1L217.18 231.56L217.24 234.72L217.3 235.76L217.36 237.95L217.42 236.7L217.48 239.1L217.54 235.59L217.6 234.07L217.66 236.46L217.72 235.81L217.78 235.55L217.84 233.43L217.9 236.08L217.96 237.26L218.02 233.08L218.08 236.29L218.14 234.15L218.2 237.18L218.26 234.86L218.32 233.96L218.38 235.18L218.44 234.34L218.5 232.9L218.56 234.19L218.62 232.73L218.68 231.21L218.74 235.28L218.8 232.55L218.86 232.14L218.92 233.06L218.98 230.86L219.04 230.97L219.1 231.78L219.16 231.64L219.22 232.27L219.28 233.52L219.34 231.87L219.4 233.02L219.46 230.12L219.52 227.51L219.58 230.31L219.64 231.83L219.7 234.13L219.76 233.56L219.82 233.17L219.88 231.78L219.94 233.47L220 232.6L220.06 234.2L220.12 235.76L220.18 232.14L220.24 233.86L220.3 233.44L220.36 231.81L220.42 233.54L220.48 231.75L220.54 231.54L220.6 231.82L220.66 230.68L220.72 230.82L220.78 230.94L220.84 232.58L220.9 232.54L220.96 230.96L221.02 233.33L221.08 231.86L221.14 232.65L221.2 233.53L221.26 233.21L221.32 235.88L221.38 233.82L221.44 232.57L221.5 235.66L221.56 234.04L221.62 233.93L221.68 230.75L221.74 234.93L221.8 234.51L221.86 234.27L221.92 237.3L221.98 234.8L222.04 232.68L222.1 233.53L222.16 231.47L222.22 231.68L222.28 233L222.34 232.05L222.4 229.96L222.46 231.58L222.52 230.77L222.58 229.95L222.64 231.5L222.7 230.78L222.76 229.71L222.82 229.39L222.88 227.18L222.94 229.78L223 232.43L223.06 233.04L223.12 233.27L223.18 231.42L223.24 232.6L223.3 233.3L223.36 234.22L223.42 232.8L223.48 232.27L223.54 234.71L223.6 234.87L223.66 234.11L223.72 233.08L223.78 234.24L223.84 233.96L223.9 234.81L223.96 232.56L224.02 234.12L224.08 233.86L224.14 232.86L224.2 234.37L224.26 234.19L224.32 233.49L224.38 234.17L224.44 231.96L224.5 233.25L224.56 233.58L224.62 233.2L224.68 233.86L224.74 231.16L224.8 230.61L224.86 232.31L224.92 232.34L224.98 233.94L225.04 232.09L225.1 230.26L225.16 231.88L225.22 229.87L225.28 228.93L225.34 232.95L225.4 230.08L225.46 230.09L225.52 231.24L225.58 230.45L225.64 228.41L225.7 229L225.76 226.2L225.82 225.4L225.88 228L225.94 227.64L226 227.04L226.06 227.18L226.12 227.55L226.18 227.08L226.24 229.91L226.3 229.4L226.36 229.68L226.42 229.98L226.48 230.93L226.54 230.36L226.6 230.65L226.66 228.6L226.72 230.44L226.78 232.28L226.84 229.38L226.9 229.82L226.96 230.95L227.02 231.05L227.08 230.71L227.14 228.31L227.2 230.63L227.26 228.83L227.32 232.24L227.38 230.57L227.44 229.56L227.5 230.66L227.56 233.09L227.62 230.43L227.68 230.28L227.74 228.44L227.8 228.61L227.86 228.06L227.92 228.54L227.98 227.84L228.04 228.21L228.1 228.6L228.16 227.8L228.22 227.62L228.28 227.95L228.34 230.18L228.4 230.03L228.46 231.34L228.52 231.63L228.58 230.4L228.64 231.77L228.7 229.75L228.76 234.07L228.82 233.16L228.88 231.89L228.94 231.12L229 233.08L229.06 234.71L229.12 232.35L229.18 234.3L229.24 233.83L229.3 233.47L229.36 235.34L229.42 233.41L229.48 235.14L229.54 234.56L229.6 234.45L229.66 236.19L229.72 234.86L229.78 238.37L229.84 235.88L229.9 239.04L229.96 235.87L230.02 238.06L230.08 236.32L230.14 236.51L230.2 238.55L230.26 239.48L230.32 237.62L230.38 240.76L230.44 238.86L230.5 240.26L230.56 240.89L230.62 241.49L230.68 239.1L230.74 243.36L230.8 242.5L230.86 241.71L230.92 241.37L230.98 240.59L231.04 240.97L231.1 243.16L231.16 242.13L231.22 241.22L231.28 241.91L231.34 244.31L231.4 242.12L231.46 241.82L231.52 244.04L231.58 243.01L231.64 242.53L231.7 241.89L231.76 241.14L231.82 241.92L231.88 243.06L231.94 243.7L232 244.71L232.06 245.28L232.12 242.22L232.18 239.51L232.24 242.9L232.3 242.54L232.36 238.99L232.42 243.22L232.48 246.25L232.54 247.03L232.6 246.23L232.66 246.73L232.72 250.23L232.78 248.56L232.84 247.78L232.9 249.29L232.96 248.57L233.02 247.76L233.08 249.16L233.14 251.48L233.2 248.58L233.26 252.1L233.32 245.94L233.38 241.88L233.44 246.22L233.5 252.48L233.56 250.34L233.62 250.04L233.68 250.2L233.74 251.34L233.8 250.82L233.86 250.68L233.92 252.65L233.98 250.48L234.04 250.34L234.1 252.79L234.16 252.92L234.22 253.63L234.28 251.26L234.34 247.01L234.4 240.53L234.46 247.49L234.52 252L234.58 254.02L234.64 253.66L234.7 258.07L234.76 253.33L234.82 255.44L234.88 253.36L234.94 252.91L235 254.71L235.06 254.72L235.12 254.58L235.18 252.28L235.24 253.03L235.3 254.22L235.36 249.48L235.42 245.59L235.48 249.21L235.54 254.31L235.6 250.89L235.66 249.01L235.72 250.25L235.78 250.65L235.84 251.56L235.9 252.32L235.96 250.92L236.02 249.78L236.08 250.32L236.14 248.51L236.2 249.12L236.26 247.93L236.32 251.39L236.38 248.7L236.44 246.64L236.5 246.6L236.56 247.4L236.62 246.12L236.68 247.34L236.74 247.48L236.8 249.54L236.86 248.13L236.92 247.84L236.98 247.33L237.04 247.67L237.1 249.14L237.16 249.1L237.22 250.85L237.28 248.95L237.34 251.2L237.4 250.49L237.46 250.41L237.52 248.25L237.58 249.35L237.64 252.03L237.7 253.06L237.76 251.87L237.82 252.78L237.88 251.61L237.94 254.53L238 250.86L238.06 252.35L238.12 251.1L238.18 249.93L238.24 249.34L238.3 249.91L238.36 249.15L238.42 247.3L238.48 249.84L238.54 247.63L238.6 246.86L238.66 248.15L238.72 247.18L238.78 245.45L238.84 245.74L238.9 241.12L238.96 236.64L239.02 240.25L239.08 244.8L239.14 240.77L239.2 243.31L239.26 241.14L239.32 240.54L239.38 241L239.44 241.1L239.5 241.87L239.56 243.6L239.62 242.39L239.68 243.39L239.74 242.09L239.8 244L239.86 243.75L239.92 243.44L239.98 244.24L240.04 244.64L240.1 245.3L240.16 245.91L240.22 245.2L240.28 245.29L240.34 247.4L240.4 244.88L240.46 246.51L240.52 249.43L240.58 244.76L240.64 247.48L240.7 249.42L240.76 246.94L240.82 252.3L240.88 246.42L240.94 251.69L241 251.97L241.06 251.5L241.12 250.44L241.18 251.44L241.24 250.23L241.3 253.18L241.36 250.03L241.42 250.83L241.48 252.14L241.54 249.39L241.6 250.07L241.66 250.49L241.72 248.47L241.78 251.25L241.84 250.05L241.9 247.62L241.96 249.15L242.02 248.07L242.08 248L242.14 248.65L242.2 247.86L242.26 250L242.32 248.17L242.38 250.32L242.44 249.25L242.5 250.47L242.56 248.96L242.62 249.15L242.68 248.53L242.74 250.74L242.8 251.33L242.86 252.47L242.92 251.06L242.98 249.4L243.04 248.43L243.1 248.72L243.16 247.81L243.22 249.14L243.28 248.11L243.34 245.59L243.4 245.35L243.46 247.33L243.52 245.85L243.58 245.17L243.64 246.78L243.7 244.9L243.76 241.2L243.82 236.47L243.88 241.11L243.94 246.16L244 243.7L244.06 244.4L244.12 244.14L244.18 245.81L244.24 244.83L244.3 244.88L244.36 242.96L244.42 244.99L244.48 243.55L244.54 245.81L244.6 246.06L244.66 245.79L244.72 248.39L244.78 246.79L244.84 247.05L244.9 246.7L244.96 246.49L245.02 247.95L245.08 247.81L245.14 244.69L245.2 247.15L245.26 246.22L245.32 246.44L245.38 245.56L245.44 243.27L245.5 243.05L245.56 246.23L245.62 244.11L245.68 241.87L245.74 244.14L245.8 243.58L245.86 242.13L245.92 241.88L245.98 242.95L246.04 245.4L246.1 245.3L246.16 245.33L246.22 246.23L246.28 246.87L246.34 243.97L246.4 246.27L246.46 245.79L246.52 245.46L246.58 246.41L246.64 247.06L246.7 247.03L246.76 245.77L246.82 247.06L246.88 250.16L246.94 246.67L247 246.07L247.06 248.54L247.12 249.06L247.18 249.05L247.24 247.1L247.3 249.39L247.36 247.06L247.42 246.44L247.48 246.84L247.54 247.22L247.6 247.97L247.66 247.65L247.72 246.67L247.78 247.57L247.84 246.36L247.9 247.1L247.96 244.19L248.02 243.77L248.08 245.02L248.14 244.66L248.2 246.44L248.26 247.18L248.32 247.23L248.38 247.77L248.44 250.47L248.5 253.25L248.56 250.88L248.62 253.07L248.68 250.86L248.74 251.31L248.8 252.72L248.86 254.56L248.92 255.71L248.98 252.4L249.04 251.85L249.1 252.53L249.16 251.84L249.22 252.22L249.28 250.7L249.34 251.05L249.4 249.97L249.46 249.77L249.52 250.18L249.58 249.96L249.64 248.51L249.7 251.57L249.76 249.41L249.82 247.92L249.88 250.88L249.94 248.68L250 250.18L250.06 249.55L250.12 249.87L250.18 249.77L250.24 248.88L250.3 249.62L250.36 251.99L250.42 246.9L250.48 249.65L250.54 250.09L250.6 248.32L250.66 247.94L250.72 252.14L250.78 249.12L250.84 252.02L250.9 250.16L250.96 249.59L251.02 250.05L251.08 250.22L251.14 250.84L251.2 249.94L251.26 249.57L251.32 249.59L251.38 250.97L251.44 250.31L251.5 248.13L251.56 248.54L251.62 249.67L251.68 248.52L251.74 248.79L251.8 248.49L251.86 249.92L251.92 251.34L251.98 252.63L252.04 252.04L252.1 255.15L252.16 253.14L252.22 257.72L252.28 256.73L252.34 254.42L252.4 252.8L252.46 246.36L252.52 238.16L252.58 245.56L252.64 254.12L252.7 249.75L252.76 253.29L252.82 250.71L252.88 252.01L252.94 248.2L253 251.54L253.06 251.08L253.12 252.44L253.18 247.4L253.24 242.55L253.3 247.64L253.36 252.94L253.42 252.94L253.48 253.56L253.54 253.79L253.6 252.55L253.66 251.44L253.72 252.07L253.78 256.06L253.84 255.94L253.9 255.86L253.96 255.86L254.02 257.1L254.08 257.75L254.14 257.96L254.2 258.17L254.26 262.41L254.32 260.36L254.38 259.37L254.44 258.56L254.5 259.34L254.56 261.22L254.62 261.33L254.68 260.16L254.74 260.56L254.8 260.17L254.86 259.22L254.92 262.32L254.98 261.21L255.04 263.92L255.1 259.9L255.16 260.74L255.22 262.09L255.28 263.31L255.34 259.31L255.4 259.86L255.46 261.19L255.52 261.49L255.58 260.94L255.64 262.33L255.7 262.31L255.76 261.47L255.82 261.09L255.88 260.74L255.94 258.5L256 255.71L256.06 258.5L256.12 261.63L256.18 260.65L256.24 259.28L256.3 259.8L256.36 262.03L256.42 261.63L256.48 263.67L256.54 261.13L256.6 262.15L256.66 262.73L256.72 262.32L256.78 260.29L256.84 260.83L256.9 261.22L256.96 259.82L257.02 268.88L257.08 262.35L257.14 260.45L257.2 263.55L257.26 260.69L257.32 260.8L257.38 260.76L257.44 260.17L257.5 261.59L257.56 261.09L257.62 263.16L257.68 261.83L257.74 261.74L257.8 260.78L257.86 268.88L257.92 260.95L257.98 259.99L258.04 262.26L258.1 256.98L258.16 252.34L258.22 256.98L258.28 262.12L258.34 261.35L258.4 261.32L258.46 261.89L258.52 262.25L258.58 260.37L258.64 262.07L258.7 264.95L258.76 261.7L258.82 261.67L258.88 261.29L258.94 260.51L259 264.04L259.06 262.79L259.12 263.27L259.18 265.42L259.24 266.68L259.3 262.76L259.36 265.67L259.42 265.54L259.48 265.67L259.54 266.2L259.6 265.97L259.66 268.48L259.72 267.64L259.78 267.71L259.84 271.57L259.9 268.71L259.96 267.7L260.02 267.1L260.08 268.51L260.14 266.47L260.2 265.26L260.26 263.84L260.32 264.07L260.38 262.73L260.44 263.78L260.5 263.54L260.56 260.17L260.62 262.37L260.68 262.74L260.74 261.83L260.8 260.21L260.86 262.82L260.92 260.14L260.98 259.27L261.04 259.26L261.1 260.4L261.16 261.45L261.22 261.48L261.28 260.08L261.34 258.12L261.4 258.59L261.46 258.09L261.52 258.79L261.58 256.6L261.64 258.75L261.7 259.22L261.76 258.23L261.82 259.07L261.88 257.41L261.94 256.84L262 257.94L262.06 260.26L262.12 260.18L262.18 258.41L262.24 256.6L262.3 254.03L262.36 256.76L262.42 261.44L262.48 258.81L262.54 260.45L262.6 258.57L262.66 258.44L262.72 257.88L262.78 260.1L262.84 259.79L262.9 265.67L262.96 259.5L263.02 261.9L263.08 259.65L263.14 259.35L263.2 261.9L263.26 262.21L263.32 260.92L263.38 258.39L263.44 259.9L263.5 261.51L263.56 260.84L263.62 262.86L263.68 259.25L263.74 261.92L263.8 260.46L263.86 263.13L263.92 261.56L263.98 263.16L264.04 261.24L264.1 260.47L264.16 261.05L264.22 261.89L264.28 261.55L264.34 264.59L264.4 264.97L264.46 263.81L264.52 262.34L264.58 263.71L264.64 263.18L264.7 266.13L264.76 267.86L264.82 265.07L264.88 263.93L264.94 261.86L265 263.45L265.06 263.01L265.12 264.92L265.18 264.56L265.24 263.41L265.3 266.87L265.36 266.45L265.42 263.21L265.48 263.26L265.54 264.15L265.6 263.54L265.66 263.89L265.72 265.12L265.78 266.64L265.84 262.04L265.9 264.2L265.96 264.18L266.02 263.93L266.08 263.7L266.14 263.41L266.2 265.03L266.26 263.06L266.32 263.39L266.38 263.46L266.44 263.5L266.5 263.05L266.56 264.44L266.62 263.06L266.68 263.19L266.74 262.8L266.8 261.49L266.86 261.6L266.92 261.22L266.98 262.7L267.04 257.88L267.1 252.68L267.16 257.68L267.22 262.71L267.28 259.71L267.34 263.98L267.4 253.75L267.46 244.24L267.52 253.54L267.58 261.51L267.64 260.56L267.7 263.99L267.76 259.76L267.82 266.18L267.88 262.31L267.94 260.01L268 261.35L268.06 262.09L268.12 264.76L268.18 260.71L268.24 261.9L268.3 262.91L268.36 262.3L268.42 260.79L268.48 262.96L268.54 262.7L268.6 263.25L268.66 264.24L268.72 264.21L268.78 263.56L268.84 263.65L268.9 262.13L268.96 263.65L269.02 264.38L269.08 263.86L269.14 264.78L269.2 263.88L269.26 267.2L269.32 268.2L269.38 264.76L269.44 265.61L269.5 264.62L269.56 266.38L269.62 265.14L269.68 264.52L269.74 263.96L269.8 264.24L269.86 262.63L269.92 264.61L269.98 262.66L270.04 264.09L270.1 263.41L270.16 264.47L270.22 262.93L270.28 264.14L270.34 261.54L270.4 263.37L270.46 262.19L270.52 262.6L270.58 262.33L270.64 263.3L270.7 259.43L270.76 262.28L270.82 259.86L270.88 263.16L270.94 259.02L271 260.13L271.06 259.16L271.12 263.22L271.18 259.46L271.24 261.37L271.3 260.69L271.36 259.23L271.42 261.21L271.48 262.62L271.54 261.68L271.6 263.25L271.66 261.73L271.72 262.34L271.78 259.51L271.84 256.39L271.9 259.78L271.96 263.34L272.02 263.26L272.08 262.36L272.14 262.32L272.2 265.3L272.26 262.14L272.32 262.53L272.38 263.61L272.44 263.15L272.5 266.14L272.56 260.57L272.62 264.01L272.68 264.41L272.74 262.02L272.8 262.58L272.86 266.18L272.92 265.39L272.98 262.08L273.04 261.2L273.1 264.4L273.16 265.06L273.22 262.65L273.28 260.24L273.34 264.89L273.4 262.77L273.46 264.43L273.52 262.92L273.58 262.48L273.64 262.36L273.7 264.8L273.76 264.73L273.82 260.16L273.88 261.67L273.94 265.1L274 262.35L274.06 261.07L274.12 262.78L274.18 262.62L274.24 262.64L274.3 262.17L274.36 262.41L274.42 262.24L274.48 263.27L274.54 261.83L274.6 262.51L274.66 262.72L274.72 264.59L274.78 263.42L274.84 262.82L274.9 263.67L274.96 263.52L275.02 264.41L275.08 263.69L275.14 265.35L275.2 266.85L275.26 262.95L275.32 262.35L275.38 263.88L275.44 263.3L275.5 262.4L275.56 260.52L275.62 259.95L275.68 262.6L275.74 263.02L275.8 262.94L275.86 260.17L275.92 262.99L275.98 260.88L276.04 261.93L276.1 261.85L276.16 260.19L276.22 260.33L276.28 258.38L276.34 259.76L276.4 258.56L276.46 261.3L276.52 260.75L276.58 261.74L276.64 260.96L276.7 259.63L276.76 260.79L276.82 259.78L276.88 260.96L276.94 260.51L277 258.79L277.06 259.95L277.12 259.94L277.18 259.41L277.24 260.83L277.3 261.34L277.36 258.22L277.42 257.72L277.48 254.85L277.54 256.96L277.6 256.06L277.66 253.42L277.72 255.91L277.78 256.12L277.84 254.63L277.9 255.21L277.96 254.62L278.02 256.89L278.08 254.22L278.14 255.85L278.2 254.34L278.26 252.34L278.32 254.62L278.38 256.61L278.44 255.48L278.5 257.03L278.56 257.72L278.62 256.09L278.68 257.92L278.74 259.18L278.8 259.01L278.86 255.72L278.92 256.47L278.98 255.68L279.04 259.01L279.1 258.44L279.16 258.55L279.22 255.27L279.28 252.68L279.34 255.27L279.4 257.81L279.46 256.62L279.52 257.86L279.58 258.48L279.64 257.96L279.7 256.39L279.76 255.06L279.82 257.36L279.88 257.88L279.94 257.36L280 257.38L280.06 257.3L280.12 259.29L280.18 258.57L280.24 259.03L280.3 257.9L280.36 258.58L280.42 259.8L280.48 258.58L280.54 258.5L280.6 259.9L280.66 262.05L280.72 260.99L280.78 262.8L280.84 261L280.9 260.99L280.96 259.83L281.02 261.07L281.08 263.83L281.14 262.64L281.2 263.36L281.26 263.54L281.32 262.99L281.38 263.26L281.44 264.19L281.5 265.42L281.56 265.67L281.62 266.24L281.68 266.32L281.74 265.64L281.8 266.81L281.86 266.21L281.92 269.03L281.98 265.25L282.04 267.99L282.1 271.69L282.16 268.39L282.22 267.63L282.28 272.42L282.34 270.94L282.4 268.58L282.46 269.14L282.52 268.02L282.58 266.95L282.64 271.08L282.7 266.63L282.76 265.39L282.82 265L282.88 265.67L282.94 265.26L283 265.15L283.06 263.54L283.12 260.74L283.18 262.43L283.24 260.57L283.3 259.8L283.36 257.5L283.42 257.84L283.48 256.85L283.54 257.64L283.6 255.88L283.66 250.26L283.72 241.54L283.78 250.26L283.84 256.91L283.9 256.62L283.96 258.81L284.02 254.54L284.08 257.25L284.14 255.62L284.2 257.19L284.26 258.85L284.32 257.09L284.38 258.12L284.44 256.97L284.5 260.5L284.56 259.3L284.62 259.64L284.68 256.65L284.74 257.01L284.8 259.8L284.86 258.28L284.92 258.27L284.98 259.08L285.04 257.12L285.1 259.64L285.16 258.69L285.22 259.25L285.28 257.8L285.34 259.27L285.4 257.74L285.46 259.79L285.52 260L285.58 259.72L285.64 259.21L285.7 259.35L285.76 255.17L285.82 259.57L285.88 258.18L285.94 255.73L286 252.68L286.06 255.71L286.12 257.8L286.18 259.28L286.24 260.21L286.3 257.66L286.36 257.3L286.42 260.22L286.48 257.3L286.54 260.97L286.6 258.44L286.66 257.26L286.72 259.62L286.78 260.57L286.84 256.75L286.9 260.55L286.96 258.33L287.02 260.61L287.08 258.35L287.14 256.93L287.2 259.6L287.26 260.2L287.32 261.73L287.38 261.34L287.44 260.13L287.5 259.03L287.56 258.99L287.62 259.95L287.68 259.94L287.74 261.31L287.8 259.1L287.86 263.23L287.92 263.63L287.98 267.63L288.04 265.82L288.1 264.31L288.16 265.74L288.22 263.52L288.28 263.72L288.34 262.87L288.4 261.59L288.46 257.32L288.52 255.45L288.58 257.5L288.64 262.41L288.7 264.54L288.76 264.58L288.82 264.73L288.88 265.24L288.94 266.28L289 267.38L289.06 265.13L289.12 264.77L289.18 267.73L289.24 265.06L289.3 267.69L289.36 266.63L289.42 267.47L289.48 268.61L289.54 267.27L289.6 267.4L289.66 265.23L289.72 265.53L289.78 267.29L289.84 268.47L289.9 268.3L289.96 269.52L290.02 266.94L290.08 266.81L290.14 267.85L290.2 266.57L290.26 266.46L290.32 265.19L290.38 267.83L290.44 265.15L290.5 267.21L290.56 264.7L290.62 267.97L290.68 265.21L290.74 267.64L290.8 264.48L290.86 269.96L290.92 268.04L290.98 265.43L291.04 266.52L291.1 265.77L291.16 263.36L291.22 264.12L291.28 262.72L291.34 256.77L291.4 254.44L291.46 256.69L291.52 261.42L291.58 263.64L291.64 265.15L291.7 265.58L291.76 263.94L291.82 266.87L291.88 267.15L291.94 263.44L292 263.9L292.06 267.02L292.12 265.81L292.18 267.07L292.24 268.2L292.3 266.38L292.36 265.63L292.42 272.32L292.48 267.56L292.54 266.23L292.6 267.99L292.66 268.03L292.72 266.07L292.78 270.13L292.84 269.27L292.9 268.95L292.96 266.27L293.02 267.27L293.08 267.06L293.14 267.22L293.2 266.27L293.26 268.29L293.32 268L293.38 268.16L293.44 267L293.5 269.32L293.56 267.86L293.62 264.03L293.68 266.74L293.74 267.48L293.8 269.2L293.86 267.94L293.92 268.39L293.98 268.24L294.04 270.38L294.1 269.3L294.16 269.48L294.22 269.69L294.28 271.8L294.34 270.75L294.4 269.61L294.46 272.89L294.52 271.28L294.58 272.84L294.64 273.01L294.7 274.27L294.76 274.21L294.82 272.19L294.88 272.89L294.94 271.53L295 275.66L295.06 274.16L295.12 275.56L295.18 273.35L295.24 271.12L295.3 276.04L295.36 274.2L295.42 274.35L295.48 274.34L295.54 275.23L295.6 275.18L295.66 272.41L295.72 276.12L295.78 274.03L295.84 274.21L295.9 277.27L295.96 278.74L296.02 274.47L296.08 272.37L296.14 275.05L296.2 275.51L296.26 274.62L296.32 273L296.38 273.57L296.44 272.89L296.5 274.83L296.56 275.6L296.62 275.83L296.68 273.41L296.74 274.67L296.8 278.4L296.86 273.26L296.92 273.48L296.98 276.26L297.04 273.42L297.1 274.05L297.16 272.02L297.22 272.39L297.28 269.77L297.34 271.76L297.4 273.1L297.46 274.06L297.52 272.84L297.58 272.15L297.64 271.28L297.7 270.4L297.76 270.96L297.82 271.97L297.88 270.09L297.94 272.35L298 269.79L298.06 268.71L298.12 269.71L298.18 268.82L298.24 269.19L298.3 272.49L298.36 270.71L298.42 271.24L298.48 272.48L298.54 272.66L298.6 270.36L298.66 272.83L298.72 271.62L298.78 274.35L298.84 271.77L298.9 269.33L298.96 270.22L299.02 271.16L299.08 272.16L299.14 270.89L299.2 271.26L299.26 272.76L299.32 273.38L299.38 272.57L299.44 273.28L299.5 271.07L299.56 271.18L299.62 271.99L299.68 271.15L299.74 270.85L299.8 273.7L299.86 271.22L299.92 270.18L299.98 272.09L300.04 273.87L300.1 271.51L300.16 274.52L300.22 270.78L300.28 270.69L300.34 270.41L300.4 271.12L300.46 273.73L300.52 269.7L300.58 273.31L300.64 269.7L300.7 270.63L300.76 271.95L300.82 271.58L300.88 271.03L300.94 268.37L301 274.01L301.06 269.01L301.12 273.66L301.18 269.89L301.24 270.33L301.3 268.47L301.36 269.11L301.42 268.02L301.48 268.46L301.54 267.23L301.6 263.67L301.66 262.2L301.72 263.39L301.78 265.7L301.84 266.82L301.9 266.21L301.96 268.04L302.02 266.78L302.08 267.56L302.14 269.18L302.2 266.81L302.26 268.96L302.32 266.87L302.38 267.24L302.44 267.37L302.5 266.96L302.56 265.79L302.62 264.32L302.68 263.55L302.74 264.2L302.8 265.39L302.86 266.85L302.92 265.43L302.98 265.98L303.04 264.71L303.1 269.71L303.16 266.99L303.22 267.27L303.28 266.21L303.34 268.62L303.4 264.63L303.46 266.37L303.52 265.44L303.58 262.74L303.64 256.69L303.7 254.1L303.76 256.97L303.82 263.85L303.88 266.2L303.94 267.11L304 268.21L304.06 274.01L304.12 269.47L304.18 269.26L304.24 271.19L304.3 270.26L304.36 269.03L304.42 266.17L304.48 270.37L304.54 270.47L304.6 268.3L304.66 266.92L304.72 268.09L304.78 270.85L304.84 268.27L304.9 269.11L304.96 270.04L305.02 271.41L305.08 269.81L305.14 269.74L305.2 269.19L305.26 272.05L305.32 271.26L305.38 269.69L305.44 267.93L305.5 268.69L305.56 270.46L305.62 268.7L305.68 270.79L305.74 270.05L305.8 269.92L305.86 270.35L305.92 273L305.98 268.29L306.04 268.95L306.1 272.41L306.16 267.71L306.22 268.63L306.28 270.53L306.34 268.77L306.4 267.77L306.46 266.96L306.52 269.25L306.58 269.74L306.64 270.09L306.7 268.19L306.76 269.34L306.82 266.48L306.88 267.9L306.94 266.66L307 267.62L307.06 268.23L307.12 268.63L307.18 265.98L307.24 268.94L307.3 266.7L307.36 266.01L307.42 265.82L307.48 265.13L307.54 262.09L307.6 260.85L307.66 262.14L307.72 265.46L307.78 265.71L307.84 266.74L307.9 265.71L307.96 265.5L308.02 261.86L308.08 260.51L308.14 261.91L308.2 265.54L308.26 265.6L308.32 265.73L308.38 266.87L308.44 268.45L308.5 268.33L308.56 269.05L308.62 269.56L308.68 268.43L308.74 267.67L308.8 266.27L308.86 266.3L308.92 266.85L308.98 269.47L309.04 267.58L309.1 267.23L309.16 267.1L309.22 268.2L309.28 266.54L309.34 266.17L309.4 265.27L309.46 262.17L309.52 255.09L309.58 252.07L309.64 255.25L309.7 263.29L309.76 265.59L309.82 266.6L309.88 267.27L309.94 268.06L310 268.77L310.06 266.99L310.12 271.65L310.18 271.04L310.24 270L310.3 269.71L310.36 269.75L310.42 269.22L310.48 270.42L310.54 269.06L310.6 268.8L310.66 269.59L310.72 270.74L310.78 270.08L310.84 270.63L310.9 267.17L310.96 273.68L311.02 272.85L311.08 271.38L311.14 269.06L311.2 268.22L311.26 269.55L311.32 267.75L311.38 269.85L311.44 268.07L311.5 269.87L311.56 270.25L311.62 265.66L311.68 268.56L311.74 267.12L311.8 266.05L311.86 266.89L311.92 267.22L311.98 268.66L312.04 265.14L312.1 268.29L312.16 269.36L312.22 267.32L312.28 267.06L312.34 266.14L312.4 264.45L312.46 266.46L312.52 266.08L312.58 266.33L312.64 268.51L312.7 265.95L312.76 265.38L312.82 266.66L312.88 262.75L312.94 262.83L313 263.63L313.06 263.1L313.12 264.64L313.18 263.17L313.24 265.62L313.3 265.15L313.36 264.23L313.42 262.88L313.48 264.28L313.54 262.82L313.6 262.37L313.66 261.51L313.72 260.56L313.78 255.4L313.84 253.43L313.9 255.64L313.96 261.13L314.02 262.9L314.08 263.3L314.14 264.17L314.2 263.82L314.26 266.24L314.32 265.67L314.38 266.57L314.44 265.28L314.5 263.74L314.56 268.05L314.62 265.7L314.68 267.85L314.74 266.78L314.8 267.24L314.86 268.89L314.92 267.11L314.98 268.64L315.04 265.12L315.1 268.46L315.16 267.3L315.22 267.72L315.28 268.18L315.34 268.91L315.4 270.91L315.46 266.58L315.52 269.29L315.58 268.31L315.64 267.69L315.7 266.65L315.76 262.2L315.82 260.51L315.88 262.2L315.94 266.47L316 267.95L316.06 268.5L316.12 267.38L316.18 269.65L316.24 270.37L316.3 268.52L316.36 270.71L316.42 266.39L316.48 266.56L316.54 267.05L316.6 268.12L316.66 268.66L316.72 268.41L316.78 268.31L316.84 269.22L316.9 267.54L316.96 266.38L317.02 266.29L317.08 270.64L317.14 264.79L317.2 267.62L317.26 269.73L317.32 267.65L317.38 266.71L317.44 265.71L317.5 263.15L317.56 257.59L317.62 255.11L317.68 257.56L317.74 263.18L317.8 265.58L317.86 266.63L317.92 267.15L317.98 265.73L318.04 268.12L318.1 269.91L318.16 268.47L318.22 267.9L318.28 271.01L318.34 266.78L318.4 269.6L318.46 267.94L318.52 269.02L318.58 269.34L318.64 271.49L318.7 273L318.76 269.33L318.82 268.2L318.88 271.22L318.94 270.02L319 271.2L319.06 269.25L319.12 270.22L319.18 272.97L319.24 270.51L319.3 271.59L319.36 271.49L319.42 270.35L319.48 268.77L319.54 272.17L319.6 271.11L319.66 272.21L319.72 268.27L319.78 268.76L319.84 268.13L319.9 269.83L319.96 272.4L320.02 271.79L320.08 271.01L320.14 271.25L320.2 272.1L320.26 270.71L320.32 271.66L320.38 271.34L320.44 268.27L320.5 270.68L320.56 273.02L320.62 270.71L320.68 271.07L320.74 275.7L320.8 270.59L320.86 272.69L320.92 270.8L320.98 269.76L321.04 266.95L321.1 270.28L321.16 268.39L321.22 268.54L321.28 271.97L321.34 271.82L321.4 268.3L321.46 271.92L321.52 271.36L321.58 269.68L321.64 271.65L321.7 268.48L321.76 269.01L321.82 268.77L321.88 269.27L321.94 271.98L322 269.11L322.06 269.42L322.12 269.76L322.18 271.35L322.24 270.71L322.3 272.37L322.36 270.35L322.42 269.65L322.48 270.76L322.54 271.55L322.6 270.33L322.66 272L322.72 274.12L322.78 270.99L322.84 271.89L322.9 273.7L322.96 276.38L323.02 270.61L323.08 270.13L323.14 271.97L323.2 271.98L323.26 270.95L323.32 271.06L323.38 272.55L323.44 271.86L323.5 268.71L323.56 270.41L323.62 270.42L323.68 271.08L323.74 269.69L323.8 268.91L323.86 268.77L323.92 266.65L323.98 268.57L324.04 267.43L324.1 268.44L324.16 266.11L324.22 266.49L324.28 265.4L324.34 264.91L324.4 266.81L324.46 264.92L324.52 265.7L324.58 263.31L324.64 264.62L324.7 262.4L324.76 264.04L324.82 264.08L324.88 264.35L324.94 263.98L325 264.08L325.06 261.85L325.12 261.19L325.18 262.01L325.24 263.59L325.3 264.86L325.36 265.07L325.42 264.92L325.48 265.07L325.54 266.18L325.6 267.19L325.66 267.16L325.72 266.16L325.78 265.59L325.84 267.79L325.9 268.3L325.96 270.51L326.02 269.16L326.08 269.99L326.14 271.83L326.2 270.44L326.26 271.06L326.32 273.75L326.38 273.65L326.44 272.71L326.5 272.43L326.56 270.98L326.62 275.02L326.68 272.34L326.74 272L326.8 270.45L326.86 270.57L326.92 269.78L326.98 269.87L327.04 270.77L327.1 268.81L327.16 265.68L327.22 266.61L327.28 265.85L327.34 266.92L327.4 267.31L327.46 266.31L327.52 266.31L327.58 262.49L327.64 261.19L327.7 262.57L327.76 266.26L327.82 266.88L327.88 267.86L327.94 266.61L328 270.02L328.06 270.17L328.12 268.24L328.18 268.44L328.24 267.91L328.3 268.4L328.36 267.54L328.42 265.04L328.48 264.23L328.54 265.38L328.6 267.84L328.66 269.08L328.72 269.79L328.78 269.62L328.84 273.34L328.9 271.1L328.96 271L329.02 269.75L329.08 273.86L329.14 269.84L329.2 270.1L329.26 271.74L329.32 268.92L329.38 270.56L329.44 269.7L329.5 270.56L329.56 271.79L329.62 272.51L329.68 273.68L329.74 273.4L329.8 274.03L329.86 273.35L329.92 272.06L329.98 274.3L330.04 275.7L330.1 271.73L330.16 274.33L330.22 273.07L330.28 272.05L330.34 272.49L330.4 272.4L330.46 269.16L330.52 270.58L330.58 268.88L330.64 270.33L330.7 269.02L330.76 271.43L330.82 270.06L330.88 268.18L330.94 269.54L331 268.29L331.06 270.26L331.12 271.25L331.18 271.2L331.24 268.61L331.3 271.04L331.36 272.49L331.42 270.84L331.48 269.67L331.54 267.47L331.6 263.49L331.66 250.32L331.72 244.99L331.78 250.32L331.84 263.2L331.9 267.78L331.96 269.96L332.02 270.19L332.08 270L332.14 272.62L332.2 271.8L332.26 269.43L332.32 270.06L332.38 270.81L332.44 272.44L332.5 271.36L332.56 270.63L332.62 266.84L332.68 268.65L332.74 269.21L332.8 269.4L332.86 269.73L332.92 269.18L332.98 272.1L333.04 272.03L333.1 270.26L333.16 269.39L333.22 273.71L333.28 270.55L333.34 273.18L333.4 274.42L333.46 270.67L333.52 272.36L333.58 271.56L333.64 272.75L333.7 272.54L333.76 274.76L333.82 273L333.88 274.69L333.94 273.81L334 271.99L334.06 271.92L334.12 275.44L334.18 271.4L334.24 271.89L334.3 272.53L334.36 270.98L334.42 269.49L334.48 273.64L334.54 271.1L334.6 271.35L334.66 271.49L334.72 270.6L334.78 270.4L334.84 271.96L334.9 274.86L334.96 272.57L335.02 272.5L335.08 269.43L335.14 271.32L335.2 269.7L335.26 274.52L335.32 270.89L335.38 271.25L335.44 271.08L335.5 270.42L335.56 269.18L335.62 271.97L335.68 269.36L335.74 269.63L335.8 270.8L335.86 270.26L335.92 271.55L335.98 272.54L336.04 271.53L336.1 271.46L336.16 271.23L336.22 272.34L336.28 268.74L336.34 271.64L336.4 269.87L336.46 269.43L336.52 271.03L336.58 270.47L336.64 271.72L336.7 272.37L336.76 267.78L336.82 270.73L336.88 273.38L336.94 271.9L337 272.62L337.06 270.8L337.12 268.73L337.18 269.1L337.24 271.49L337.3 271.82L337.36 269.68L337.42 270.39L337.48 271.19L337.54 268.62L337.6 270.57L337.66 273.28L337.72 274.13L337.78 271.18L337.84 273.86L337.9 270.82L337.96 270.53L338.02 268.73L338.08 273.08L338.14 274.69L338.2 274.05L338.26 270.66L338.32 269.75L338.38 266.41L338.44 270.02L338.5 266.87L338.56 266.41L338.62 263.05L338.68 266.37L338.74 265.73L338.8 262.96L338.86 263.14L338.92 262.8L338.98 262.8L339.04 260.99L339.1 262.3L339.16 259.58L339.22 259.53L339.28 260.12L339.34 257.91L339.4 260.51L339.46 263.22L339.52 262.14L339.58 261.72L339.64 261.6L339.7 261.01L339.76 258.14L339.82 257.14L339.88 258.96L339.94 262.74L340 264.75L340.06 264.93L340.12 265.92L340.18 267.85L340.24 265.27L340.3 270.64L340.36 268.39L340.42 267.33L340.48 267.21L340.54 265.88L340.6 265.93L340.66 267.04L340.72 267.89L340.78 265.07L340.84 263.04L340.9 266.95L340.96 266.22L341.02 265.21L341.08 265.82L341.14 265.19L341.2 263.67L341.26 261.21L341.32 260.18L341.38 261.49L341.44 264.85L341.5 265.48L341.56 266.2L341.62 265.68L341.68 269.38L341.74 265.88L341.8 266.82L341.86 267.81L341.92 265.89L341.98 268.29L342.04 268.4L342.1 267.22L342.16 270.11L342.22 267.75L342.28 268.04L342.34 266.44L342.4 265.53L342.46 266.92L342.52 267.35L342.58 267.19L342.64 268.82L342.7 264.75L342.76 266.51L342.82 265.72L342.88 269.99L342.94 267.61L343 272.95L343.06 267.15L343.12 269.89L343.18 268.29L343.24 269.24L343.3 266.4L343.36 270.98L343.42 269.52L343.48 269.55L343.54 270.28L343.6 268.24L343.66 268.1L343.72 269.1L343.78 268.55L343.84 267.5L343.9 267.71L343.96 266.83L344.02 270.56L344.08 268.36L344.14 266.99L344.2 269.26L344.26 264.69L344.32 266.27L344.38 268.68L344.44 265.79L344.5 264.14L344.56 267.9L344.62 266.68L344.68 264.31L344.74 266.74L344.8 264.29L344.86 263.76L344.92 265.18L344.98 264.63L345.04 263.72L345.1 264.4L345.16 263.3L345.22 264.29L345.28 263.39L345.34 261.99L345.4 259.57L345.46 253.13L345.52 250.39L345.58 252.59L345.64 258.04L345.7 258.99L345.76 254.74L345.82 248.24L345.88 227.69L345.94 219.06L346 227.15L346.06 247.08L346.12 253.94L346.18 257.37L346.24 257.92L346.3 258.12L346.36 259.1L346.42 260.69L346.48 265.09L346.54 261.42L346.6 261.25L346.66 260.45L346.72 263.69L346.78 260.82L346.84 262.51L346.9 264.58L346.96 262.6L347.02 266.16L347.08 265.61L347.14 263.5L347.2 263.55L347.26 262.6L347.32 262.52L347.38 264.92L347.44 265.18L347.5 264.86L347.56 264.78L347.62 263.74L347.68 264.96L347.74 262.63L347.8 264.56L347.86 266.48L347.92 266.41L347.98 264.25L348.04 264.56L348.1 266.92L348.16 267.59L348.22 263.48L348.28 265.01L348.34 266.01L348.4 267.44L348.46 264.91L348.52 266.98L348.58 265.9L348.64 269.52L348.7 267.14L348.76 266.5L348.82 266.32L348.88 268.22L348.94 267.82L349 265.6L349.06 267.38L349.12 265.43L349.18 266.28L349.24 265.66L349.3 265.7L349.36 266.62L349.42 266.32L349.48 268.38L349.54 273.58L349.6 267.4L349.66 266.11L349.72 268.5L349.78 264.67L349.84 264.66L349.9 268L349.96 267.78L350.02 268.06L350.08 266.37L350.14 264.88L350.2 265.73L350.26 267L350.32 265.13L350.38 265.08L350.44 264.15L350.5 264.48L350.56 267.11L350.62 266.64L350.68 264.56L350.74 264.7L350.8 265.4L350.86 266.87L350.92 264.67L350.98 266L351.04 263.46L351.1 264.64L351.16 266.85L351.22 267.5L351.28 264.86L351.34 265.38L351.4 269.55L351.46 265.58L351.52 265.14L351.58 266.28L351.64 265.62L351.7 266.56L351.76 265.91L351.82 263.9L351.88 264.25L351.94 264.09L352 267.22L352.06 262.45L352.12 264.91L352.18 261.59L352.24 264.86L352.3 263.91L352.36 263.33L352.42 264.16L352.48 264.04L352.54 264.94L352.6 262.83L352.66 263.01L352.72 262.95L352.78 265.64L352.84 264.4L352.9 261.96L352.96 262.68L353.02 262.16L353.08 263.08L353.14 263.46L353.2 266.24L353.26 261.08L353.32 264.86L353.38 264.22L353.44 262.88L353.5 263.71L353.56 263.39L353.62 264.21L353.68 265.56L353.74 262.43L353.8 266.2L353.86 264.15L353.92 266.69L353.98 265.4L354.04 266.58L354.1 265.84L354.16 268.03L354.22 265.42L354.28 264.4L354.34 266.46L354.4 268.2L354.46 268.38L354.52 262.95L354.58 265.16L354.64 266.67L354.7 263.56L354.76 264.77L354.82 267.67L354.88 266.65L354.94 263.57L355 266.42L355.06 265.99L355.12 265.42L355.18 264.95L355.24 264.81L355.3 263.42L355.36 263.91L355.42 265.56L355.48 264.84L355.54 267.08L355.6 264.31L355.66 261.69L355.72 264.39L355.78 265.22L355.84 265.4L355.9 265.03L355.96 263.92L356.02 266.95L356.08 267.52L356.14 265.97L356.2 264.63L356.26 263.41L356.32 266.73L356.38 261.63L356.44 263.72L356.5 265.32L356.56 264.26L356.62 265.64L356.68 264.49L356.74 263.99L356.8 267.31L356.86 264.2L356.92 264.23L356.98 262.99L357.04 263.38L357.1 265.12L357.16 264.97L357.22 264.2L357.28 263.25L357.34 264.98L357.4 261.87L357.46 263.57L357.52 263.63L357.58 262.83L357.64 264.06L357.7 262.96L357.76 262.74L357.82 265.93L357.88 264.32L357.94 264.65L358 262.94L358.06 263.85L358.12 263.37L358.18 263.67L358.24 264.88L358.3 261.34L358.36 261.71L358.42 261.06L358.48 256.44L358.54 258.87L358.6 260.4L358.66 260.93L358.72 259.16L358.78 261.05L358.84 261.13L358.9 258.99L358.96 261.28L359.02 261.68L359.08 260.06L359.14 258.23L359.2 258.9L359.26 258.31L359.32 256.6L359.38 253.61L359.44 245.33L359.5 241.88L359.56 245.31L359.62 253.71L359.68 256.99L359.74 257.37L359.8 257.18L359.86 254.76L359.92 249.05L359.98 234.31L360.04 228.12L360.1 234.28L360.16 249.51L360.22 254.85L360.28 257.01L360.34 257.37L360.4 259.77L360.46 260.46L360.52 260.55L360.58 265.5L360.64 260.51L360.7 261.21L360.76 261.3L360.82 256.63L360.88 259.58L360.94 259.75L361 260.45L361.06 259.76L361.12 258.33L361.18 253.73L361.24 252L361.3 254.01L361.36 258.93L361.42 260.41L361.48 261.27L361.54 261.8L361.6 262.93L361.66 259.92L361.72 262.81L361.78 266.01L361.84 261.82L361.9 263.1L361.96 262.18L362.02 261.07L362.08 262.34L362.14 261.58L362.2 260.98L362.26 261.04L362.32 260.79L362.38 259.93L362.44 259.73L362.5 260.29L362.56 259.02L362.62 258.58L362.68 261.75L362.74 259.77L362.8 259.99L362.86 259.8L362.92 259.96L362.98 259.91L363.04 259.91L363.1 258.77L363.16 260.9L363.22 258.9L363.28 261.18L363.34 257.6L363.4 258.79L363.46 261.49L363.52 260.18L363.58 259.64L363.64 261.08L363.7 259.41L363.76 260.94L363.82 258.17L363.88 260.52L363.94 260.39L364 262.01L364.06 262.56L364.12 260.49L364.18 263.73L364.24 260.88L364.3 258.85L364.36 265.67L364.42 263.03L364.48 260.8L364.54 259.91L364.6 259.61L364.66 258.99L364.72 261.89L364.78 259.9L364.84 262.07L364.9 259.56L364.96 257.14L365.02 261.43L365.08 260.18L365.14 260.63L365.2 263.19L365.26 261.16L365.32 263.24L365.38 262.04L365.44 261.37L365.5 263.24L365.56 262.1L365.62 264.7L365.68 264.63L365.74 263.75L365.8 264.72L365.86 264.94L365.92 264.13L365.98 265.91L366.04 264.73L366.1 265.99L366.16 264.09L366.22 265.57L366.28 266.09L366.34 264.66L366.4 265.26L366.46 265.23L366.52 266.98L366.58 267.52L366.64 266.48L366.7 267.7L366.76 266.02L366.82 263.3L366.88 265.36L366.94 266.36L367 264.47L367.06 266.08L367.12 265.27L367.18 264.84L367.24 263.78L367.3 266.52L367.36 264.18L367.42 264.79L367.48 265.58L367.54 265.65L367.6 264.92L367.66 265.6L367.72 267.69L367.78 263.05L367.84 262.93L367.9 261.66L367.96 261.19L368.02 259.87L368.08 258.66L368.14 256.66L368.2 257.34L368.26 255.62L368.32 252.04L368.38 252.83L368.44 251.51L368.5 250.31L368.56 248.82L368.62 244.19L368.68 233.45L368.74 202.79L368.8 190.27L368.86 203.38L368.92 234.71L368.98 245.99L369.04 247.87L369.1 238.22L369.16 211.75L369.22 200.95L369.28 212.33L369.34 239.9L369.4 250.13L369.46 254.6L369.52 255.61L369.58 261.28L369.64 259.59L369.7 259.14L369.76 260.24L369.82 261.7L369.88 262.53L369.94 262.4L370 263.76L370.06 264.65L370.12 261.75L370.18 263.26L370.24 263.24L370.3 267.02L370.36 266.45L370.42 265.29L370.48 262.96L370.54 263.77L370.6 265.32L370.66 263.17L370.72 263.58L370.78 263.94L370.84 261.07L370.9 264.24L370.96 263.52L371.02 263.47L371.08 261.18L371.14 261.12L371.2 261L371.26 261.75L371.32 261.19L371.38 260.93L371.44 262.69L371.5 261.75L371.56 258.87L371.62 258.63L371.68 261.13L371.74 258.12L371.8 259.75L371.86 259.54L371.92 256.41L371.98 256.27L372.04 256.23L372.1 254.59L372.16 253.97L372.22 254.39L372.28 256.11L372.34 254.7L372.4 254.63L372.46 254.39L372.52 253.18L372.58 251.2L372.64 243.45L372.7 240.53L372.76 243.81L372.82 251.28L372.88 254.53L372.94 255.21L373 256.19L373.06 257.7L373.12 256.24L373.18 258.42L373.24 258.05L373.3 258.35L373.36 259.94L373.42 258.97L373.48 260.21L373.54 259.48L373.6 257.34L373.66 259.31L373.72 259.75L373.78 257.48L373.84 260.99L373.9 259.17L373.96 259.3L374.02 257.49L374.08 258.45L374.14 258.5L374.2 257.48L374.26 257.74L374.32 254.78L374.38 258.85L374.44 255.54L374.5 262.8L374.56 255.26L374.62 255.17L374.68 254.73L374.74 254.07L374.8 251.99L374.86 247.38L374.92 234.98L374.98 229.8L375.04 234.91L375.1 247.31L375.16 252.23L375.22 253.54L375.28 254.72L375.34 256.44L375.4 253.61L375.46 251.99L375.52 247.2L375.58 237.22L375.64 209.49L375.7 198.05L375.76 209.42L375.82 237.25L375.88 247.08L375.94 250.97L376 252.96L376.06 255.18L376.12 255.24L376.18 255.06L376.24 257.33L376.3 257.78L376.36 257.99L376.42 257.29L376.48 260.42L376.54 260.53L376.6 258.27L376.66 259.02L376.72 260.93L376.78 258.56L376.84 260.18L376.9 259.86L376.96 259.04L377.02 259.75L377.08 258.19L377.14 259.6L377.2 262.12L377.26 263.08L377.32 261.92L377.38 261.39L377.44 260.05L377.5 260.74L377.56 260.9L377.62 260.4L377.68 260.09L377.74 257.63L377.8 259.12L377.86 257.74L377.92 256.36L377.98 255.73L378.04 256.99L378.1 257.08L378.16 253.43L378.22 256.55L378.28 253.37L378.34 251.6L378.4 250.74L378.46 248.09L378.52 241.81L378.58 239.26L378.64 242.21L378.7 248.54L378.76 251.37L378.82 252.26L378.88 253.53L378.94 254.9L379 255.72L379.06 255.61L379.12 256.13L379.18 255.66L379.24 254.7L379.3 255.69L379.36 256.11L379.42 259.09L379.48 258.07L379.54 256.4L379.6 254.78L379.66 254.63L379.72 255.11L379.78 256.86L379.84 255.39L379.9 254.73L379.96 253.69L380.02 255.52L380.08 254.56L380.14 253.74L380.2 253.52L380.26 255.03L380.32 252.38L380.38 254.21L380.44 253.25L380.5 251.41L380.56 252L380.62 250.38L380.68 249.13L380.74 249.4L380.8 248.23L380.86 249.51L380.92 248.56L380.98 249.15L381.04 249.39L381.1 244.64L381.16 244.43L381.22 240.46L381.28 230.54L381.34 204.37L381.4 193.44L381.46 204.23L381.52 230.4L381.58 240L381.64 243.6L381.7 245.43L381.76 248.36L381.82 247.63L381.88 247.15L381.94 247.07L382 251.89L382.06 247.79L382.12 246.29L382.18 247.49L382.24 248.33L382.3 248.48L382.36 249.01L382.42 248.03L382.48 250.09L382.54 249.03L382.6 248.15L382.66 248.97L382.72 249.66L382.78 251.24L382.84 250.73L382.9 249.66L382.96 250.01L383.02 250.16L383.08 252.26L383.14 249.01L383.2 250.22L383.26 250.45L383.32 248.53L383.38 248.02L383.44 249.24L383.5 247.67L383.56 244.19L383.62 242.89L383.68 244.43L383.74 248.01L383.8 248.9L383.86 250.55L383.92 249.76L383.98 250.98L384.04 251.4L384.1 250.13L384.16 250.34L384.22 249.38L384.28 249.69L384.34 249.93L384.4 247.76L384.46 247.87L384.52 247.19L384.58 246.4L384.64 246.46L384.7 244.78L384.76 246.59L384.82 247.45L384.88 243.53L384.94 243.01L385 238.95L385.06 232.04L385.12 213.16L385.18 205.18L385.24 212.93L385.3 231.95L385.36 238.89L385.42 233.54L385.48 218.41L385.54 211.92L385.6 218.18L385.66 233.46L385.72 238.97L385.78 242.48L385.84 242.61L385.9 244.11L385.96 244.56L386.02 243.78L386.08 244.08L386.14 245.72L386.2 245.6L386.26 244.13L386.32 245.67L386.38 247.13L386.44 245.34L386.5 245.89L386.56 249.08L386.62 248.99L386.68 245.76L386.74 246.31L386.8 248.6L386.86 246.98L386.92 248.33L386.98 248.34L387.04 249.78L387.1 246.34L387.16 251.66L387.22 247.85L387.28 250.27L387.34 248.64L387.4 246.56L387.46 248.93L387.52 248.94L387.58 247.57L387.64 247.23L387.7 248.2L387.76 246.3L387.82 245.77L387.88 244.32L387.94 238.22L388 223.65L388.06 217.66L388.12 224.07L388.18 239.75L388.24 244.71L388.3 246.82L388.36 246.42L388.42 248.73L388.48 245.25L388.54 247.16L388.6 245.21L388.66 244.36L388.72 244.06L388.78 246.3L388.84 245.69L388.9 243.74L388.96 243.09L389.02 244.27L389.08 243.56L389.14 245.85L389.2 242.25L389.26 242.15L389.32 244.3L389.38 244.94L389.44 245.42L389.5 246.47L389.56 248.35L389.62 245.85L389.68 245.94L389.74 244.85L389.8 247.53L389.86 248.57L389.92 247.45L389.98 249.36L390.04 248.2L390.1 250.16L390.16 248.96L390.22 247.51L390.28 248.21L390.34 247.34L390.4 247.3L390.46 249.88L390.52 250.8L390.58 252.3L390.64 250.1L390.7 250.08L390.76 249.24L390.82 251.95L390.88 254.03L390.94 250.31L391 251.93L391.06 251.85L391.12 249.01L391.18 252.23L391.24 251.58L391.3 251.03L391.36 251.08L391.42 255.93L391.48 253.59L391.54 254.02L391.6 250.52L391.66 251.19L391.72 253.15L391.78 250.68L391.84 251.35L391.9 256.05L391.96 254.51L392.02 253.56L392.08 252.83L392.14 252.54L392.2 251.77L392.26 251.79L392.32 253.02L392.38 251.41L392.44 253.76L392.5 251.68L392.56 251.22L392.62 253.84L392.68 252.1L392.74 252.94L392.8 251.77L392.86 249.56L392.92 255.71L392.98 250.59L393.04 253.48L393.1 250.26L393.16 249.84L393.22 251.12L393.28 250.46L393.34 249.27L393.4 248.62L393.46 249.19L393.52 250.09L393.58 250.69L393.64 250.82L393.7 251.28L393.76 252.72L393.82 250.89L393.88 252.29L393.94 252.52L394 249.77L394.06 250.57L394.12 251.65L394.18 251.55L394.24 252.78L394.3 250.21L394.36 253.57L394.42 253.74L394.48 252.78L394.54 251.45L394.6 253.28L394.66 252.76L394.72 255.71L394.78 253.44L394.84 254.29L394.9 252.73L394.96 254.87L395.02 250.18L395.08 251.6L395.14 253.28L395.2 250.71L395.26 253.28L395.32 250.78L395.38 252.22L395.44 250.86L395.5 251.29L395.56 251.88L395.62 251.38L395.68 250.84L395.74 253.69L395.8 250.91L395.86 249.54L395.92 251.61L395.98 251.28L396.04 251.56L396.1 252.03L396.16 248.58L396.22 250.76L396.28 250.66L396.34 249.1L396.4 249.19L396.46 245.14L396.52 247.82L396.58 250.42L396.64 246.19L396.7 247.81L396.76 248.93L396.82 249.42L396.88 250.82L396.94 246.93L397 249.22L397.06 250.34L397.12 247.89L397.18 249.55L397.24 251.99L397.3 251.46L397.36 250.68L397.42 252.34L397.48 249.92L397.54 250.21L397.6 249.07L397.66 249.03L397.72 252.45L397.78 248.22L397.84 247L397.9 248.12L397.96 247.19L398.02 247.37L398.08 247.82L398.14 249.02L398.2 248.56L398.26 247.04L398.32 248.48L398.38 249.39L398.44 248.45L398.5 250.55L398.56 250.29L398.62 248.36L398.68 249.95L398.74 251.93L398.8 251.43L398.86 249.5L398.92 250.64L398.98 248.77L399.04 247.84L399.1 250.23L399.16 249.86L399.22 250.18L399.28 249.54L399.34 249.96L399.4 248.96L399.46 250.13L399.52 250.56L399.58 249.5L399.64 250.54L399.7 247.58L399.76 248.87L399.82 251.65L399.88 252.15L399.94 250.47L400 250.16L400.06 248.89L400.12 250.96L400.18 251.58L400.24 248.99L400.3 252.51L400.36 251.34L400.42 251.05L400.48 248.95L400.54 250.71L400.6 248.05L400.66 251.38L400.72 249.53L400.78 247.76L400.84 250.51L400.9 250.05L400.96 247.68L401.02 250.83L401.08 246.8L401.14 248.13L401.2 248.93L401.26 244.62L401.32 248.25L401.38 246.64L401.44 246.33L401.5 244.71L401.56 245.24L401.62 243.93L401.68 243.41L401.74 239.47L401.8 237.91L401.86 238.73L401.92 240.96L401.98 241.45L402.04 241.94L402.1 241.49L402.16 251.16L402.22 242.83L402.28 241.66L402.34 241.69L402.4 242.29L402.46 243.32L402.52 243.29L402.58 242.02L402.64 240.36L402.7 245.29L402.76 243.94L402.82 243.17L402.88 243.28L402.94 242.31L403 241.79L403.06 242.58L403.12 242.73L403.18 242.29L403.24 241.35L403.3 242.7L403.36 243.75L403.42 242.54L403.48 243.16L403.54 240.78L403.6 243.03L403.66 243.21L403.72 242.03L403.78 241.53L403.84 244.1L403.9 242.78L403.96 244.37L404.02 243.41L404.08 244.71L404.14 243.68L404.2 248.12L404.26 243.81L404.32 243.29L404.38 244.19L404.44 242.67L404.5 242.5L404.56 243.7L404.62 243.81L404.68 243.1L404.74 243.18L404.8 242.27L404.86 242.39L404.92 242.39L404.98 241.75L405.04 241.26L405.1 241.26L405.16 243.75L405.22 240.92L405.28 240.54L405.34 240.3L405.4 240.58L405.46 240.8L405.52 239.13L405.58 238.07L405.64 240.57L405.7 238.31L405.76 240.26L405.82 239.94L405.88 240.89L405.94 241.28L406 239.62L406.06 238.38L406.12 237.49L406.18 237.73L406.24 238.48L406.3 235.91L406.36 238.13L406.42 237.84L406.48 238.38L406.54 237.09L406.6 237.32L406.66 236.08L406.72 236.09L406.78 234.33L406.84 235.24L406.9 234.79L406.96 234.98L407.02 234.97L407.08 233.16L407.14 232.51L407.2 232.56L407.26 233.56L407.32 234.05L407.38 233.26L407.44 233.85L407.5 234.57L407.56 234.87L407.62 235.3L407.68 234.89L407.74 234.62L407.8 233.62L407.86 233.73L407.92 230.97L407.98 224.74L408.04 209.3L408.1 202.92L408.16 209.62L408.22 225.71L408.28 231.92L408.34 233.84L408.4 235.34L408.46 233.96L408.52 235.02L408.58 234.25L408.64 233.02L408.7 231.53L408.76 225.96L408.82 213.03L408.88 207.36L408.94 212.45L409 225L409.06 229.34L409.12 231.69L409.18 230.95L409.24 233.54L409.3 232.51L409.36 234.83L409.42 233.96L409.48 234.97L409.54 234.87L409.6 233.68L409.66 236.61L409.72 235.98L409.78 237.82L409.84 234.96L409.9 237.07L409.96 235.23L410.02 235.65L410.08 236.33L410.14 235.52L410.2 233.22L410.26 235.96L410.32 236.27L410.38 236.18L410.44 237.19L410.5 235.52L410.56 236.08L410.62 237.19L410.68 234.63L410.74 237.41L410.8 237.42L410.86 236.12L410.92 233.52L410.98 232.19L411.04 229.44L411.1 222.48L411.16 204.06L411.22 196.37L411.28 203.93L411.34 221.84L411.4 228.85L411.46 232.02L411.52 232.57L411.58 235.51L411.64 233.34L411.7 232.74L411.76 232.12L411.82 229.36L411.88 224.81L411.94 212.19L412 205.34L412.06 209.29L412.12 219.93L412.18 223.93L412.24 224.45L412.3 223.69L412.36 225.41L412.42 223.63L412.48 221.74L412.54 220.04L412.6 218.73L412.66 218.61L412.72 216.95L412.78 219.22L412.84 218.17L412.9 218.1L412.96 218.17L413.02 218.47L413.08 216.29L413.14 216.8L413.2 214.44L413.26 213.38L413.32 213.63L413.38 218.62L413.44 213.48L413.5 216.57L413.56 217.51L413.62 214.07L413.68 205.34L413.74 182.63L413.8 181.55L413.86 183.41L413.92 181.25L413.98 179.6L414.04 181.24L414.1 180.07L414.16 179.04L414.22 179.13L414.28 183.76L414.34 180.25L414.4 181L414.46 180.29L414.52 181.41L414.58 167.55L414.64 151.15L414.7 167.75L414.76 179.84L414.82 180.79L414.88 182.22L414.94 184.59L415 183.53L415.06 184.85L415.12 183.47L415.18 183.07L415.24 181.81L415.3 183.84L415.36 181.41L415.42 186.84L415.48 186.73L415.54 185.03L415.6 186.04L415.66 184.07L415.72 182.77L415.78 183.91L415.84 183.99L415.9 186.04L415.96 187.02L416.02 183.49L416.08 183.97L416.14 184.22L416.2 183.96L416.26 182.82L416.32 184.57L416.38 184.93L416.44 184.98L416.5 182.94L416.56 184.37L416.62 177.74L416.68 169.85L416.74 177.77L416.8 184.23L416.86 184.03L416.92 183.87L416.98 183.27L417.04 182.02L417.1 185.96L417.16 183.48L417.22 186.36L417.28 184.68L417.34 181.3L417.4 181.55L417.46 180.3L417.52 181.2L417.58 179.75L417.64 178.8L417.7 177.38L417.76 177.33L417.82 179.54L417.88 172.99L417.94 174.68L418 174.15L418.06 174.48L418.12 172.59L418.18 167.84L418.24 159.41L418.3 168.2L418.36 175.13L418.42 173.86L418.48 175.56L418.54 174.01L418.6 179.86L418.66 176.26L418.72 176.57L418.78 179.63L418.84 175.92L418.9 177.78L418.96 176.14L419.02 173.85L419.08 174.36L419.14 174.06L419.2 174.4L419.26 173.64L419.32 173.09L419.38 175.91L419.44 173.7L419.5 173.09L419.56 173.08L419.62 173.01L419.68 174.86L419.74 173.63L419.8 174.3L419.86 169.02L419.92 173.1L419.98 173.86L420.04 174.8L420.1 172.26L420.16 169.97L420.22 172.6L420.28 168.22L420.34 164.16L420.4 167.87L420.46 172.47L420.52 172.48L420.58 171.72L420.64 169.4L420.7 173.44L420.76 168.75L420.82 169.81L420.88 171.95L420.94 170.98L421 171.86L421.06 169.96L421.12 168.76L421.18 168.34L421.24 168.4L421.3 158.24L421.36 146.52L421.42 157.78L421.48 166.8L421.54 167.01L421.6 167.15L421.66 168.42L421.72 166.84L421.78 166.15L421.84 165.33L421.9 164.21L421.96 165.33L422.02 166.17L422.08 165.84L422.14 166.28L422.2 167.12L422.26 166.81L422.32 166.68L422.38 167.18L422.44 166.68L422.5 166.48L422.56 167.12L422.62 164.58L422.68 168.01L422.74 164.83L422.8 167.15L422.86 166L422.92 167.11L422.98 165.66L423.04 164.33L423.1 166.51L423.16 165.29L423.22 165.14L423.28 165.18L423.34 166.35L423.4 166.23L423.46 165.63L423.52 163.62L423.58 168.65L423.64 165.75L423.7 167.82L423.76 166.26L423.82 165.78L423.88 164.16L423.94 162.41L424 164.25L424.06 166.29L424.12 164.39L424.18 167.33L424.24 166.75L424.3 165.96L424.36 165L424.42 168.11L424.48 168.11L424.54 165.77L424.6 165.35L424.66 167.17L424.72 164.86L424.78 164.19L424.84 166.36L424.9 166.14L424.96 166.71L425.02 166.45L425.08 169.9L425.14 166.42L425.2 165.69L425.26 165.58L425.32 166.58L425.38 166.68L425.44 166.33L425.5 165.92L425.56 161.11L425.62 163.66L425.68 164.33L425.74 164.8L425.8 162.38L425.86 160.15L425.92 162.11L425.98 163.3L426.04 164.08L426.1 163.35L426.16 162.73L426.22 164.17L426.28 163.17L426.34 162.17L426.4 163.19L426.46 169.15L426.52 162.9L426.58 165.75L426.64 163.12L426.7 166.56L426.76 165.67L426.82 163.64L426.88 164.98L426.94 166.29L427 164.77L427.06 163.68L427.12 163.36L427.18 161.64L427.24 163.53L427.3 166.08L427.36 165.43L427.42 168.14L427.48 164.81L427.54 164.82L427.6 166.33L427.66 165.74L427.72 163.65L427.78 165.8L427.84 161.65L427.9 163.09L427.96 161.7L428.02 162.03L428.08 154.32L428.14 146.17L428.2 145.15L428.26 145.86L428.32 147.11L428.38 154.8L428.44 145.69L428.5 147.55L428.56 146.62L428.62 146.16L428.68 145.22L428.74 146.36L428.8 144.52L428.86 153.6L428.92 147.26L428.98 145.04L429.04 148.45L429.1 156.48L429.16 147.25L429.22 146.69L429.28 153.6L429.34 144.52L429.4 142.9L429.46 145.77L429.52 152.88L429.58 157.61L429.64 158.32L429.7 157.84L429.76 157.75L429.82 156.62L429.88 159.38L429.94 159.46L430 157.9L430.06 162.65L430.12 159.51L430.18 158.01L430.24 158.95L430.3 157.95L430.36 155.52L430.42 156.83L430.48 156.79L430.54 157.73L430.6 156.05L430.66 156.42L430.72 155.64L430.78 156.19L430.84 155.83L430.9 156.35L430.96 155.66L431.02 154.47L431.08 154.07L431.14 153.44L431.2 152.96L431.26 152.44L431.32 145.8L431.38 145.6L431.44 142.42L431.5 128.48L431.56 123.05L431.62 132.08L431.68 140.87L431.74 142.53L431.8 142.89L431.86 143.97L431.92 143.84L431.98 144.65L432.04 143.1L432.1 143.66L432.16 142.03L432.22 140.76L432.28 140.12L432.34 139.03L432.4 137.64L432.46 136.03L432.52 133L432.58 131.42L432.64 123.44L432.7 119.71L432.76 120.41L432.82 118.37L432.88 119.39L432.94 119.11L433 117.36L433.06 117.05L433.12 116.67L433.18 117.02L433.24 115.74L433.3 114.79L433.36 114.01L433.42 108.7L433.48 103.68L433.54 108.7L433.6 113.92L433.66 113.66L433.72 115.58L433.78 116.46L433.84 118.42L433.9 121.11L433.96 127.06L434.02 122.73L434.08 125.44L434.14 124.48L434.2 123.59L434.26 123.3L434.32 121.23L434.38 120.72L434.44 119.15L434.5 119.23L434.56 116.95L434.62 115.2L434.68 114.01L434.74 112.87L434.8 112.17L434.86 110.85L434.92 110.12L434.98 108.44L435.04 107.16L435.1 106.02L435.16 104.52L435.22 103.52L435.28 102.59L435.34 101.39L435.4 99.46L435.46 97.59L435.52 96.92L435.58 96.32L435.64 93.58L435.7 93.5L435.76 92.92L435.82 91.27L435.88 89.86L435.94 90.25L436 89.09L436.06 87.07L436.12 86.87L436.18 85.77L436.24 83.28L436.3 84.21L436.36 80.93L436.42 80.09L436.48 78.38L436.54 77.83L436.6 75.8L436.66 75.32L436.72 74.72L436.78 72.68L436.84 70.38L436.9 69.4L436.96 65.99L437.02 65.03L437.08 64.16L437.14 64.32L437.2 64.07L437.26 63.98L437.32 63.73L437.38 65.83L437.44 63.14L437.5 63.59L437.56 63.12L437.62 62.35L437.68 61.42L437.74 60.23L437.8 59.41L437.86 58.35L437.92 57.1L437.98 55.45L438.04 54.77L438.1 52.94L438.16 51.02L438.22 51.73L438.28 49.76L438.34 49.19L438.4 48.09L438.46 48.3L438.52 46.28L438.58 46.29L438.64 44.92L438.7 43.56L438.76 42.45L438.82 42.8L438.88 41.9L438.94 41.31L439 41.14L439.06 39.35L439.12 38.53L439.18 37.46L439.24 36.87L439.3 36.27L439.36 35.61L439.42 34.96L439.48 33.74L439.54 34.31L439.6 35.49L439.66 35.34L439.72 34.69L439.78 38.76L439.84 35.05L439.9 34.71L439.96 35.37L440.02 35.17L440.08 34.75L440.14 35.17L440.2 33.76L440.26 34.34L440.32 33.36L440.38 33.65L440.44 33.23L440.5 33.21L440.56 31.99L440.62 30.86L440.68 31.75L440.74 32.69L440.8 32.91L440.86 32.99L440.92 31.94L440.98 32.21L441.04 31.1L441.1 30.65L441.16 33.62L441.22 31.41L441.28 30.79L441.34 30.57L441.4 31.88L441.46 31.05L441.52 30.49L441.58 30.24L441.64 30.81L441.7 31.21L441.76 31.78L441.82 32.5L441.88 32.21L441.94 30.22L442 30.25L442.06 30.84L442.12 30.35L442.18 30.13L442.24 29.5L442.3 29.99L442.36 30.64L442.42 30.79L442.48 31L442.54 31.25L442.6 31.63L442.66 29.98L442.72 30.32L442.78 29.6L442.84 28.99L442.9 29.51L442.96 29.76L443.02 29.6L443.08 29.27L443.14 29.56L443.2 28.92L443.26 30.74L443.32 28.81L443.38 30.93L443.44 30.67L443.5 30.27L443.56 29.44L443.62 29.16L443.68 28.93L443.74 28.37L443.8 50.22L443.86 71.23L443.92 71.59L443.98 69.29L444.04 69.46L444.1 67.95L444.16 68.55L444.22 69.2L444.28 68.34L444.34 70.2L444.4 68.87L444.46 68.07L444.52 68.84L444.58 66.05L444.64 68.03L444.7 67.82L444.76 66.19L444.82 66.2L444.88 67.59L444.94 66.04L445 66.18L445.06 66.81L445.12 65.86L445.18 66.16L445.24 64.92L445.3 65.47L445.36 65.75L445.42 65L445.48 63.03L445.54 64.86L445.6 64.25L445.66 63.38L445.72 64.82L445.78 62.48L445.84 64.99L445.9 63.18L445.96 64.7L446.02 63.52L446.08 62.58L446.14 64.2L446.2 63.67L446.26 63.78L446.32 64.1L446.38 62.69L446.44 63.63L446.5 63.76L446.56 62.94L446.62 62.36L446.68 62.23L446.74 63.32L446.8 63.24L446.86 61.99L446.92 61.52L446.98 63.21L447.04 61.14L447.1 62.23L447.16 61.44L447.22 60.67L447.28 61.89" clip-path="url(#pd9eb30c69a)" style="fill: none; stroke: #000000; stroke-width: 0.5; stroke-linecap: square"/>
   </g>
   <g id="patch_3">
    <path d="M 67.08 282.576 L 67.08 26.976" style="fill: none; stroke: #000000; stroke-width: 0.8; stroke-linejoin: miter; stroke-linecap: square"/>
   </g>
   <g id="patch_4">
    <path d="M 447.24 282.576 L 447.24 26.976" style="fill: none; stroke: #000000; stroke-width: 0.8; stroke-linejoin: miter; stroke-linecap: square"/>
   </g>
   <g id="patch_5">
    <path d="M 67.056 282.6 L 447.264 282.6" style="fill: none; stroke: #000000; stroke-width: 0.8; stroke-linejoin: miter; stroke-linecap: square"/>
   </g>
   <g id="patch_6">
    <path d="M 67.056 27 L 447.264 27" style="fill: none; stroke: #000000; stroke-width: 0.8; stroke-linejoin: miter; stroke-linecap: square"/>
   </g>
   <g id="text_13">
    <text style="font-size: 12px; font-family: 'DejaVu Sans', 'Liberation Sans', sans-serif; text-anchor: middle" x="257.2800" y="20.9760" transform="rotate(-0 257.2800 20.9760)">Peak field sums for DK000G_20251212_152533_830506</text>
   </g>
   <g id="legend_1">
    <g id="patch_7">
     <path d="M 220.437187 65.19225 
L 293.882812 65.19225 
Q 295.882812 65.19225 295.882812 63.19225 
L 295.882812 33.976 
Q 295.882812 31.976 293.882812 31.976 
L 220.437187 31.976 
Q 218.437187 31.976 218.437187 33.976 
L 218.437187 63.19225 
Q 218.437187 65.19225 220.437187 65.19225 
z
" style="fill: #ffffff; opacity: 0.8; stroke: #cccccc; stroke-linejoin: miter"/>
    </g>
    <g id="line2d_29">
     <path d="M 222.627187 40.264437 
L 232.627187 40.264437 
L 242.627187 40.264437 
" style="fill: none; stroke: #ff0000; stroke-width: 0.5; stroke-linecap: square"/>
    </g>
    <g id="text_14">
     <text style="font-size: 10px; font-family: 'DejaVu Sans', 'Liberation Sans', sans-serif; text-anchor: start" x="250.627187" y="43.764437" transform="rotate(-0 250.627187 43.764437)">Peak</text>
    </g>
    <g id="line2d_30">
     <path d="M 222.627187 55.422562 
L 232.627187 55.422562 
L 242.627187 55.422562 
" style="fill: none; stroke: #000000; stroke-width: 0.5; stroke-linecap: square"/>
    </g>
    <g id="text_15">
     <text style="font-size: 10px; font-family: 'DejaVu Sans', 'Liberation Sans', sans-serif; text-anchor: start" x="250.627187" y="58.922562" transform="rotate(-0 250.627187 58.922562)">Average</text>
    </g>
   </g>
  </g>
 </g>
 <defs>
  <clipPath id="pd9eb30c69a">
   <rect x="67.056" y="26.976" width="380.208" height="255.6"/>
  </clipPath>
 </defs>
</svg>

</body></html>
